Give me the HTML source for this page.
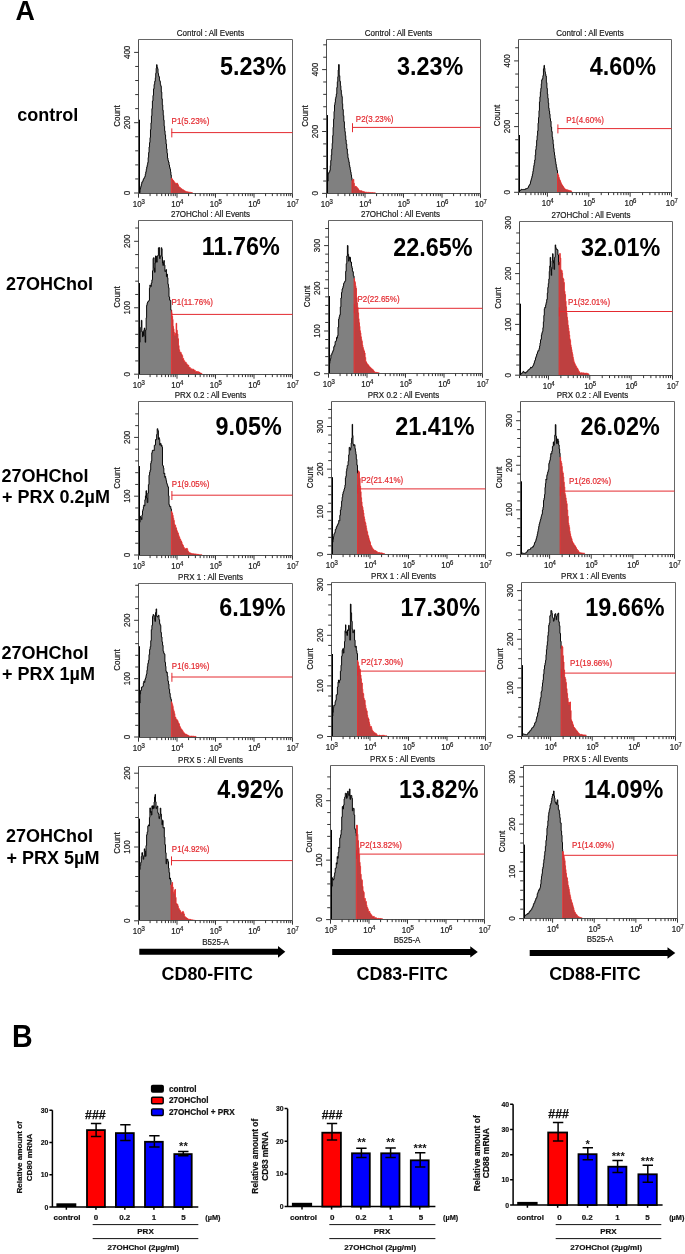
<!DOCTYPE html>
<html><head><meta charset="utf-8"><style>
html,body{margin:0;padding:0;background:#fff;}
body{width:685px;height:1254px;overflow:hidden;}
svg{display:block;will-change:transform;}
text{font-family:"Liberation Sans", sans-serif;}
</style></head><body>
<svg width="685" height="1254" viewBox="0 0 685 1254" font-family='"Liberation Sans", sans-serif'>
<rect width="685" height="1254" fill="#fff"/>
<text x="15.6" y="19.5" font-size="26.8" font-weight="bold" fill="#000" text-anchor="start" >A</text>
<text x="17.2" y="120.7" font-size="18" font-weight="bold" fill="#000" text-anchor="start" >control</text>
<text x="6.1" y="290.2" font-size="18" font-weight="bold" fill="#000" text-anchor="start" >27OHChol</text>
<text x="1.6" y="482" font-size="18" font-weight="bold" fill="#000" text-anchor="start" >27OHChol</text>
<text x="2" y="503.2" font-size="18" font-weight="bold" fill="#000" text-anchor="start" >+ PRX 0.2µM</text>
<text x="1.6" y="659.2" font-size="18" font-weight="bold" fill="#000" text-anchor="start" >27OHChol</text>
<text x="2" y="680.3" font-size="18" font-weight="bold" fill="#000" text-anchor="start" >+ PRX 1µM</text>
<text x="6.1" y="842.3" font-size="18" font-weight="bold" fill="#000" text-anchor="start" >27OHChol</text>
<text x="6.5" y="863.5" font-size="18" font-weight="bold" fill="#000" text-anchor="start" >+ PRX 5µM</text>
<polygon points="138.5,193.5 138.5,119.8 140,119.8 140,192.8 139.6,192.8 140,192.8 140,189.08 140.45,189.08 140.45,187.55 140.9,187.55 140.9,185.92 141.35,185.92 141.35,184.14 141.8,184.14 141.8,182.18 142.3,182.18 142.3,181.73 142.8,181.73 142.8,180.65 143.3,180.65 143.3,179.05 143.8,179.05 143.8,178.46 144.3,178.46 144.3,177.45 144.8,177.45 144.8,176.47 145.28,176.47 145.28,174.17 145.77,174.17 145.77,171.8 146.25,171.8 146.25,169.26 146.73,169.26 146.73,166.88 147.22,166.88 147.22,164.74 147.7,164.74 147.7,162.58 148.16,162.58 148.16,157.5 148.62,157.5 148.62,152.54 149.08,152.54 149.08,146.96 149.54,146.96 149.54,142.59 150,142.59 150,137.63 150.48,137.63 150.48,129.6 150.96,129.6 150.96,122.88 151.44,122.88 151.44,115.88 151.92,115.88 151.92,108.61 152.4,108.61 152.4,100.97 152.97,100.97 152.97,95.44 153.53,95.44 153.53,88.83 154.1,88.83 154.1,84.41 154.7,84.41 154.7,81.28 155.3,81.28 155.3,77.74 155.73,77.74 155.73,73.27 156.17,73.27 156.17,68.2 156.6,68.2 156.6,64.68 157.07,64.68 157.07,67.25 157.55,67.25 157.55,68.62 158.03,68.62 158.03,73.38 158.5,73.38 158.5,75.7 158.96,75.7 158.96,76.81 159.42,76.81 159.42,80.37 159.88,80.37 159.88,81.31 160.34,81.31 160.34,84.64 160.8,84.64 160.8,86.23 161.3,86.23 161.3,92.09 161.8,92.09 161.8,98.87 162.3,98.87 162.3,104.9 162.76,104.9 162.76,110.27 163.22,110.27 163.22,115.4 163.68,115.4 163.68,120.19 164.14,120.19 164.14,126.16 164.6,126.16 164.6,130.85 165.08,130.85 165.08,134.82 165.57,134.82 165.57,139.39 166.05,139.39 166.05,144.03 166.53,144.03 166.53,148.83 167.02,148.83 167.02,153.25 167.5,153.25 167.5,158.08 168,158.08 168,160.66 168.5,160.66 168.5,162.04 169,162.04 169,164.98 169.5,164.98 169.5,167.24 170,167.24 170,169.13 170.5,169.13 170.5,171.8 170.9,171.8 170.9,175.07 171.3,175.07 171.3,178.2 171.3,193.5" fill="#808080"/>
<polygon points="171.3,193.5 171.3,178.2 171.9,178.2 171.9,178.97 172.5,178.97 172.5,179.91 173.03,179.91 173.03,180.45 173.57,180.45 173.57,181 174.1,181 174.1,182.28 174.63,182.28 174.63,182.74 175.17,182.74 175.17,183.27 175.7,183.27 175.7,183.77 176.13,183.77 176.13,183.82 176.57,183.82 176.57,183.22 177,183.22 177,183.23 177.5,183.23 177.5,183.89 178,183.89 178,185.14 178.5,185.14 178.5,186.7 178.97,186.7 178.97,186.93 179.45,186.93 179.45,187.15 179.93,187.15 179.93,187.64 180.4,187.64 180.4,188.19 180.92,188.19 180.92,188.7 181.44,188.7 181.44,188.76 181.96,188.76 181.96,189.47 182.48,189.47 182.48,189.8 183,189.8 183,189.82 183.53,189.82 183.53,190.32 184.07,190.32 184.07,190.64 184.6,190.64 184.6,190.94 185.13,190.94 185.13,191.21 185.67,191.21 185.67,191.51 186.2,191.51 186.2,191.8 186.69,191.8 186.69,191.84 187.18,191.84 187.18,191.85 187.68,191.85 187.68,192.03 188.17,192.03 188.17,192.04 188.66,192.04 188.66,192.2 189.15,192.2 189.15,192.25 189.65,192.25 189.65,192.33 190.14,192.33 190.14,192.28 190.63,192.28 190.63,192.47 191.12,192.47 191.12,192.5 191.62,192.5 191.62,192.57 192.11,192.57 192.11,192.79 192.6,192.79 192.6,192.8 192.6,193.5" fill="#be4040"/>
<path d="M139.5 193.5V119.8" stroke="#000" stroke-width="1" fill="none"/>
<polyline points="140,192.8 139.6,192.8 140,192.8 140,189.08 140.45,189.08 140.45,187.55 140.9,187.55 140.9,185.92 141.35,185.92 141.35,184.14 141.8,184.14 141.8,182.18 142.3,182.18 142.3,181.73 142.8,181.73 142.8,180.65 143.3,180.65 143.3,179.05 143.8,179.05 143.8,178.46 144.3,178.46 144.3,177.45 144.8,177.45 144.8,176.47 145.28,176.47 145.28,174.17 145.77,174.17 145.77,171.8 146.25,171.8 146.25,169.26 146.73,169.26 146.73,166.88 147.22,166.88 147.22,164.74 147.7,164.74 147.7,162.58 148.16,162.58 148.16,157.5 148.62,157.5 148.62,152.54 149.08,152.54 149.08,146.96 149.54,146.96 149.54,142.59 150,142.59 150,137.63 150.48,137.63 150.48,129.6 150.96,129.6 150.96,122.88 151.44,122.88 151.44,115.88 151.92,115.88 151.92,108.61 152.4,108.61 152.4,100.97 152.97,100.97 152.97,95.44 153.53,95.44 153.53,88.83 154.1,88.83 154.1,84.41 154.7,84.41 154.7,81.28 155.3,81.28 155.3,77.74 155.73,77.74 155.73,73.27 156.17,73.27 156.17,68.2 156.6,68.2 156.6,64.68 157.07,64.68 157.07,67.25 157.55,67.25 157.55,68.62 158.03,68.62 158.03,73.38 158.5,73.38 158.5,75.7 158.96,75.7 158.96,76.81 159.42,76.81 159.42,80.37 159.88,80.37 159.88,81.31 160.34,81.31 160.34,84.64 160.8,84.64 160.8,86.23 161.3,86.23 161.3,92.09 161.8,92.09 161.8,98.87 162.3,98.87 162.3,104.9 162.76,104.9 162.76,110.27 163.22,110.27 163.22,115.4 163.68,115.4 163.68,120.19 164.14,120.19 164.14,126.16 164.6,126.16 164.6,130.85 165.08,130.85 165.08,134.82 165.57,134.82 165.57,139.39 166.05,139.39 166.05,144.03 166.53,144.03 166.53,148.83 167.02,148.83 167.02,153.25 167.5,153.25 167.5,158.08 168,158.08 168,160.66 168.5,160.66 168.5,162.04 169,162.04 169,164.98 169.5,164.98 169.5,167.24 170,167.24 170,169.13 170.5,169.13 170.5,171.8 170.9,171.8 170.9,175.07 171.3,175.07 171.3,178.2" fill="none" stroke="#000" stroke-width="0.95" stroke-linejoin="miter"/>
<polyline points="171.3,193.5 171.3,178.2 171.9,178.2 171.9,178.97 172.5,178.97 172.5,179.91 173.03,179.91 173.03,180.45 173.57,180.45 173.57,181 174.1,181 174.1,182.28 174.63,182.28 174.63,182.74 175.17,182.74 175.17,183.27 175.7,183.27 175.7,183.77 176.13,183.77 176.13,183.82 176.57,183.82 176.57,183.22 177,183.22 177,183.23 177.5,183.23 177.5,183.89 178,183.89 178,185.14 178.5,185.14 178.5,186.7 178.97,186.7 178.97,186.93 179.45,186.93 179.45,187.15 179.93,187.15 179.93,187.64 180.4,187.64 180.4,188.19 180.92,188.19 180.92,188.7 181.44,188.7 181.44,188.76 181.96,188.76 181.96,189.47 182.48,189.47 182.48,189.8 183,189.8 183,189.82 183.53,189.82 183.53,190.32 184.07,190.32 184.07,190.64 184.6,190.64 184.6,190.94 185.13,190.94 185.13,191.21 185.67,191.21 185.67,191.51 186.2,191.51 186.2,191.8 186.69,191.8 186.69,191.84 187.18,191.84 187.18,191.85 187.68,191.85 187.68,192.03 188.17,192.03 188.17,192.04 188.66,192.04 188.66,192.2 189.15,192.2 189.15,192.25 189.65,192.25 189.65,192.33 190.14,192.33 190.14,192.28 190.63,192.28 190.63,192.47 191.12,192.47 191.12,192.5 191.62,192.5 191.62,192.57 192.11,192.57 192.11,192.79 192.6,192.79 192.6,192.8" fill="none" stroke="#e82222" stroke-width="0.8"/>
<path d="M138.5 39.5H292.5V193.5" fill="none" stroke="#666" stroke-width="1"/>
<path d="M138.5 39.5V193.5H292.5" fill="none" stroke="#505050" stroke-width="1"/>
<path d="M134.1 193H138.5M135.2 178.94H138.5M135.2 164.88H138.5M135.2 150.82H138.5M135.2 136.76H138.5M134.1 122.7H138.5M135.2 108.64H138.5M135.2 94.58H138.5M135.2 80.52H138.5M135.2 66.46H138.5M134.1 52.4H138.5M138.5 193.5V197.7M150.09 193.5V196.1M156.87 193.5V196.1M161.68 193.5V196.1M165.41 193.5V196.1M168.46 193.5V196.1M171.04 193.5V196.1M173.27 193.5V196.1M175.24 193.5V196.1M177 193.5V197.7M188.59 193.5V196.1M195.37 193.5V196.1M200.18 193.5V196.1M203.91 193.5V196.1M206.96 193.5V196.1M209.54 193.5V196.1M211.77 193.5V196.1M213.74 193.5V196.1M215.5 193.5V197.7M227.09 193.5V196.1M233.87 193.5V196.1M238.68 193.5V196.1M242.41 193.5V196.1M245.46 193.5V196.1M248.04 193.5V196.1M250.27 193.5V196.1M252.24 193.5V196.1M254 193.5V197.7M265.59 193.5V196.1M272.37 193.5V196.1M277.18 193.5V196.1M280.91 193.5V196.1M283.96 193.5V196.1M286.54 193.5V196.1M288.77 193.5V196.1M290.74 193.5V196.1M292.5 193.5V197.7" stroke="#2a2a2a" stroke-width="0.95" fill="none"/>
<text transform="translate(130.2 193) rotate(-90) scale(1 1.16)" font-size="8" font-weight="normal" fill="#1a1a1a" stroke="#1a1a1a" stroke-width="0.18" text-anchor="middle">0</text>
<text transform="translate(130.2 122.7) rotate(-90) scale(1 1.16)" font-size="8" font-weight="normal" fill="#1a1a1a" stroke="#1a1a1a" stroke-width="0.18" text-anchor="middle">200</text>
<text transform="translate(130.2 52.4) rotate(-90) scale(1 1.16)" font-size="8" font-weight="normal" fill="#1a1a1a" stroke="#1a1a1a" stroke-width="0.18" text-anchor="middle">400</text>
<text transform="translate(120.1 116) rotate(-90) scale(1 1.16)" font-size="8" font-weight="normal" fill="#1a1a1a" stroke="#1a1a1a" stroke-width="0.18" text-anchor="middle">Count</text>
<text transform="translate(137.3 207.2) scale(1 1.16)" font-size="8" font-weight="normal" fill="#1a1a1a" stroke="#1a1a1a" stroke-width="0.18" text-anchor="middle">10</text>
<text transform="translate(141.4 203.7) scale(1 1.1)" font-size="6" font-weight="normal" fill="#1a1a1a" stroke="#1a1a1a" stroke-width="0.18" text-anchor="start">3</text>
<text transform="translate(175.8 207.2) scale(1 1.16)" font-size="8" font-weight="normal" fill="#1a1a1a" stroke="#1a1a1a" stroke-width="0.18" text-anchor="middle">10</text>
<text transform="translate(179.9 203.7) scale(1 1.1)" font-size="6" font-weight="normal" fill="#1a1a1a" stroke="#1a1a1a" stroke-width="0.18" text-anchor="start">4</text>
<text transform="translate(214.3 207.2) scale(1 1.16)" font-size="8" font-weight="normal" fill="#1a1a1a" stroke="#1a1a1a" stroke-width="0.18" text-anchor="middle">10</text>
<text transform="translate(218.4 203.7) scale(1 1.1)" font-size="6" font-weight="normal" fill="#1a1a1a" stroke="#1a1a1a" stroke-width="0.18" text-anchor="start">5</text>
<text transform="translate(252.8 207.2) scale(1 1.16)" font-size="8" font-weight="normal" fill="#1a1a1a" stroke="#1a1a1a" stroke-width="0.18" text-anchor="middle">10</text>
<text transform="translate(256.9 203.7) scale(1 1.1)" font-size="6" font-weight="normal" fill="#1a1a1a" stroke="#1a1a1a" stroke-width="0.18" text-anchor="start">6</text>
<text transform="translate(291.3 207.2) scale(1 1.16)" font-size="8" font-weight="normal" fill="#1a1a1a" stroke="#1a1a1a" stroke-width="0.18" text-anchor="middle">10</text>
<text transform="translate(295.4 203.7) scale(1 1.1)" font-size="6" font-weight="normal" fill="#1a1a1a" stroke="#1a1a1a" stroke-width="0.18" text-anchor="start">7</text>
<text transform="translate(210.5 36.1) scale(1 1.16)" font-size="8" font-weight="normal" fill="#1a1a1a" stroke="#1a1a1a" stroke-width="0.18" text-anchor="middle">Control : All Events</text>
<path d="M171.5 132.6H292.5" stroke="#e42a30" stroke-width="1" fill="none"/>
<path d="M171.8 128.4V137.4" stroke="#e42a30" stroke-width="1" fill="none"/>
<text transform="translate(171.6 124.1) scale(1 1.18)" font-size="8" font-weight="normal" fill="#e42a30" stroke="#e42a30" stroke-width="0.18" text-anchor="start">P1(5.23%)</text>
<text transform="translate(219.9 74.8) scale(1 1.08)" font-size="23.4" font-weight="bold" fill="#000">5.23%</text>
<polygon points="326.5,193.5 326.5,115.1 328,115.1 328,181.1 327.4,181.1 328.1,181.1 328.1,173.76 328.67,173.76 328.67,172.66 329.23,172.66 329.23,171.76 329.8,171.76 329.8,170.31 330.28,170.31 330.28,165.7 330.76,165.7 330.76,160.45 331.24,160.45 331.24,155.03 331.72,155.03 331.72,149.13 332.2,149.13 332.2,143.29 332.66,143.29 332.66,135.61 333.12,135.61 333.12,127.26 333.58,127.26 333.58,119.13 334.04,119.13 334.04,111.41 334.5,111.41 334.5,104.91 334.95,104.91 334.95,102.4 335.4,102.4 335.4,98.67 335.85,98.67 335.85,96.83 336.3,96.83 336.3,94.01 336.8,94.01 336.8,87.54 337.3,87.54 337.3,81.71 337.8,81.71 337.8,76.82 338.2,76.82 338.2,70 338.6,70 338.6,64.55 339.2,64.55 339.2,75.71 339.8,75.71 339.8,81.28 340.4,81.28 340.4,85.72 340.87,85.72 340.87,90.25 341.33,90.25 341.33,94.38 341.8,94.38 341.8,96.6 342.25,96.6 342.25,103.64 342.7,103.64 342.7,109.56 343.27,109.56 343.27,115.6 343.83,115.6 343.83,121.69 344.4,121.69 344.4,128.04 344.85,128.04 344.85,131.63 345.3,131.63 345.3,135.58 345.75,135.58 345.75,139.97 346.2,139.97 346.2,143.96 346.77,143.96 346.77,148.94 347.33,148.94 347.33,153.71 347.9,153.71 347.9,157.92 348.35,157.92 348.35,159.62 348.8,159.62 348.8,161.94 349.25,161.94 349.25,165.11 349.7,165.11 349.7,167.17 350.16,167.17 350.16,169.75 350.62,169.75 350.62,172.17 351.08,172.17 351.08,174.83 351.54,174.83 351.54,177.66 352,177.66 352,180.5 352,193.5" fill="#808080"/>
<polygon points="352,193.5 352,180.5 352.6,180.5 352.6,179.85 353.2,179.85 353.2,179.33 353.8,179.33 353.8,183.27 354.4,183.27 354.4,186.92 354.95,186.92 354.95,186.54 355.5,186.54 355.5,186.19 355.95,186.19 355.95,186.54 356.4,186.54 356.4,187.19 356.85,187.19 356.85,187.4 357.3,187.4 357.3,188.22 357.87,188.22 357.87,188.77 358.43,188.77 358.43,189.62 359,189.62 359,190.5 359.5,190.5 359.5,190.49 360,190.49 360,190.74 360.5,190.74 360.5,190.78 361,190.78 361,190.69 361.49,190.69 361.49,191.06 361.98,191.06 361.98,191.13 362.46,191.13 362.46,191.41 362.95,191.41 362.95,191.47 363.44,191.47 363.44,191.71 363.92,191.71 363.92,191.8 364.41,191.8 364.41,191.98 364.9,191.98 364.9,192.28 365.4,192.28 365.4,192.29 365.9,192.29 365.9,192.21 366.4,192.21 366.4,192.25 366.9,192.25 366.9,192.4 367.4,192.4 367.4,192.41 367.9,192.41 367.9,192.29 368.4,192.29 368.4,192.42 368.9,192.42 368.9,192.38 369.4,192.38 369.4,192.52 369.9,192.52 369.9,192.47 370.4,192.47 370.4,192.49 370.9,192.49 370.9,192.48 371.4,192.48 371.4,192.64 371.9,192.64 371.9,192.62 372.4,192.62 372.4,192.58 372.9,192.58 372.9,192.71 373.4,192.71 373.4,192.71 373.9,192.71 373.9,192.78 374.4,192.78 374.4,192.76 374.9,192.76 374.9,192.72 375.4,192.72 375.4,192.8 375.4,193.5" fill="#be4040"/>
<path d="M327.5 193.5V115.1" stroke="#000" stroke-width="1" fill="none"/>
<polyline points="328,181.1 327.4,181.1 328.1,181.1 328.1,173.76 328.67,173.76 328.67,172.66 329.23,172.66 329.23,171.76 329.8,171.76 329.8,170.31 330.28,170.31 330.28,165.7 330.76,165.7 330.76,160.45 331.24,160.45 331.24,155.03 331.72,155.03 331.72,149.13 332.2,149.13 332.2,143.29 332.66,143.29 332.66,135.61 333.12,135.61 333.12,127.26 333.58,127.26 333.58,119.13 334.04,119.13 334.04,111.41 334.5,111.41 334.5,104.91 334.95,104.91 334.95,102.4 335.4,102.4 335.4,98.67 335.85,98.67 335.85,96.83 336.3,96.83 336.3,94.01 336.8,94.01 336.8,87.54 337.3,87.54 337.3,81.71 337.8,81.71 337.8,76.82 338.2,76.82 338.2,70 338.6,70 338.6,64.55 339.2,64.55 339.2,75.71 339.8,75.71 339.8,81.28 340.4,81.28 340.4,85.72 340.87,85.72 340.87,90.25 341.33,90.25 341.33,94.38 341.8,94.38 341.8,96.6 342.25,96.6 342.25,103.64 342.7,103.64 342.7,109.56 343.27,109.56 343.27,115.6 343.83,115.6 343.83,121.69 344.4,121.69 344.4,128.04 344.85,128.04 344.85,131.63 345.3,131.63 345.3,135.58 345.75,135.58 345.75,139.97 346.2,139.97 346.2,143.96 346.77,143.96 346.77,148.94 347.33,148.94 347.33,153.71 347.9,153.71 347.9,157.92 348.35,157.92 348.35,159.62 348.8,159.62 348.8,161.94 349.25,161.94 349.25,165.11 349.7,165.11 349.7,167.17 350.16,167.17 350.16,169.75 350.62,169.75 350.62,172.17 351.08,172.17 351.08,174.83 351.54,174.83 351.54,177.66 352,177.66 352,180.5" fill="none" stroke="#000" stroke-width="0.95" stroke-linejoin="miter"/>
<polyline points="352,193.5 352,180.5 352.6,180.5 352.6,179.85 353.2,179.85 353.2,179.33 353.8,179.33 353.8,183.27 354.4,183.27 354.4,186.92 354.95,186.92 354.95,186.54 355.5,186.54 355.5,186.19 355.95,186.19 355.95,186.54 356.4,186.54 356.4,187.19 356.85,187.19 356.85,187.4 357.3,187.4 357.3,188.22 357.87,188.22 357.87,188.77 358.43,188.77 358.43,189.62 359,189.62 359,190.5 359.5,190.5 359.5,190.49 360,190.49 360,190.74 360.5,190.74 360.5,190.78 361,190.78 361,190.69 361.49,190.69 361.49,191.06 361.98,191.06 361.98,191.13 362.46,191.13 362.46,191.41 362.95,191.41 362.95,191.47 363.44,191.47 363.44,191.71 363.92,191.71 363.92,191.8 364.41,191.8 364.41,191.98 364.9,191.98 364.9,192.28 365.4,192.28 365.4,192.29 365.9,192.29 365.9,192.21 366.4,192.21 366.4,192.25 366.9,192.25 366.9,192.4 367.4,192.4 367.4,192.41 367.9,192.41 367.9,192.29 368.4,192.29 368.4,192.42 368.9,192.42 368.9,192.38 369.4,192.38 369.4,192.52 369.9,192.52 369.9,192.47 370.4,192.47 370.4,192.49 370.9,192.49 370.9,192.48 371.4,192.48 371.4,192.64 371.9,192.64 371.9,192.62 372.4,192.62 372.4,192.58 372.9,192.58 372.9,192.71 373.4,192.71 373.4,192.71 373.9,192.71 373.9,192.78 374.4,192.78 374.4,192.76 374.9,192.76 374.9,192.72 375.4,192.72 375.4,192.8" fill="none" stroke="#e82222" stroke-width="0.8"/>
<path d="M326.5 39.5H480.5V193.5" fill="none" stroke="#666" stroke-width="1"/>
<path d="M326.5 39.5V193.5H480.5" fill="none" stroke="#505050" stroke-width="1"/>
<path d="M322.1 193.4H326.5M323.2 181.02H326.5M323.2 168.64H326.5M323.2 156.26H326.5M323.2 143.88H326.5M322.1 131.5H326.5M323.2 119.12H326.5M323.2 106.74H326.5M323.2 94.36H326.5M323.2 81.98H326.5M322.1 69.6H326.5M323.2 57.22H326.5M323.2 44.84H326.5M326.5 193.5V197.7M338.09 193.5V196.1M344.87 193.5V196.1M349.68 193.5V196.1M353.41 193.5V196.1M356.46 193.5V196.1M359.04 193.5V196.1M361.27 193.5V196.1M363.24 193.5V196.1M365 193.5V197.7M376.59 193.5V196.1M383.37 193.5V196.1M388.18 193.5V196.1M391.91 193.5V196.1M394.96 193.5V196.1M397.54 193.5V196.1M399.77 193.5V196.1M401.74 193.5V196.1M403.5 193.5V197.7M415.09 193.5V196.1M421.87 193.5V196.1M426.68 193.5V196.1M430.41 193.5V196.1M433.46 193.5V196.1M436.04 193.5V196.1M438.27 193.5V196.1M440.24 193.5V196.1M442 193.5V197.7M453.59 193.5V196.1M460.37 193.5V196.1M465.18 193.5V196.1M468.91 193.5V196.1M471.96 193.5V196.1M474.54 193.5V196.1M476.77 193.5V196.1M478.74 193.5V196.1M480.5 193.5V197.7" stroke="#2a2a2a" stroke-width="0.95" fill="none"/>
<text transform="translate(318.2 193.4) rotate(-90) scale(1 1.16)" font-size="8" font-weight="normal" fill="#1a1a1a" stroke="#1a1a1a" stroke-width="0.18" text-anchor="middle">0</text>
<text transform="translate(318.2 131.5) rotate(-90) scale(1 1.16)" font-size="8" font-weight="normal" fill="#1a1a1a" stroke="#1a1a1a" stroke-width="0.18" text-anchor="middle">200</text>
<text transform="translate(318.2 69.6) rotate(-90) scale(1 1.16)" font-size="8" font-weight="normal" fill="#1a1a1a" stroke="#1a1a1a" stroke-width="0.18" text-anchor="middle">400</text>
<text transform="translate(308.1 116) rotate(-90) scale(1 1.16)" font-size="8" font-weight="normal" fill="#1a1a1a" stroke="#1a1a1a" stroke-width="0.18" text-anchor="middle">Count</text>
<text transform="translate(325.3 207.2) scale(1 1.16)" font-size="8" font-weight="normal" fill="#1a1a1a" stroke="#1a1a1a" stroke-width="0.18" text-anchor="middle">10</text>
<text transform="translate(329.4 203.7) scale(1 1.1)" font-size="6" font-weight="normal" fill="#1a1a1a" stroke="#1a1a1a" stroke-width="0.18" text-anchor="start">3</text>
<text transform="translate(363.8 207.2) scale(1 1.16)" font-size="8" font-weight="normal" fill="#1a1a1a" stroke="#1a1a1a" stroke-width="0.18" text-anchor="middle">10</text>
<text transform="translate(367.9 203.7) scale(1 1.1)" font-size="6" font-weight="normal" fill="#1a1a1a" stroke="#1a1a1a" stroke-width="0.18" text-anchor="start">4</text>
<text transform="translate(402.3 207.2) scale(1 1.16)" font-size="8" font-weight="normal" fill="#1a1a1a" stroke="#1a1a1a" stroke-width="0.18" text-anchor="middle">10</text>
<text transform="translate(406.4 203.7) scale(1 1.1)" font-size="6" font-weight="normal" fill="#1a1a1a" stroke="#1a1a1a" stroke-width="0.18" text-anchor="start">5</text>
<text transform="translate(440.8 207.2) scale(1 1.16)" font-size="8" font-weight="normal" fill="#1a1a1a" stroke="#1a1a1a" stroke-width="0.18" text-anchor="middle">10</text>
<text transform="translate(444.9 203.7) scale(1 1.1)" font-size="6" font-weight="normal" fill="#1a1a1a" stroke="#1a1a1a" stroke-width="0.18" text-anchor="start">6</text>
<text transform="translate(479.3 207.2) scale(1 1.16)" font-size="8" font-weight="normal" fill="#1a1a1a" stroke="#1a1a1a" stroke-width="0.18" text-anchor="middle">10</text>
<text transform="translate(483.4 203.7) scale(1 1.1)" font-size="6" font-weight="normal" fill="#1a1a1a" stroke="#1a1a1a" stroke-width="0.18" text-anchor="start">7</text>
<text transform="translate(398.5 36.1) scale(1 1.16)" font-size="8" font-weight="normal" fill="#1a1a1a" stroke="#1a1a1a" stroke-width="0.18" text-anchor="middle">Control : All Events</text>
<path d="M352.2 127.4H480.5" stroke="#e42a30" stroke-width="1" fill="none"/>
<path d="M352.5 123.2V132.2" stroke="#e42a30" stroke-width="1" fill="none"/>
<text transform="translate(355.8 121.5) scale(1 1.18)" font-size="8" font-weight="normal" fill="#e42a30" stroke="#e42a30" stroke-width="0.18" text-anchor="start">P2(3.23%)</text>
<text transform="translate(397 74.8) scale(1 1.08)" font-size="23.4" font-weight="bold" fill="#000">3.23%</text>
<polygon points="518.5,192.5 518.5,135 520,135 520,191 519.5,191 519.95,191 519.95,190.55 520.4,190.55 520.4,190.08 520.85,190.08 520.85,189.89 521.3,189.89 521.3,189.28 521.84,189.28 521.84,189.54 522.38,189.54 522.38,189.5 522.92,189.5 522.92,189.57 523.46,189.57 523.46,189.42 524,189.42 524,189.54 524.53,189.54 524.53,189.47 525.06,189.47 525.06,188.89 525.59,188.89 525.59,189.08 526.11,189.08 526.11,188.61 526.64,188.61 526.64,188.57 527.17,188.57 527.17,188.38 527.7,188.38 527.7,188.01 528.16,188.01 528.16,187.28 528.62,187.28 528.62,186.01 529.08,186.01 529.08,185.3 529.54,185.3 529.54,184.65 530,184.65 530,183.68 530.48,183.68 530.48,181.54 530.96,181.54 530.96,179.7 531.44,179.7 531.44,178.23 531.92,178.23 531.92,176.23 532.4,176.23 532.4,174.09 532.86,174.09 532.86,171.37 533.32,171.37 533.32,168.4 533.78,168.4 533.78,165.6 534.24,165.6 534.24,163.04 534.7,163.04 534.7,159.99 535.18,159.99 535.18,154.96 535.67,154.96 535.67,149.63 536.15,149.63 536.15,145.97 536.63,145.97 536.63,140.29 537.12,140.29 537.12,135.67 537.6,135.67 537.6,130.98 538.06,130.98 538.06,123.16 538.52,123.16 538.52,117.49 538.98,117.49 538.98,110.7 539.44,110.7 539.44,101.81 539.9,101.81 539.9,96.83 540.35,96.83 540.35,91.79 540.8,91.79 540.8,88.37 541.25,88.37 541.25,83.78 541.7,83.78 541.7,79.87 542.3,79.87 542.3,78.6 542.9,78.6 542.9,75.62 543.45,75.62 543.45,68.74 544,68.74 544,65.36 544.45,65.36 544.45,68.35 544.9,68.35 544.9,71.78 545.35,71.78 545.35,74.02 545.8,74.02 545.8,76.07 546.35,76.07 546.35,82.64 546.9,82.64 546.9,88.36 547.35,88.36 547.35,94 547.8,94 547.8,98.25 548.25,98.25 548.25,102.94 548.7,102.94 548.7,108.21 549.15,108.21 549.15,110.97 549.6,110.97 549.6,114.17 550.05,114.17 550.05,118.41 550.5,118.41 550.5,121.17 551.07,121.17 551.07,127.07 551.63,127.07 551.63,131.53 552.2,131.53 552.2,136.91 552.66,136.91 552.66,139.66 553.12,139.66 553.12,144.19 553.58,144.19 553.58,148.48 554.04,148.48 554.04,152.27 554.5,152.27 554.5,155.29 554.95,155.29 554.95,158.57 555.4,158.57 555.4,161.57 555.85,161.57 555.85,164.35 556.3,164.35 556.3,167.38 556.9,167.38 556.9,170.33 557.5,170.33 557.5,173.5 557.5,192.5" fill="#808080"/>
<polygon points="557.5,192.5 557.5,173.5 558.07,173.5 558.07,175.01 558.63,175.01 558.63,177.2 559.2,177.2 559.2,178.86 559.66,178.86 559.66,180.08 560.12,180.08 560.12,180.87 560.58,180.87 560.58,182.17 561.04,182.17 561.04,183.39 561.5,183.39 561.5,184.35 562,184.35 562,185.07 562.5,185.07 562.5,185.78 563,185.78 563,186.61 563.5,186.61 563.5,187.36 564,187.36 564,188.13 564.5,188.13 564.5,188.59 565,188.59 565,189.36 565.5,189.36 565.5,189.37 566,189.37 566,189.66 566.5,189.66 566.5,189.76 567,189.76 567,189.8 567.5,189.8 567.5,190.15 568,190.15 568,190.12 568.5,190.12 568.5,190.42 569,190.42 569,190.47 569.5,190.47 569.5,190.74 570,190.74 570,190.78 570.5,190.78 570.5,190.87 571,190.87 571,191.18 571.5,191.18 571.5,191.21 572,191.21 572,191.4 572,192.5" fill="#be4040"/>
<path d="M519.5 192.5V135" stroke="#000" stroke-width="1" fill="none"/>
<polyline points="520,191 519.5,191 519.95,191 519.95,190.55 520.4,190.55 520.4,190.08 520.85,190.08 520.85,189.89 521.3,189.89 521.3,189.28 521.84,189.28 521.84,189.54 522.38,189.54 522.38,189.5 522.92,189.5 522.92,189.57 523.46,189.57 523.46,189.42 524,189.42 524,189.54 524.53,189.54 524.53,189.47 525.06,189.47 525.06,188.89 525.59,188.89 525.59,189.08 526.11,189.08 526.11,188.61 526.64,188.61 526.64,188.57 527.17,188.57 527.17,188.38 527.7,188.38 527.7,188.01 528.16,188.01 528.16,187.28 528.62,187.28 528.62,186.01 529.08,186.01 529.08,185.3 529.54,185.3 529.54,184.65 530,184.65 530,183.68 530.48,183.68 530.48,181.54 530.96,181.54 530.96,179.7 531.44,179.7 531.44,178.23 531.92,178.23 531.92,176.23 532.4,176.23 532.4,174.09 532.86,174.09 532.86,171.37 533.32,171.37 533.32,168.4 533.78,168.4 533.78,165.6 534.24,165.6 534.24,163.04 534.7,163.04 534.7,159.99 535.18,159.99 535.18,154.96 535.67,154.96 535.67,149.63 536.15,149.63 536.15,145.97 536.63,145.97 536.63,140.29 537.12,140.29 537.12,135.67 537.6,135.67 537.6,130.98 538.06,130.98 538.06,123.16 538.52,123.16 538.52,117.49 538.98,117.49 538.98,110.7 539.44,110.7 539.44,101.81 539.9,101.81 539.9,96.83 540.35,96.83 540.35,91.79 540.8,91.79 540.8,88.37 541.25,88.37 541.25,83.78 541.7,83.78 541.7,79.87 542.3,79.87 542.3,78.6 542.9,78.6 542.9,75.62 543.45,75.62 543.45,68.74 544,68.74 544,65.36 544.45,65.36 544.45,68.35 544.9,68.35 544.9,71.78 545.35,71.78 545.35,74.02 545.8,74.02 545.8,76.07 546.35,76.07 546.35,82.64 546.9,82.64 546.9,88.36 547.35,88.36 547.35,94 547.8,94 547.8,98.25 548.25,98.25 548.25,102.94 548.7,102.94 548.7,108.21 549.15,108.21 549.15,110.97 549.6,110.97 549.6,114.17 550.05,114.17 550.05,118.41 550.5,118.41 550.5,121.17 551.07,121.17 551.07,127.07 551.63,127.07 551.63,131.53 552.2,131.53 552.2,136.91 552.66,136.91 552.66,139.66 553.12,139.66 553.12,144.19 553.58,144.19 553.58,148.48 554.04,148.48 554.04,152.27 554.5,152.27 554.5,155.29 554.95,155.29 554.95,158.57 555.4,158.57 555.4,161.57 555.85,161.57 555.85,164.35 556.3,164.35 556.3,167.38 556.9,167.38 556.9,170.33 557.5,170.33 557.5,173.5" fill="none" stroke="#000" stroke-width="0.95" stroke-linejoin="miter"/>
<polyline points="557.5,192.5 557.5,173.5 558.07,173.5 558.07,175.01 558.63,175.01 558.63,177.2 559.2,177.2 559.2,178.86 559.66,178.86 559.66,180.08 560.12,180.08 560.12,180.87 560.58,180.87 560.58,182.17 561.04,182.17 561.04,183.39 561.5,183.39 561.5,184.35 562,184.35 562,185.07 562.5,185.07 562.5,185.78 563,185.78 563,186.61 563.5,186.61 563.5,187.36 564,187.36 564,188.13 564.5,188.13 564.5,188.59 565,188.59 565,189.36 565.5,189.36 565.5,189.37 566,189.37 566,189.66 566.5,189.66 566.5,189.76 567,189.76 567,189.8 567.5,189.8 567.5,190.15 568,190.15 568,190.12 568.5,190.12 568.5,190.42 569,190.42 569,190.47 569.5,190.47 569.5,190.74 570,190.74 570,190.78 570.5,190.78 570.5,190.87 571,190.87 571,191.18 571.5,191.18 571.5,191.21 572,191.21 572,191.4" fill="none" stroke="#e82222" stroke-width="0.8"/>
<path d="M518.5 39.5H671.5V192.5" fill="none" stroke="#666" stroke-width="1"/>
<path d="M518.5 39.5V192.5H671.5" fill="none" stroke="#505050" stroke-width="1"/>
<path d="M514.1 192.3H518.5M515.2 179.16H518.5M515.2 166.02H518.5M515.2 152.88H518.5M515.2 139.74H518.5M514.1 126.6H518.5M515.2 113.46H518.5M515.2 100.32H518.5M515.2 87.18H518.5M515.2 74.04H518.5M514.1 60.9H518.5M515.2 47.76H518.5M518.5 192.5V195.1M525.78 192.5V195.1M530.95 192.5V195.1M534.96 192.5V195.1M538.24 192.5V195.1M541 192.5V195.1M543.4 192.5V195.1M545.52 192.5V195.1M547.41 192.5V196.7M559.86 192.5V195.1M567.15 192.5V195.1M572.31 192.5V195.1M576.32 192.5V195.1M579.6 192.5V195.1M582.37 192.5V195.1M584.77 192.5V195.1M586.88 192.5V195.1M588.77 192.5V196.7M601.23 192.5V195.1M608.51 192.5V195.1M613.68 192.5V195.1M617.69 192.5V195.1M620.96 192.5V195.1M623.73 192.5V195.1M626.13 192.5V195.1M628.24 192.5V195.1M630.14 192.5V196.7M642.59 192.5V195.1M649.87 192.5V195.1M655.04 192.5V195.1M659.05 192.5V195.1M662.32 192.5V195.1M665.09 192.5V195.1M667.49 192.5V195.1M669.61 192.5V195.1M671.5 192.5V196.7" stroke="#2a2a2a" stroke-width="0.95" fill="none"/>
<text transform="translate(510.2 192.3) rotate(-90) scale(1 1.16)" font-size="8" font-weight="normal" fill="#1a1a1a" stroke="#1a1a1a" stroke-width="0.18" text-anchor="middle">0</text>
<text transform="translate(510.2 126.6) rotate(-90) scale(1 1.16)" font-size="8" font-weight="normal" fill="#1a1a1a" stroke="#1a1a1a" stroke-width="0.18" text-anchor="middle">200</text>
<text transform="translate(510.2 60.9) rotate(-90) scale(1 1.16)" font-size="8" font-weight="normal" fill="#1a1a1a" stroke="#1a1a1a" stroke-width="0.18" text-anchor="middle">400</text>
<text transform="translate(500.1 115.5) rotate(-90) scale(1 1.16)" font-size="8" font-weight="normal" fill="#1a1a1a" stroke="#1a1a1a" stroke-width="0.18" text-anchor="middle">Count</text>
<text transform="translate(546.21 206.2) scale(1 1.16)" font-size="8" font-weight="normal" fill="#1a1a1a" stroke="#1a1a1a" stroke-width="0.18" text-anchor="middle">10</text>
<text transform="translate(550.31 202.7) scale(1 1.1)" font-size="6" font-weight="normal" fill="#1a1a1a" stroke="#1a1a1a" stroke-width="0.18" text-anchor="start">4</text>
<text transform="translate(587.57 206.2) scale(1 1.16)" font-size="8" font-weight="normal" fill="#1a1a1a" stroke="#1a1a1a" stroke-width="0.18" text-anchor="middle">10</text>
<text transform="translate(591.67 202.7) scale(1 1.1)" font-size="6" font-weight="normal" fill="#1a1a1a" stroke="#1a1a1a" stroke-width="0.18" text-anchor="start">5</text>
<text transform="translate(628.94 206.2) scale(1 1.16)" font-size="8" font-weight="normal" fill="#1a1a1a" stroke="#1a1a1a" stroke-width="0.18" text-anchor="middle">10</text>
<text transform="translate(633.04 202.7) scale(1 1.1)" font-size="6" font-weight="normal" fill="#1a1a1a" stroke="#1a1a1a" stroke-width="0.18" text-anchor="start">6</text>
<text transform="translate(670.3 206.2) scale(1 1.16)" font-size="8" font-weight="normal" fill="#1a1a1a" stroke="#1a1a1a" stroke-width="0.18" text-anchor="middle">10</text>
<text transform="translate(674.4 202.7) scale(1 1.1)" font-size="6" font-weight="normal" fill="#1a1a1a" stroke="#1a1a1a" stroke-width="0.18" text-anchor="start">7</text>
<text transform="translate(590 36.1) scale(1 1.16)" font-size="8" font-weight="normal" fill="#1a1a1a" stroke="#1a1a1a" stroke-width="0.18" text-anchor="middle">Control : All Events</text>
<path d="M557.6 128.6H671.5" stroke="#e42a30" stroke-width="1" fill="none"/>
<path d="M557.9 124.4V133.4" stroke="#e42a30" stroke-width="1" fill="none"/>
<text transform="translate(566.2 122.5) scale(1 1.18)" font-size="8" font-weight="normal" fill="#e42a30" stroke="#e42a30" stroke-width="0.18" text-anchor="start">P1(4.60%)</text>
<text transform="translate(589.7 74.8) scale(1 1.08)" font-size="23.4" font-weight="bold" fill="#000">4.60%</text>
<polygon points="138.5,374.5 138.5,283.1 140,283.1 140,342.2 139.4,342.2 140.1,342.2 140.1,331.81 140.7,331.81 140.7,327.45 141.3,327.45 141.3,320.32 141.9,320.32 141.9,331.6 142.5,331.6 142.5,336.79 143,336.79 143,335.61 143.5,335.61 143.5,331.25 143.9,331.25 143.9,329.82 144.3,329.82 144.3,327.96 144.75,327.96 144.75,336.14 145.2,336.14 145.2,342.32 145.67,342.32 145.67,329.9 146.13,329.9 146.13,317.84 146.6,317.84 146.6,305.32 147.1,305.32 147.1,303.26 147.6,303.26 147.6,301.92 148.07,301.92 148.07,301.52 148.53,301.52 148.53,301.09 149,301.09 149,300.16 149.45,300.16 149.45,288.11 149.9,288.11 149.9,284.96 150.3,284.96 150.3,285.52 150.7,285.52 150.7,286.49 151.3,286.49 151.3,283.01 151.9,283.01 151.9,279.89 152.5,279.89 152.5,270.75 153.1,270.75 153.1,258.4 153.6,258.4 153.6,257.71 154.1,257.71 154.1,268.09 154.6,268.09 154.6,272.32 155.07,272.32 155.07,262.92 155.53,262.92 155.53,255.92 156,255.92 156,256.34 156.6,256.34 156.6,262.22 157.2,262.22 157.2,256.07 157.8,256.07 157.8,255.53 158.4,255.53 158.4,247.83 159,247.83 159,247.62 159.6,247.62 159.6,258.58 160.2,258.58 160.2,256.32 160.8,256.32 160.8,255.32 161.25,255.32 161.25,247.68 161.7,247.68 161.7,248.77 162.1,248.77 162.1,256.81 162.5,256.81 162.5,263.19 162.95,263.19 162.95,265.47 163.4,265.47 163.4,262.07 163.85,262.07 163.85,260.53 164.3,260.53 164.3,265.11 164.9,265.11 164.9,271.54 165.5,271.54 165.5,270.72 165.97,270.72 165.97,269.54 166.43,269.54 166.43,276.57 166.9,276.57 166.9,274.12 167.4,274.12 167.4,277.77 167.9,277.77 167.9,284.23 168.45,284.23 168.45,287.64 169,287.64 169,296.93 169.6,296.93 169.6,300.18 170.2,300.18 170.2,300.39 170.8,300.39 170.8,309.93 171.4,309.93 171.4,312.6 171.4,374.5" fill="#808080"/>
<polygon points="171.4,374.5 171.4,312.6 172,312.6 172,316.24 172.6,316.24 172.6,319.38 173.05,319.38 173.05,326.36 173.5,326.36 173.5,328.84 173.97,328.84 173.97,332.35 174.43,332.35 174.43,335.47 174.9,335.47 174.9,335.14 175.5,335.14 175.5,333.24 176.1,333.24 176.1,323.28 176.7,323.28 176.7,330.29 177.3,330.29 177.3,334.05 177.9,334.05 177.9,338.67 178.5,338.67 178.5,345.62 179.07,345.62 179.07,349.75 179.63,349.75 179.63,351.9 180.2,351.9 180.2,352.2 180.7,352.2 180.7,352.43 181.2,352.43 181.2,354.04 181.7,354.04 181.7,354.75 182.2,354.75 182.2,355.67 182.7,355.67 182.7,359.11 183.2,359.11 183.2,358.58 183.7,358.58 183.7,360.82 184.2,360.82 184.2,360.73 184.7,360.73 184.7,362.15 185.2,362.15 185.2,362.18 185.7,362.18 185.7,362.34 186.2,362.34 186.2,363.85 186.7,363.85 186.7,363.89 187.21,363.89 187.21,365.19 187.73,365.19 187.73,365.08 188.24,365.08 188.24,365.28 188.76,365.28 188.76,367.27 189.27,367.27 189.27,367.31 189.79,367.31 189.79,367.58 190.3,367.58 190.3,369.01 190.79,369.01 190.79,369.2 191.28,369.2 191.28,368.8 191.78,368.8 191.78,369.18 192.27,369.18 192.27,369.16 192.76,369.16 192.76,369.42 193.25,369.42 193.25,369.18 193.74,369.18 193.74,369.9 194.23,369.9 194.23,370.92 194.72,370.92 194.72,370.3 195.22,370.3 195.22,371.7 195.71,371.7 195.71,371.79 196.2,371.79 196.2,371.49 196.69,371.49 196.69,371.58 197.18,371.58 197.18,372.37 197.67,372.37 197.67,371.61 198.17,371.61 198.17,371.83 198.66,371.83 198.66,372.91 199.15,372.91 199.15,372.12 199.64,372.12 199.64,372.98 200.13,372.98 200.13,373.01 200.62,373.01 200.62,373.08 201.12,373.08 201.12,373.36 201.61,373.36 201.61,373.65 202.1,373.65 202.1,373.4 202.1,374.5" fill="#be4040"/>
<path d="M139.5 374.5V283.1" stroke="#000" stroke-width="1" fill="none"/>
<polyline points="140,342.2 139.4,342.2 140.1,342.2 140.1,331.81 140.7,331.81 140.7,327.45 141.3,327.45 141.3,320.32 141.9,320.32 141.9,331.6 142.5,331.6 142.5,336.79 143,336.79 143,335.61 143.5,335.61 143.5,331.25 143.9,331.25 143.9,329.82 144.3,329.82 144.3,327.96 144.75,327.96 144.75,336.14 145.2,336.14 145.2,342.32 145.67,342.32 145.67,329.9 146.13,329.9 146.13,317.84 146.6,317.84 146.6,305.32 147.1,305.32 147.1,303.26 147.6,303.26 147.6,301.92 148.07,301.92 148.07,301.52 148.53,301.52 148.53,301.09 149,301.09 149,300.16 149.45,300.16 149.45,288.11 149.9,288.11 149.9,284.96 150.3,284.96 150.3,285.52 150.7,285.52 150.7,286.49 151.3,286.49 151.3,283.01 151.9,283.01 151.9,279.89 152.5,279.89 152.5,270.75 153.1,270.75 153.1,258.4 153.6,258.4 153.6,257.71 154.1,257.71 154.1,268.09 154.6,268.09 154.6,272.32 155.07,272.32 155.07,262.92 155.53,262.92 155.53,255.92 156,255.92 156,256.34 156.6,256.34 156.6,262.22 157.2,262.22 157.2,256.07 157.8,256.07 157.8,255.53 158.4,255.53 158.4,247.83 159,247.83 159,247.62 159.6,247.62 159.6,258.58 160.2,258.58 160.2,256.32 160.8,256.32 160.8,255.32 161.25,255.32 161.25,247.68 161.7,247.68 161.7,248.77 162.1,248.77 162.1,256.81 162.5,256.81 162.5,263.19 162.95,263.19 162.95,265.47 163.4,265.47 163.4,262.07 163.85,262.07 163.85,260.53 164.3,260.53 164.3,265.11 164.9,265.11 164.9,271.54 165.5,271.54 165.5,270.72 165.97,270.72 165.97,269.54 166.43,269.54 166.43,276.57 166.9,276.57 166.9,274.12 167.4,274.12 167.4,277.77 167.9,277.77 167.9,284.23 168.45,284.23 168.45,287.64 169,287.64 169,296.93 169.6,296.93 169.6,300.18 170.2,300.18 170.2,300.39 170.8,300.39 170.8,309.93 171.4,309.93 171.4,312.6" fill="none" stroke="#000" stroke-width="0.95" stroke-linejoin="miter"/>
<polyline points="171.4,374.5 171.4,312.6 172,312.6 172,316.24 172.6,316.24 172.6,319.38 173.05,319.38 173.05,326.36 173.5,326.36 173.5,328.84 173.97,328.84 173.97,332.35 174.43,332.35 174.43,335.47 174.9,335.47 174.9,335.14 175.5,335.14 175.5,333.24 176.1,333.24 176.1,323.28 176.7,323.28 176.7,330.29 177.3,330.29 177.3,334.05 177.9,334.05 177.9,338.67 178.5,338.67 178.5,345.62 179.07,345.62 179.07,349.75 179.63,349.75 179.63,351.9 180.2,351.9 180.2,352.2 180.7,352.2 180.7,352.43 181.2,352.43 181.2,354.04 181.7,354.04 181.7,354.75 182.2,354.75 182.2,355.67 182.7,355.67 182.7,359.11 183.2,359.11 183.2,358.58 183.7,358.58 183.7,360.82 184.2,360.82 184.2,360.73 184.7,360.73 184.7,362.15 185.2,362.15 185.2,362.18 185.7,362.18 185.7,362.34 186.2,362.34 186.2,363.85 186.7,363.85 186.7,363.89 187.21,363.89 187.21,365.19 187.73,365.19 187.73,365.08 188.24,365.08 188.24,365.28 188.76,365.28 188.76,367.27 189.27,367.27 189.27,367.31 189.79,367.31 189.79,367.58 190.3,367.58 190.3,369.01 190.79,369.01 190.79,369.2 191.28,369.2 191.28,368.8 191.78,368.8 191.78,369.18 192.27,369.18 192.27,369.16 192.76,369.16 192.76,369.42 193.25,369.42 193.25,369.18 193.74,369.18 193.74,369.9 194.23,369.9 194.23,370.92 194.72,370.92 194.72,370.3 195.22,370.3 195.22,371.7 195.71,371.7 195.71,371.79 196.2,371.79 196.2,371.49 196.69,371.49 196.69,371.58 197.18,371.58 197.18,372.37 197.67,372.37 197.67,371.61 198.17,371.61 198.17,371.83 198.66,371.83 198.66,372.91 199.15,372.91 199.15,372.12 199.64,372.12 199.64,372.98 200.13,372.98 200.13,373.01 200.62,373.01 200.62,373.08 201.12,373.08 201.12,373.36 201.61,373.36 201.61,373.65 202.1,373.65 202.1,373.4" fill="none" stroke="#e82222" stroke-width="0.8"/>
<path d="M138.5 220.5H292.5V374.5" fill="none" stroke="#666" stroke-width="1"/>
<path d="M138.5 220.5V374.5H292.5" fill="none" stroke="#505050" stroke-width="1"/>
<path d="M134.1 374.2H138.5M135.2 360.91H138.5M135.2 347.62H138.5M135.2 334.33H138.5M135.2 321.04H138.5M134.1 307.75H138.5M135.2 294.46H138.5M135.2 281.17H138.5M135.2 267.88H138.5M135.2 254.59H138.5M134.1 241.3H138.5M135.2 228.01H138.5M138.5 374.5V378.7M150.09 374.5V377.1M156.87 374.5V377.1M161.68 374.5V377.1M165.41 374.5V377.1M168.46 374.5V377.1M171.04 374.5V377.1M173.27 374.5V377.1M175.24 374.5V377.1M177 374.5V378.7M188.59 374.5V377.1M195.37 374.5V377.1M200.18 374.5V377.1M203.91 374.5V377.1M206.96 374.5V377.1M209.54 374.5V377.1M211.77 374.5V377.1M213.74 374.5V377.1M215.5 374.5V378.7M227.09 374.5V377.1M233.87 374.5V377.1M238.68 374.5V377.1M242.41 374.5V377.1M245.46 374.5V377.1M248.04 374.5V377.1M250.27 374.5V377.1M252.24 374.5V377.1M254 374.5V378.7M265.59 374.5V377.1M272.37 374.5V377.1M277.18 374.5V377.1M280.91 374.5V377.1M283.96 374.5V377.1M286.54 374.5V377.1M288.77 374.5V377.1M290.74 374.5V377.1M292.5 374.5V378.7" stroke="#2a2a2a" stroke-width="0.95" fill="none"/>
<text transform="translate(130.2 374.2) rotate(-90) scale(1 1.16)" font-size="8" font-weight="normal" fill="#1a1a1a" stroke="#1a1a1a" stroke-width="0.18" text-anchor="middle">0</text>
<text transform="translate(130.2 307.75) rotate(-90) scale(1 1.16)" font-size="8" font-weight="normal" fill="#1a1a1a" stroke="#1a1a1a" stroke-width="0.18" text-anchor="middle">100</text>
<text transform="translate(130.2 241.3) rotate(-90) scale(1 1.16)" font-size="8" font-weight="normal" fill="#1a1a1a" stroke="#1a1a1a" stroke-width="0.18" text-anchor="middle">200</text>
<text transform="translate(120.1 297) rotate(-90) scale(1 1.16)" font-size="8" font-weight="normal" fill="#1a1a1a" stroke="#1a1a1a" stroke-width="0.18" text-anchor="middle">Count</text>
<text transform="translate(137.3 388.2) scale(1 1.16)" font-size="8" font-weight="normal" fill="#1a1a1a" stroke="#1a1a1a" stroke-width="0.18" text-anchor="middle">10</text>
<text transform="translate(141.4 384.7) scale(1 1.1)" font-size="6" font-weight="normal" fill="#1a1a1a" stroke="#1a1a1a" stroke-width="0.18" text-anchor="start">3</text>
<text transform="translate(175.8 388.2) scale(1 1.16)" font-size="8" font-weight="normal" fill="#1a1a1a" stroke="#1a1a1a" stroke-width="0.18" text-anchor="middle">10</text>
<text transform="translate(179.9 384.7) scale(1 1.1)" font-size="6" font-weight="normal" fill="#1a1a1a" stroke="#1a1a1a" stroke-width="0.18" text-anchor="start">4</text>
<text transform="translate(214.3 388.2) scale(1 1.16)" font-size="8" font-weight="normal" fill="#1a1a1a" stroke="#1a1a1a" stroke-width="0.18" text-anchor="middle">10</text>
<text transform="translate(218.4 384.7) scale(1 1.1)" font-size="6" font-weight="normal" fill="#1a1a1a" stroke="#1a1a1a" stroke-width="0.18" text-anchor="start">5</text>
<text transform="translate(252.8 388.2) scale(1 1.16)" font-size="8" font-weight="normal" fill="#1a1a1a" stroke="#1a1a1a" stroke-width="0.18" text-anchor="middle">10</text>
<text transform="translate(256.9 384.7) scale(1 1.1)" font-size="6" font-weight="normal" fill="#1a1a1a" stroke="#1a1a1a" stroke-width="0.18" text-anchor="start">6</text>
<text transform="translate(291.3 388.2) scale(1 1.16)" font-size="8" font-weight="normal" fill="#1a1a1a" stroke="#1a1a1a" stroke-width="0.18" text-anchor="middle">10</text>
<text transform="translate(295.4 384.7) scale(1 1.1)" font-size="6" font-weight="normal" fill="#1a1a1a" stroke="#1a1a1a" stroke-width="0.18" text-anchor="start">7</text>
<text transform="translate(210.5 217.1) scale(1 1.16)" font-size="8" font-weight="normal" fill="#1a1a1a" stroke="#1a1a1a" stroke-width="0.18" text-anchor="middle">27OHChol : All Events</text>
<path d="M171.4 314.4H292.5" stroke="#e42a30" stroke-width="1" fill="none"/>
<path d="M171.7 310.2V319.2" stroke="#e42a30" stroke-width="1" fill="none"/>
<text transform="translate(171.4 305.2) scale(1 1.18)" font-size="8" font-weight="normal" fill="#e42a30" stroke="#e42a30" stroke-width="0.18" text-anchor="start">P1(11.76%)</text>
<text transform="translate(201.8 255.3) scale(1 1.08)" font-size="23.4" font-weight="bold" fill="#000">11.76%</text>
<polygon points="328.5,373.5 328.5,296.1 330,296.1 330,363.4 329.3,363.4 329.83,363.4 329.83,360.73 330.37,360.73 330.37,358.6 330.9,358.6 330.9,354.9 331.38,354.9 331.38,354.79 331.86,354.79 331.86,353.15 332.34,353.15 332.34,352.33 332.82,352.33 332.82,350.91 333.3,350.91 333.3,349.88 333.76,349.88 333.76,346.63 334.22,346.63 334.22,346.59 334.68,346.59 334.68,344.94 335.14,344.94 335.14,341.59 335.6,341.59 335.6,341.3 336.05,341.3 336.05,340.71 336.5,340.71 336.5,337.57 336.95,337.57 336.95,338.2 337.4,338.2 337.4,335.77 338,335.77 338,327.07 338.6,327.07 338.6,319.08 339.15,319.08 339.15,316.75 339.7,316.75 339.7,314.87 340.3,314.87 340.3,306.96 340.9,306.96 340.9,297.99 341.5,297.99 341.5,292.41 342.1,292.41 342.1,289.08 342.6,289.08 342.6,287.9 343.1,287.9 343.1,285.98 343.6,285.98 343.6,283.41 344.1,283.41 344.1,282.62 344.6,282.62 344.6,281.61 345.1,281.61 345.1,280.75 345.65,280.75 345.65,271.31 346.2,271.31 346.2,263.64 346.8,263.64 346.8,255.97 347.4,255.97 347.4,245.5 348,245.5 348,254.35 348.6,254.35 348.6,261.21 349.07,261.21 349.07,259.48 349.53,259.48 349.53,256.91 350,256.91 350,257.4 350.5,257.4 350.5,262.13 351,262.13 351,262.05 351.5,262.05 351.5,266.08 351.95,266.08 351.95,267.95 352.4,267.95 352.4,271.1 352.85,271.1 352.85,271.84 353.3,271.84 353.3,275.73 353.7,275.73 353.7,276.15 354.1,276.15 354.1,278.4 354.1,373.5" fill="#808080"/>
<polygon points="354.1,373.5 354.1,278.4 354.55,278.4 354.55,281.04 355,281.04 355,282.44 355.45,282.44 355.45,285.7 355.9,285.7 355.9,288.18 356.5,288.18 356.5,297.4 357.1,297.4 357.1,303.06 357.6,303.06 357.6,307.39 358.1,307.39 358.1,312.87 358.6,312.87 358.6,318.7 359.05,318.7 359.05,322.63 359.5,322.63 359.5,326.33 359.95,326.33 359.95,330.67 360.4,330.67 360.4,332.93 360.88,332.93 360.88,336.81 361.36,336.81 361.36,339.54 361.84,339.54 361.84,341.28 362.32,341.28 362.32,345.03 362.8,345.03 362.8,347.48 363.37,347.48 363.37,349.41 363.93,349.41 363.93,350.94 364.5,350.94 364.5,352.94 365.1,352.94 365.1,357.4 365.7,357.4 365.7,361.43 366.15,361.43 366.15,362.01 366.6,362.01 366.6,363.11 367.05,363.11 367.05,363.96 367.5,363.96 367.5,364.42 367.96,364.42 367.96,364.84 368.42,364.84 368.42,365.29 368.88,365.29 368.88,366.17 369.34,366.17 369.34,366.9 369.8,366.9 369.8,366.95 370.28,366.95 370.28,367.84 370.76,367.84 370.76,367.95 371.24,367.95 371.24,368.68 371.72,368.68 371.72,368.93 372.2,368.93 372.2,369.31 372.68,369.31 372.68,369.71 373.16,369.71 373.16,370.33 373.64,370.33 373.64,371.03 374.12,371.03 374.12,371.65 374.6,371.65 374.6,372.24 375.12,372.24 375.12,372.32 375.64,372.32 375.64,372.6 376.17,372.6 376.17,372.35 376.69,372.35 376.69,372.55 377.21,372.55 377.21,372.51 377.73,372.51 377.73,372.8 378.26,372.8 378.26,372.86 378.78,372.86 378.78,372.87 379.3,372.87 379.3,372.9 379.3,373.5" fill="#be4040"/>
<path d="M329.5 373.5V296.1" stroke="#000" stroke-width="1" fill="none"/>
<polyline points="330,363.4 329.3,363.4 329.83,363.4 329.83,360.73 330.37,360.73 330.37,358.6 330.9,358.6 330.9,354.9 331.38,354.9 331.38,354.79 331.86,354.79 331.86,353.15 332.34,353.15 332.34,352.33 332.82,352.33 332.82,350.91 333.3,350.91 333.3,349.88 333.76,349.88 333.76,346.63 334.22,346.63 334.22,346.59 334.68,346.59 334.68,344.94 335.14,344.94 335.14,341.59 335.6,341.59 335.6,341.3 336.05,341.3 336.05,340.71 336.5,340.71 336.5,337.57 336.95,337.57 336.95,338.2 337.4,338.2 337.4,335.77 338,335.77 338,327.07 338.6,327.07 338.6,319.08 339.15,319.08 339.15,316.75 339.7,316.75 339.7,314.87 340.3,314.87 340.3,306.96 340.9,306.96 340.9,297.99 341.5,297.99 341.5,292.41 342.1,292.41 342.1,289.08 342.6,289.08 342.6,287.9 343.1,287.9 343.1,285.98 343.6,285.98 343.6,283.41 344.1,283.41 344.1,282.62 344.6,282.62 344.6,281.61 345.1,281.61 345.1,280.75 345.65,280.75 345.65,271.31 346.2,271.31 346.2,263.64 346.8,263.64 346.8,255.97 347.4,255.97 347.4,245.5 348,245.5 348,254.35 348.6,254.35 348.6,261.21 349.07,261.21 349.07,259.48 349.53,259.48 349.53,256.91 350,256.91 350,257.4 350.5,257.4 350.5,262.13 351,262.13 351,262.05 351.5,262.05 351.5,266.08 351.95,266.08 351.95,267.95 352.4,267.95 352.4,271.1 352.85,271.1 352.85,271.84 353.3,271.84 353.3,275.73 353.7,275.73 353.7,276.15 354.1,276.15 354.1,278.4" fill="none" stroke="#000" stroke-width="0.95" stroke-linejoin="miter"/>
<polyline points="354.1,373.5 354.1,278.4 354.55,278.4 354.55,281.04 355,281.04 355,282.44 355.45,282.44 355.45,285.7 355.9,285.7 355.9,288.18 356.5,288.18 356.5,297.4 357.1,297.4 357.1,303.06 357.6,303.06 357.6,307.39 358.1,307.39 358.1,312.87 358.6,312.87 358.6,318.7 359.05,318.7 359.05,322.63 359.5,322.63 359.5,326.33 359.95,326.33 359.95,330.67 360.4,330.67 360.4,332.93 360.88,332.93 360.88,336.81 361.36,336.81 361.36,339.54 361.84,339.54 361.84,341.28 362.32,341.28 362.32,345.03 362.8,345.03 362.8,347.48 363.37,347.48 363.37,349.41 363.93,349.41 363.93,350.94 364.5,350.94 364.5,352.94 365.1,352.94 365.1,357.4 365.7,357.4 365.7,361.43 366.15,361.43 366.15,362.01 366.6,362.01 366.6,363.11 367.05,363.11 367.05,363.96 367.5,363.96 367.5,364.42 367.96,364.42 367.96,364.84 368.42,364.84 368.42,365.29 368.88,365.29 368.88,366.17 369.34,366.17 369.34,366.9 369.8,366.9 369.8,366.95 370.28,366.95 370.28,367.84 370.76,367.84 370.76,367.95 371.24,367.95 371.24,368.68 371.72,368.68 371.72,368.93 372.2,368.93 372.2,369.31 372.68,369.31 372.68,369.71 373.16,369.71 373.16,370.33 373.64,370.33 373.64,371.03 374.12,371.03 374.12,371.65 374.6,371.65 374.6,372.24 375.12,372.24 375.12,372.32 375.64,372.32 375.64,372.6 376.17,372.6 376.17,372.35 376.69,372.35 376.69,372.55 377.21,372.55 377.21,372.51 377.73,372.51 377.73,372.8 378.26,372.8 378.26,372.86 378.78,372.86 378.78,372.87 379.3,372.87 379.3,372.9" fill="none" stroke="#e82222" stroke-width="0.8"/>
<path d="M328.5 220.5H482.5V373.5" fill="none" stroke="#666" stroke-width="1"/>
<path d="M328.5 220.5V373.5H482.5" fill="none" stroke="#505050" stroke-width="1"/>
<path d="M324.1 373.7H328.5M325.2 365.16H328.5M325.2 356.62H328.5M325.2 348.08H328.5M325.2 339.54H328.5M324.1 331H328.5M325.2 322.46H328.5M325.2 313.92H328.5M325.2 305.38H328.5M325.2 296.84H328.5M324.1 288.3H328.5M325.2 279.76H328.5M325.2 271.22H328.5M325.2 262.68H328.5M325.2 254.14H328.5M324.1 245.6H328.5M325.2 237.06H328.5M325.2 228.52H328.5M328.5 373.5V377.7M340.09 373.5V376.1M346.87 373.5V376.1M351.68 373.5V376.1M355.41 373.5V376.1M358.46 373.5V376.1M361.04 373.5V376.1M363.27 373.5V376.1M365.24 373.5V376.1M367 373.5V377.7M378.59 373.5V376.1M385.37 373.5V376.1M390.18 373.5V376.1M393.91 373.5V376.1M396.96 373.5V376.1M399.54 373.5V376.1M401.77 373.5V376.1M403.74 373.5V376.1M405.5 373.5V377.7M417.09 373.5V376.1M423.87 373.5V376.1M428.68 373.5V376.1M432.41 373.5V376.1M435.46 373.5V376.1M438.04 373.5V376.1M440.27 373.5V376.1M442.24 373.5V376.1M444 373.5V377.7M455.59 373.5V376.1M462.37 373.5V376.1M467.18 373.5V376.1M470.91 373.5V376.1M473.96 373.5V376.1M476.54 373.5V376.1M478.77 373.5V376.1M480.74 373.5V376.1M482.5 373.5V377.7" stroke="#2a2a2a" stroke-width="0.95" fill="none"/>
<text transform="translate(320.2 373.7) rotate(-90) scale(1 1.16)" font-size="8" font-weight="normal" fill="#1a1a1a" stroke="#1a1a1a" stroke-width="0.18" text-anchor="middle">0</text>
<text transform="translate(320.2 331) rotate(-90) scale(1 1.16)" font-size="8" font-weight="normal" fill="#1a1a1a" stroke="#1a1a1a" stroke-width="0.18" text-anchor="middle">100</text>
<text transform="translate(320.2 288.3) rotate(-90) scale(1 1.16)" font-size="8" font-weight="normal" fill="#1a1a1a" stroke="#1a1a1a" stroke-width="0.18" text-anchor="middle">200</text>
<text transform="translate(320.2 245.6) rotate(-90) scale(1 1.16)" font-size="8" font-weight="normal" fill="#1a1a1a" stroke="#1a1a1a" stroke-width="0.18" text-anchor="middle">300</text>
<text transform="translate(310.1 296.5) rotate(-90) scale(1 1.16)" font-size="8" font-weight="normal" fill="#1a1a1a" stroke="#1a1a1a" stroke-width="0.18" text-anchor="middle">Count</text>
<text transform="translate(327.3 387.2) scale(1 1.16)" font-size="8" font-weight="normal" fill="#1a1a1a" stroke="#1a1a1a" stroke-width="0.18" text-anchor="middle">10</text>
<text transform="translate(331.4 383.7) scale(1 1.1)" font-size="6" font-weight="normal" fill="#1a1a1a" stroke="#1a1a1a" stroke-width="0.18" text-anchor="start">3</text>
<text transform="translate(365.8 387.2) scale(1 1.16)" font-size="8" font-weight="normal" fill="#1a1a1a" stroke="#1a1a1a" stroke-width="0.18" text-anchor="middle">10</text>
<text transform="translate(369.9 383.7) scale(1 1.1)" font-size="6" font-weight="normal" fill="#1a1a1a" stroke="#1a1a1a" stroke-width="0.18" text-anchor="start">4</text>
<text transform="translate(404.3 387.2) scale(1 1.16)" font-size="8" font-weight="normal" fill="#1a1a1a" stroke="#1a1a1a" stroke-width="0.18" text-anchor="middle">10</text>
<text transform="translate(408.4 383.7) scale(1 1.1)" font-size="6" font-weight="normal" fill="#1a1a1a" stroke="#1a1a1a" stroke-width="0.18" text-anchor="start">5</text>
<text transform="translate(442.8 387.2) scale(1 1.16)" font-size="8" font-weight="normal" fill="#1a1a1a" stroke="#1a1a1a" stroke-width="0.18" text-anchor="middle">10</text>
<text transform="translate(446.9 383.7) scale(1 1.1)" font-size="6" font-weight="normal" fill="#1a1a1a" stroke="#1a1a1a" stroke-width="0.18" text-anchor="start">6</text>
<text transform="translate(481.3 387.2) scale(1 1.16)" font-size="8" font-weight="normal" fill="#1a1a1a" stroke="#1a1a1a" stroke-width="0.18" text-anchor="middle">10</text>
<text transform="translate(485.4 383.7) scale(1 1.1)" font-size="6" font-weight="normal" fill="#1a1a1a" stroke="#1a1a1a" stroke-width="0.18" text-anchor="start">7</text>
<text transform="translate(400.5 217.1) scale(1 1.16)" font-size="8" font-weight="normal" fill="#1a1a1a" stroke="#1a1a1a" stroke-width="0.18" text-anchor="middle">27OHChol : All Events</text>
<path d="M354.1 308.3H482.5" stroke="#e42a30" stroke-width="1" fill="none"/>
<path d="M354.4 304.1V313.1" stroke="#e42a30" stroke-width="1" fill="none"/>
<text transform="translate(357.4 301.6) scale(1 1.18)" font-size="8" font-weight="normal" fill="#e42a30" stroke="#e42a30" stroke-width="0.18" text-anchor="start">P2(22.65%)</text>
<text transform="translate(393.2 255.5) scale(1 1.08)" font-size="23.4" font-weight="bold" fill="#000">22.65%</text>
<polygon points="519.5,375.5 519.5,303.8 521,303.8 521,374 520.7,374 521.18,374 521.18,373.85 521.66,373.85 521.66,373.06 522.14,373.06 522.14,372.86 522.62,372.86 522.62,372.39 523.1,372.39 523.1,371.3 523.56,371.3 523.56,372.1 524.02,372.1 524.02,372.13 524.48,372.13 524.48,372.76 524.94,372.76 524.94,372.62 525.4,372.62 525.4,373.19 525.88,373.19 525.88,372.1 526.36,372.1 526.36,371.85 526.84,371.85 526.84,371.96 527.32,371.96 527.32,371.28 527.8,371.28 527.8,370.2 528.28,370.2 528.28,369.91 528.76,369.91 528.76,369.6 529.24,369.6 529.24,369.09 529.72,369.09 529.72,368.82 530.2,368.82 530.2,368.13 530.66,368.13 530.66,367.18 531.12,367.18 531.12,367.91 531.58,367.91 531.58,367.4 532.04,367.4 532.04,367.02 532.5,367.02 532.5,366.35 532.98,366.35 532.98,365.58 533.46,365.58 533.46,364.55 533.94,364.55 533.94,363.03 534.42,363.03 534.42,361.36 534.9,361.36 534.9,360.15 535.47,360.15 535.47,357.8 536.03,357.8 536.03,356.33 536.6,356.33 536.6,354.33 537.05,354.33 537.05,353.61 537.5,353.61 537.5,352.02 537.95,352.02 537.95,350.64 538.4,350.64 538.4,350.72 539,350.72 539,348.48 539.6,348.48 539.6,345.95 540.05,345.95 540.05,342.98 540.5,342.98 540.5,340.12 540.95,340.12 540.95,339.04 541.4,339.04 541.4,334.87 541.9,334.87 541.9,332.68 542.4,332.68 542.4,331.47 542.9,331.47 542.9,327.69 543.37,327.69 543.37,321.72 543.83,321.72 543.83,315.44 544.3,315.44 544.3,308.77 544.75,308.77 544.75,307.33 545.2,307.33 545.2,307.59 545.65,307.59 545.65,304.81 546.1,304.81 546.1,302.55 546.7,302.55 546.7,299.44 547.3,299.44 547.3,293.07 547.8,293.07 547.8,287.45 548.3,287.45 548.3,283.48 548.8,283.48 548.8,279.11 549.27,279.11 549.27,271.34 549.73,271.34 549.73,266.02 550.2,266.02 550.2,257.35 550.7,257.35 550.7,267.17 551.2,267.17 551.2,275.4 551.67,275.4 551.67,268.83 552.13,268.83 552.13,260.89 552.6,260.89 552.6,253.68 553.07,253.68 553.07,260.36 553.53,260.36 553.53,263.21 554,263.21 554,269.4 554.6,269.4 554.6,257.25 555.2,257.25 555.2,244.9 555.7,244.9 555.7,247.7 556.2,247.7 556.2,249.34 556.7,249.34 556.7,249.22 557.3,249.22 557.3,249.92 557.9,249.92 557.9,254.86 558.5,254.86 558.5,264.84 559.1,264.84 559.1,262 559.1,375.5" fill="#808080"/>
<polygon points="559.1,375.5 559.1,262 559.7,262 559.7,253.42 560.25,253.42 560.25,258.06 560.8,258.06 560.8,269.67 561.25,269.67 561.25,271.55 561.7,271.55 561.7,270.57 562.15,270.57 562.15,273.08 562.6,273.08 562.6,277.91 563.2,277.91 563.2,279 563.8,279 563.8,282.51 564.4,282.51 564.4,291.22 565,291.22 565,294.54 565.55,294.54 565.55,301.25 566.1,301.25 566.1,306.76 566.55,306.76 566.55,312.77 567,312.77 567,317.23 567.45,317.23 567.45,320.36 567.9,320.36 567.9,325.14 568.35,325.14 568.35,328.05 568.8,328.05 568.8,331.26 569.25,331.26 569.25,335.06 569.7,335.06 569.7,338.87 570.15,338.87 570.15,340.39 570.6,340.39 570.6,344.8 571.05,344.8 571.05,347.35 571.5,347.35 571.5,349.57 571.96,349.57 571.96,352.44 572.42,352.44 572.42,354.27 572.88,354.27 572.88,357.32 573.34,357.32 573.34,359.5 573.8,359.5 573.8,361.75 574.28,361.75 574.28,362.99 574.76,362.99 574.76,363.96 575.24,363.96 575.24,365.52 575.72,365.52 575.72,365.84 576.2,365.84 576.2,366.68 576.7,366.68 576.7,368.31 577.2,368.31 577.2,368.1 577.7,368.1 577.7,369.37 578.2,369.37 578.2,370.32 578.7,370.32 578.7,371.49 579.2,371.49 579.2,371.75 579.7,371.75 579.7,373.07 580.21,373.07 580.21,373.08 580.71,373.08 580.71,372.92 581.22,372.92 581.22,372.71 581.73,372.71 581.73,373.22 582.24,373.22 582.24,373.29 582.74,373.29 582.74,372.81 583.25,372.81 583.25,373.1 583.76,373.1 583.76,373.21 584.26,373.21 584.26,373.35 584.77,373.35 584.77,373.07 585.28,373.07 585.28,373.57 585.79,373.57 585.79,373.18 586.29,373.18 586.29,373.32 586.8,373.32 586.8,373.21 587.28,373.21 587.28,373.86 587.76,373.86 587.76,373.71 588.24,373.71 588.24,373.93 588.72,373.93 588.72,374.39 589.2,374.39 589.2,374.6 589.2,375.5" fill="#be4040"/>
<path d="M520.5 375.5V303.8" stroke="#000" stroke-width="1" fill="none"/>
<polyline points="521,374 520.7,374 521.18,374 521.18,373.85 521.66,373.85 521.66,373.06 522.14,373.06 522.14,372.86 522.62,372.86 522.62,372.39 523.1,372.39 523.1,371.3 523.56,371.3 523.56,372.1 524.02,372.1 524.02,372.13 524.48,372.13 524.48,372.76 524.94,372.76 524.94,372.62 525.4,372.62 525.4,373.19 525.88,373.19 525.88,372.1 526.36,372.1 526.36,371.85 526.84,371.85 526.84,371.96 527.32,371.96 527.32,371.28 527.8,371.28 527.8,370.2 528.28,370.2 528.28,369.91 528.76,369.91 528.76,369.6 529.24,369.6 529.24,369.09 529.72,369.09 529.72,368.82 530.2,368.82 530.2,368.13 530.66,368.13 530.66,367.18 531.12,367.18 531.12,367.91 531.58,367.91 531.58,367.4 532.04,367.4 532.04,367.02 532.5,367.02 532.5,366.35 532.98,366.35 532.98,365.58 533.46,365.58 533.46,364.55 533.94,364.55 533.94,363.03 534.42,363.03 534.42,361.36 534.9,361.36 534.9,360.15 535.47,360.15 535.47,357.8 536.03,357.8 536.03,356.33 536.6,356.33 536.6,354.33 537.05,354.33 537.05,353.61 537.5,353.61 537.5,352.02 537.95,352.02 537.95,350.64 538.4,350.64 538.4,350.72 539,350.72 539,348.48 539.6,348.48 539.6,345.95 540.05,345.95 540.05,342.98 540.5,342.98 540.5,340.12 540.95,340.12 540.95,339.04 541.4,339.04 541.4,334.87 541.9,334.87 541.9,332.68 542.4,332.68 542.4,331.47 542.9,331.47 542.9,327.69 543.37,327.69 543.37,321.72 543.83,321.72 543.83,315.44 544.3,315.44 544.3,308.77 544.75,308.77 544.75,307.33 545.2,307.33 545.2,307.59 545.65,307.59 545.65,304.81 546.1,304.81 546.1,302.55 546.7,302.55 546.7,299.44 547.3,299.44 547.3,293.07 547.8,293.07 547.8,287.45 548.3,287.45 548.3,283.48 548.8,283.48 548.8,279.11 549.27,279.11 549.27,271.34 549.73,271.34 549.73,266.02 550.2,266.02 550.2,257.35 550.7,257.35 550.7,267.17 551.2,267.17 551.2,275.4 551.67,275.4 551.67,268.83 552.13,268.83 552.13,260.89 552.6,260.89 552.6,253.68 553.07,253.68 553.07,260.36 553.53,260.36 553.53,263.21 554,263.21 554,269.4 554.6,269.4 554.6,257.25 555.2,257.25 555.2,244.9 555.7,244.9 555.7,247.7 556.2,247.7 556.2,249.34 556.7,249.34 556.7,249.22 557.3,249.22 557.3,249.92 557.9,249.92 557.9,254.86 558.5,254.86 558.5,264.84 559.1,264.84 559.1,262" fill="none" stroke="#000" stroke-width="0.95" stroke-linejoin="miter"/>
<polyline points="559.1,375.5 559.1,262 559.7,262 559.7,253.42 560.25,253.42 560.25,258.06 560.8,258.06 560.8,269.67 561.25,269.67 561.25,271.55 561.7,271.55 561.7,270.57 562.15,270.57 562.15,273.08 562.6,273.08 562.6,277.91 563.2,277.91 563.2,279 563.8,279 563.8,282.51 564.4,282.51 564.4,291.22 565,291.22 565,294.54 565.55,294.54 565.55,301.25 566.1,301.25 566.1,306.76 566.55,306.76 566.55,312.77 567,312.77 567,317.23 567.45,317.23 567.45,320.36 567.9,320.36 567.9,325.14 568.35,325.14 568.35,328.05 568.8,328.05 568.8,331.26 569.25,331.26 569.25,335.06 569.7,335.06 569.7,338.87 570.15,338.87 570.15,340.39 570.6,340.39 570.6,344.8 571.05,344.8 571.05,347.35 571.5,347.35 571.5,349.57 571.96,349.57 571.96,352.44 572.42,352.44 572.42,354.27 572.88,354.27 572.88,357.32 573.34,357.32 573.34,359.5 573.8,359.5 573.8,361.75 574.28,361.75 574.28,362.99 574.76,362.99 574.76,363.96 575.24,363.96 575.24,365.52 575.72,365.52 575.72,365.84 576.2,365.84 576.2,366.68 576.7,366.68 576.7,368.31 577.2,368.31 577.2,368.1 577.7,368.1 577.7,369.37 578.2,369.37 578.2,370.32 578.7,370.32 578.7,371.49 579.2,371.49 579.2,371.75 579.7,371.75 579.7,373.07 580.21,373.07 580.21,373.08 580.71,373.08 580.71,372.92 581.22,372.92 581.22,372.71 581.73,372.71 581.73,373.22 582.24,373.22 582.24,373.29 582.74,373.29 582.74,372.81 583.25,372.81 583.25,373.1 583.76,373.1 583.76,373.21 584.26,373.21 584.26,373.35 584.77,373.35 584.77,373.07 585.28,373.07 585.28,373.57 585.79,373.57 585.79,373.18 586.29,373.18 586.29,373.32 586.8,373.32 586.8,373.21 587.28,373.21 587.28,373.86 587.76,373.86 587.76,373.71 588.24,373.71 588.24,373.93 588.72,373.93 588.72,374.39 589.2,374.39 589.2,374.6" fill="none" stroke="#e82222" stroke-width="0.8"/>
<path d="M519.5 221.5H672.5V375.5" fill="none" stroke="#666" stroke-width="1"/>
<path d="M519.5 221.5V375.5H672.5" fill="none" stroke="#505050" stroke-width="1"/>
<path d="M515.1 375.2H519.5M516.2 365.04H519.5M516.2 354.88H519.5M516.2 344.72H519.5M516.2 334.56H519.5M515.1 324.4H519.5M516.2 314.24H519.5M516.2 304.08H519.5M516.2 293.92H519.5M516.2 283.76H519.5M515.1 273.6H519.5M516.2 263.44H519.5M516.2 253.28H519.5M516.2 243.12H519.5M516.2 232.96H519.5M519.5 375.5V378.1M526.78 375.5V378.1M531.95 375.5V378.1M535.96 375.5V378.1M539.24 375.5V378.1M542 375.5V378.1M544.4 375.5V378.1M546.52 375.5V378.1M548.41 375.5V379.7M560.86 375.5V378.1M568.15 375.5V378.1M573.31 375.5V378.1M577.32 375.5V378.1M580.6 375.5V378.1M583.37 375.5V378.1M585.77 375.5V378.1M587.88 375.5V378.1M589.77 375.5V379.7M602.23 375.5V378.1M609.51 375.5V378.1M614.68 375.5V378.1M618.69 375.5V378.1M621.96 375.5V378.1M624.73 375.5V378.1M627.13 375.5V378.1M629.24 375.5V378.1M631.14 375.5V379.7M643.59 375.5V378.1M650.87 375.5V378.1M656.04 375.5V378.1M660.05 375.5V378.1M663.32 375.5V378.1M666.09 375.5V378.1M668.49 375.5V378.1M670.61 375.5V378.1M672.5 375.5V379.7" stroke="#2a2a2a" stroke-width="0.95" fill="none"/>
<text transform="translate(511.2 375.2) rotate(-90) scale(1 1.16)" font-size="8" font-weight="normal" fill="#1a1a1a" stroke="#1a1a1a" stroke-width="0.18" text-anchor="middle">0</text>
<text transform="translate(511.2 324.4) rotate(-90) scale(1 1.16)" font-size="8" font-weight="normal" fill="#1a1a1a" stroke="#1a1a1a" stroke-width="0.18" text-anchor="middle">100</text>
<text transform="translate(511.2 273.6) rotate(-90) scale(1 1.16)" font-size="8" font-weight="normal" fill="#1a1a1a" stroke="#1a1a1a" stroke-width="0.18" text-anchor="middle">200</text>
<text transform="translate(511.2 222.8) rotate(-90) scale(1 1.16)" font-size="8" font-weight="normal" fill="#1a1a1a" stroke="#1a1a1a" stroke-width="0.18" text-anchor="middle">300</text>
<text transform="translate(501.1 298) rotate(-90) scale(1 1.16)" font-size="8" font-weight="normal" fill="#1a1a1a" stroke="#1a1a1a" stroke-width="0.18" text-anchor="middle">Count</text>
<text transform="translate(547.21 389.2) scale(1 1.16)" font-size="8" font-weight="normal" fill="#1a1a1a" stroke="#1a1a1a" stroke-width="0.18" text-anchor="middle">10</text>
<text transform="translate(551.31 385.7) scale(1 1.1)" font-size="6" font-weight="normal" fill="#1a1a1a" stroke="#1a1a1a" stroke-width="0.18" text-anchor="start">4</text>
<text transform="translate(588.57 389.2) scale(1 1.16)" font-size="8" font-weight="normal" fill="#1a1a1a" stroke="#1a1a1a" stroke-width="0.18" text-anchor="middle">10</text>
<text transform="translate(592.67 385.7) scale(1 1.1)" font-size="6" font-weight="normal" fill="#1a1a1a" stroke="#1a1a1a" stroke-width="0.18" text-anchor="start">5</text>
<text transform="translate(629.94 389.2) scale(1 1.16)" font-size="8" font-weight="normal" fill="#1a1a1a" stroke="#1a1a1a" stroke-width="0.18" text-anchor="middle">10</text>
<text transform="translate(634.04 385.7) scale(1 1.1)" font-size="6" font-weight="normal" fill="#1a1a1a" stroke="#1a1a1a" stroke-width="0.18" text-anchor="start">6</text>
<text transform="translate(671.3 389.2) scale(1 1.16)" font-size="8" font-weight="normal" fill="#1a1a1a" stroke="#1a1a1a" stroke-width="0.18" text-anchor="middle">10</text>
<text transform="translate(675.4 385.7) scale(1 1.1)" font-size="6" font-weight="normal" fill="#1a1a1a" stroke="#1a1a1a" stroke-width="0.18" text-anchor="start">7</text>
<text transform="translate(591 218.1) scale(1 1.16)" font-size="8" font-weight="normal" fill="#1a1a1a" stroke="#1a1a1a" stroke-width="0.18" text-anchor="middle">27OHChol : All Events</text>
<path d="M559.1 311.5H672.5" stroke="#e42a30" stroke-width="1" fill="none"/>
<path d="M559.4 307.3V316.3" stroke="#e42a30" stroke-width="1" fill="none"/>
<text transform="translate(567.9 304.6) scale(1 1.18)" font-size="8" font-weight="normal" fill="#e42a30" stroke="#e42a30" stroke-width="0.18" text-anchor="start">P1(32.01%)</text>
<text transform="translate(580.9 255.5) scale(1 1.08)" font-size="23.4" font-weight="bold" fill="#000">32.01%</text>
<polygon points="138.5,555.5 138.5,466.1 140,466.1 140,522.2 139.4,522.2 140.1,522.2 140.1,516.37 140.7,516.37 140.7,517.58 141.3,517.58 141.3,519.63 141.9,519.63 141.9,515.17 142.5,515.17 142.5,510.87 142.95,510.87 142.95,509.26 143.4,509.26 143.4,506.72 143.85,506.72 143.85,504.95 144.3,504.95 144.3,505.86 144.87,505.86 144.87,499.78 145.43,499.78 145.43,495.92 146,495.92 146,490.72 146.6,490.72 146.6,498.01 147.2,498.01 147.2,502.58 147.8,502.58 147.8,493.08 148.4,493.08 148.4,484.64 149,484.64 149,475.16 149.6,475.16 149.6,472.11 150.15,472.11 150.15,470.01 150.7,470.01 150.7,463.26 151.23,463.26 151.23,461 151.77,461 151.77,452.77 152.3,452.77 152.3,450.55 152.77,450.55 152.77,450.03 153.23,450.03 153.23,450.15 153.7,450.15 153.7,450.54 154.3,450.54 154.3,445.22 154.9,445.22 154.9,445.13 155.5,445.13 155.5,439.57 156.1,439.57 156.1,439.74 156.65,439.74 156.65,434.53 157.2,434.53 157.2,428.72 157.8,428.72 157.8,430.63 158.4,430.63 158.4,439.3 158.85,439.3 158.85,437.69 159.3,437.69 159.3,439.38 159.75,439.38 159.75,445.1 160.2,445.1 160.2,443.28 160.65,443.28 160.65,443.61 161.1,443.61 161.1,446.07 161.55,446.07 161.55,445.25 162,445.25 162,447.13 162.5,447.13 162.5,465.39 162.95,465.39 162.95,465.88 163.4,465.88 163.4,468.11 163.85,468.11 163.85,473.78 164.3,473.78 164.3,473.16 164.75,473.16 164.75,477.31 165.2,477.31 165.2,476.41 165.65,476.41 165.65,478.4 166.1,478.4 166.1,480.58 166.55,480.58 166.55,482.84 167,482.84 167,484.34 167.45,484.34 167.45,485.62 167.9,485.62 167.9,486.99 168.45,486.99 168.45,495.76 169,495.76 169,504.75 169.6,504.75 169.6,506.65 170.2,506.65 170.2,506.42 170.8,506.42 170.8,508.9 171.4,508.9 171.4,511.5 171.4,555.5" fill="#808080"/>
<polygon points="171.4,555.5 171.4,511.5 172,511.5 172,513.03 172.6,513.03 172.6,515.35 173.17,515.35 173.17,518.26 173.73,518.26 173.73,520.47 174.3,520.47 174.3,523.98 174.75,523.98 174.75,525.55 175.2,525.55 175.2,525.16 175.65,525.16 175.65,527.67 176.1,527.67 176.1,527.87 176.55,527.87 176.55,529.92 177,529.92 177,531.31 177.45,531.31 177.45,532.42 177.9,532.42 177.9,533 178.35,533 178.35,534.79 178.8,534.79 178.8,536.45 179.25,536.45 179.25,536.97 179.7,536.97 179.7,538.91 180.16,538.91 180.16,539.07 180.62,539.07 180.62,540.78 181.08,540.78 181.08,540.92 181.54,540.92 181.54,541.96 182,541.96 182,544.01 182.48,544.01 182.48,544.69 182.96,544.69 182.96,545.42 183.44,545.42 183.44,546.89 183.92,546.89 183.92,547.67 184.4,547.67 184.4,549.6 184.86,549.6 184.86,548.89 185.32,548.89 185.32,548.72 185.78,548.72 185.78,548.7 186.24,548.7 186.24,549.17 186.7,549.17 186.7,548.24 187.18,548.24 187.18,549.15 187.66,549.15 187.66,550.8 188.14,550.8 188.14,551.62 188.62,551.62 188.62,552.15 189.1,552.15 189.1,552.73 189.62,552.73 189.62,552.91 190.14,552.91 190.14,552.94 190.67,552.94 190.67,553.18 191.19,553.18 191.19,553.61 191.71,553.61 191.71,553.63 192.23,553.63 192.23,553.68 192.76,553.68 192.76,553.77 193.28,553.77 193.28,553.84 193.8,553.84 193.8,554.03 194.29,554.03 194.29,553.97 194.78,553.97 194.78,554.09 195.26,554.09 195.26,553.96 195.75,553.96 195.75,554.2 196.24,554.2 196.24,554.19 196.73,554.19 196.73,554.33 197.22,554.33 197.22,554.31 197.71,554.31 197.71,554.59 198.19,554.59 198.19,554.36 198.68,554.36 198.68,554.69 199.17,554.69 199.17,554.71 199.66,554.71 199.66,554.69 200.15,554.69 200.15,554.87 200.64,554.87 200.64,554.86 201.12,554.86 201.12,554.75 201.61,554.75 201.61,555 202.1,555 202.1,555 202.1,555.5" fill="#be4040"/>
<path d="M139.5 555.5V466.1" stroke="#000" stroke-width="1" fill="none"/>
<polyline points="140,522.2 139.4,522.2 140.1,522.2 140.1,516.37 140.7,516.37 140.7,517.58 141.3,517.58 141.3,519.63 141.9,519.63 141.9,515.17 142.5,515.17 142.5,510.87 142.95,510.87 142.95,509.26 143.4,509.26 143.4,506.72 143.85,506.72 143.85,504.95 144.3,504.95 144.3,505.86 144.87,505.86 144.87,499.78 145.43,499.78 145.43,495.92 146,495.92 146,490.72 146.6,490.72 146.6,498.01 147.2,498.01 147.2,502.58 147.8,502.58 147.8,493.08 148.4,493.08 148.4,484.64 149,484.64 149,475.16 149.6,475.16 149.6,472.11 150.15,472.11 150.15,470.01 150.7,470.01 150.7,463.26 151.23,463.26 151.23,461 151.77,461 151.77,452.77 152.3,452.77 152.3,450.55 152.77,450.55 152.77,450.03 153.23,450.03 153.23,450.15 153.7,450.15 153.7,450.54 154.3,450.54 154.3,445.22 154.9,445.22 154.9,445.13 155.5,445.13 155.5,439.57 156.1,439.57 156.1,439.74 156.65,439.74 156.65,434.53 157.2,434.53 157.2,428.72 157.8,428.72 157.8,430.63 158.4,430.63 158.4,439.3 158.85,439.3 158.85,437.69 159.3,437.69 159.3,439.38 159.75,439.38 159.75,445.1 160.2,445.1 160.2,443.28 160.65,443.28 160.65,443.61 161.1,443.61 161.1,446.07 161.55,446.07 161.55,445.25 162,445.25 162,447.13 162.5,447.13 162.5,465.39 162.95,465.39 162.95,465.88 163.4,465.88 163.4,468.11 163.85,468.11 163.85,473.78 164.3,473.78 164.3,473.16 164.75,473.16 164.75,477.31 165.2,477.31 165.2,476.41 165.65,476.41 165.65,478.4 166.1,478.4 166.1,480.58 166.55,480.58 166.55,482.84 167,482.84 167,484.34 167.45,484.34 167.45,485.62 167.9,485.62 167.9,486.99 168.45,486.99 168.45,495.76 169,495.76 169,504.75 169.6,504.75 169.6,506.65 170.2,506.65 170.2,506.42 170.8,506.42 170.8,508.9 171.4,508.9 171.4,511.5" fill="none" stroke="#000" stroke-width="0.95" stroke-linejoin="miter"/>
<polyline points="171.4,555.5 171.4,511.5 172,511.5 172,513.03 172.6,513.03 172.6,515.35 173.17,515.35 173.17,518.26 173.73,518.26 173.73,520.47 174.3,520.47 174.3,523.98 174.75,523.98 174.75,525.55 175.2,525.55 175.2,525.16 175.65,525.16 175.65,527.67 176.1,527.67 176.1,527.87 176.55,527.87 176.55,529.92 177,529.92 177,531.31 177.45,531.31 177.45,532.42 177.9,532.42 177.9,533 178.35,533 178.35,534.79 178.8,534.79 178.8,536.45 179.25,536.45 179.25,536.97 179.7,536.97 179.7,538.91 180.16,538.91 180.16,539.07 180.62,539.07 180.62,540.78 181.08,540.78 181.08,540.92 181.54,540.92 181.54,541.96 182,541.96 182,544.01 182.48,544.01 182.48,544.69 182.96,544.69 182.96,545.42 183.44,545.42 183.44,546.89 183.92,546.89 183.92,547.67 184.4,547.67 184.4,549.6 184.86,549.6 184.86,548.89 185.32,548.89 185.32,548.72 185.78,548.72 185.78,548.7 186.24,548.7 186.24,549.17 186.7,549.17 186.7,548.24 187.18,548.24 187.18,549.15 187.66,549.15 187.66,550.8 188.14,550.8 188.14,551.62 188.62,551.62 188.62,552.15 189.1,552.15 189.1,552.73 189.62,552.73 189.62,552.91 190.14,552.91 190.14,552.94 190.67,552.94 190.67,553.18 191.19,553.18 191.19,553.61 191.71,553.61 191.71,553.63 192.23,553.63 192.23,553.68 192.76,553.68 192.76,553.77 193.28,553.77 193.28,553.84 193.8,553.84 193.8,554.03 194.29,554.03 194.29,553.97 194.78,553.97 194.78,554.09 195.26,554.09 195.26,553.96 195.75,553.96 195.75,554.2 196.24,554.2 196.24,554.19 196.73,554.19 196.73,554.33 197.22,554.33 197.22,554.31 197.71,554.31 197.71,554.59 198.19,554.59 198.19,554.36 198.68,554.36 198.68,554.69 199.17,554.69 199.17,554.71 199.66,554.71 199.66,554.69 200.15,554.69 200.15,554.87 200.64,554.87 200.64,554.86 201.12,554.86 201.12,554.75 201.61,554.75 201.61,555 202.1,555 202.1,555" fill="none" stroke="#e82222" stroke-width="0.8"/>
<path d="M138.5 401.5H292.5V555.5" fill="none" stroke="#666" stroke-width="1"/>
<path d="M138.5 401.5V555.5H292.5" fill="none" stroke="#505050" stroke-width="1"/>
<path d="M134.1 555H138.5M135.2 543.24H138.5M135.2 531.48H138.5M135.2 519.72H138.5M135.2 507.96H138.5M134.1 496.2H138.5M135.2 484.44H138.5M135.2 472.68H138.5M135.2 460.92H138.5M135.2 449.16H138.5M134.1 437.4H138.5M135.2 425.64H138.5M135.2 413.88H138.5M138.5 555.5V559.7M150.09 555.5V558.1M156.87 555.5V558.1M161.68 555.5V558.1M165.41 555.5V558.1M168.46 555.5V558.1M171.04 555.5V558.1M173.27 555.5V558.1M175.24 555.5V558.1M177 555.5V559.7M188.59 555.5V558.1M195.37 555.5V558.1M200.18 555.5V558.1M203.91 555.5V558.1M206.96 555.5V558.1M209.54 555.5V558.1M211.77 555.5V558.1M213.74 555.5V558.1M215.5 555.5V559.7M227.09 555.5V558.1M233.87 555.5V558.1M238.68 555.5V558.1M242.41 555.5V558.1M245.46 555.5V558.1M248.04 555.5V558.1M250.27 555.5V558.1M252.24 555.5V558.1M254 555.5V559.7M265.59 555.5V558.1M272.37 555.5V558.1M277.18 555.5V558.1M280.91 555.5V558.1M283.96 555.5V558.1M286.54 555.5V558.1M288.77 555.5V558.1M290.74 555.5V558.1M292.5 555.5V559.7" stroke="#2a2a2a" stroke-width="0.95" fill="none"/>
<text transform="translate(130.2 555) rotate(-90) scale(1 1.16)" font-size="8" font-weight="normal" fill="#1a1a1a" stroke="#1a1a1a" stroke-width="0.18" text-anchor="middle">0</text>
<text transform="translate(130.2 496.2) rotate(-90) scale(1 1.16)" font-size="8" font-weight="normal" fill="#1a1a1a" stroke="#1a1a1a" stroke-width="0.18" text-anchor="middle">100</text>
<text transform="translate(130.2 437.4) rotate(-90) scale(1 1.16)" font-size="8" font-weight="normal" fill="#1a1a1a" stroke="#1a1a1a" stroke-width="0.18" text-anchor="middle">200</text>
<text transform="translate(120.1 478) rotate(-90) scale(1 1.16)" font-size="8" font-weight="normal" fill="#1a1a1a" stroke="#1a1a1a" stroke-width="0.18" text-anchor="middle">Count</text>
<text transform="translate(137.3 569.2) scale(1 1.16)" font-size="8" font-weight="normal" fill="#1a1a1a" stroke="#1a1a1a" stroke-width="0.18" text-anchor="middle">10</text>
<text transform="translate(141.4 565.7) scale(1 1.1)" font-size="6" font-weight="normal" fill="#1a1a1a" stroke="#1a1a1a" stroke-width="0.18" text-anchor="start">3</text>
<text transform="translate(175.8 569.2) scale(1 1.16)" font-size="8" font-weight="normal" fill="#1a1a1a" stroke="#1a1a1a" stroke-width="0.18" text-anchor="middle">10</text>
<text transform="translate(179.9 565.7) scale(1 1.1)" font-size="6" font-weight="normal" fill="#1a1a1a" stroke="#1a1a1a" stroke-width="0.18" text-anchor="start">4</text>
<text transform="translate(214.3 569.2) scale(1 1.16)" font-size="8" font-weight="normal" fill="#1a1a1a" stroke="#1a1a1a" stroke-width="0.18" text-anchor="middle">10</text>
<text transform="translate(218.4 565.7) scale(1 1.1)" font-size="6" font-weight="normal" fill="#1a1a1a" stroke="#1a1a1a" stroke-width="0.18" text-anchor="start">5</text>
<text transform="translate(252.8 569.2) scale(1 1.16)" font-size="8" font-weight="normal" fill="#1a1a1a" stroke="#1a1a1a" stroke-width="0.18" text-anchor="middle">10</text>
<text transform="translate(256.9 565.7) scale(1 1.1)" font-size="6" font-weight="normal" fill="#1a1a1a" stroke="#1a1a1a" stroke-width="0.18" text-anchor="start">6</text>
<text transform="translate(291.3 569.2) scale(1 1.16)" font-size="8" font-weight="normal" fill="#1a1a1a" stroke="#1a1a1a" stroke-width="0.18" text-anchor="middle">10</text>
<text transform="translate(295.4 565.7) scale(1 1.1)" font-size="6" font-weight="normal" fill="#1a1a1a" stroke="#1a1a1a" stroke-width="0.18" text-anchor="start">7</text>
<text transform="translate(210.5 398.1) scale(1 1.16)" font-size="8" font-weight="normal" fill="#1a1a1a" stroke="#1a1a1a" stroke-width="0.18" text-anchor="middle">PRX 0.2 : All Events</text>
<path d="M171.6 495.2H292.5" stroke="#e42a30" stroke-width="1" fill="none"/>
<path d="M171.9 491V500" stroke="#e42a30" stroke-width="1" fill="none"/>
<text transform="translate(171.8 487.2) scale(1 1.18)" font-size="8" font-weight="normal" fill="#e42a30" stroke="#e42a30" stroke-width="0.18" text-anchor="start">P1(9.05%)</text>
<text transform="translate(215.5 435.1) scale(1 1.08)" font-size="23.4" font-weight="bold" fill="#000">9.05%</text>
<polygon points="331.5,554.5 331.5,477.3 333,477.3 333,542.2 332.5,542.2 332.97,542.2 332.97,539.32 333.43,539.32 333.43,536.6 333.9,536.6 333.9,534.21 334.35,534.21 334.35,533.42 334.8,533.42 334.8,532.43 335.25,532.43 335.25,529.49 335.7,529.49 335.7,529 336.27,529 336.27,527.07 336.83,527.07 336.83,525.95 337.4,525.95 337.4,524.85 337.85,524.85 337.85,523.9 338.3,523.9 338.3,523.09 338.75,523.09 338.75,520.42 339.2,520.42 339.2,520.9 339.8,520.9 339.8,515.27 340.4,515.27 340.4,510.03 341,510.03 341,506.76 341.6,506.76 341.6,501.16 342.15,501.16 342.15,497.22 342.7,497.22 342.7,494.06 343.15,494.06 343.15,491.97 343.6,491.97 343.6,491.1 344.05,491.1 344.05,489.13 344.5,489.13 344.5,487.87 344.95,487.87 344.95,485.12 345.4,485.12 345.4,477.95 345.85,477.95 345.85,476.2 346.3,476.2 346.3,471.22 346.75,471.22 346.75,468.64 347.2,468.64 347.2,465.48 347.65,465.48 347.65,465.43 348.1,465.43 348.1,461.29 348.65,461.29 348.65,454.88 349.2,454.88 349.2,447.32 349.7,447.32 349.7,448.19 350.2,448.19 350.2,450.18 350.7,450.18 350.7,447.84 351.15,447.84 351.15,443.01 351.6,443.01 351.6,438.21 352.2,438.21 352.2,424.32 352.6,424.32 352.6,435.49 353,435.49 353,444.15 353.5,444.15 353.5,445.65 354,445.65 354,444.76 354.5,444.76 354.5,444.75 354.95,444.75 354.95,448.65 355.4,448.65 355.4,451.51 355.85,451.51 355.85,454.42 356.3,454.42 356.3,459.33 356.9,459.33 356.9,465.16 357.5,465.16 357.5,473.7 357.5,554.5" fill="#808080"/>
<polygon points="357.5,554.5 357.5,473.7 357.97,473.7 357.97,472.64 358.43,472.64 358.43,470.86 358.9,470.86 358.9,472.06 359.5,472.06 359.5,478.36 360.1,478.36 360.1,486.13 360.6,486.13 360.6,491.7 361.1,491.7 361.1,497.66 361.6,497.66 361.6,501.95 362.05,501.95 362.05,506.12 362.5,506.12 362.5,507.17 362.95,507.17 362.95,510.2 363.4,510.2 363.4,513.04 363.88,513.04 363.88,516.78 364.36,516.78 364.36,518.92 364.84,518.92 364.84,521.83 365.32,521.83 365.32,522.92 365.8,522.92 365.8,525.69 366.26,525.69 366.26,528.33 366.72,528.33 366.72,530.72 367.18,530.72 367.18,531.88 367.64,531.88 367.64,534.66 368.1,534.66 368.1,535.97 368.58,535.97 368.58,537.78 369.06,537.78 369.06,539.8 369.54,539.8 369.54,541.08 370.02,541.08 370.02,542.5 370.5,542.5 370.5,544.9 370.96,544.9 370.96,545.74 371.42,545.74 371.42,546.44 371.88,546.44 371.88,547.83 372.34,547.83 372.34,548.17 372.8,548.17 372.8,549.48 373.28,549.48 373.28,549.36 373.76,549.36 373.76,550.22 374.24,550.22 374.24,550.44 374.72,550.44 374.72,550.62 375.2,550.62 375.2,550.5 375.68,550.5 375.68,551.37 376.16,551.37 376.16,551.23 376.64,551.23 376.64,551.6 377.12,551.6 377.12,552.13 377.6,552.13 377.6,552.44 378.1,552.44 378.1,552.56 378.6,552.56 378.6,552.56 379.1,552.56 379.1,552.46 379.6,552.46 379.6,552.91 380.1,552.91 380.1,553.03 380.6,553.03 380.6,552.94 381.1,552.94 381.1,552.87 381.6,552.87 381.6,553.34 382.1,553.34 382.1,553.1 382.6,553.1 382.6,553.33 383.1,553.33 383.1,553.56 383.6,553.56 383.6,553.57 384.1,553.57 384.1,553.61 384.6,553.61 384.6,553.8 384.6,554.5" fill="#be4040"/>
<path d="M332.5 554.5V477.3" stroke="#000" stroke-width="1" fill="none"/>
<polyline points="333,542.2 332.5,542.2 332.97,542.2 332.97,539.32 333.43,539.32 333.43,536.6 333.9,536.6 333.9,534.21 334.35,534.21 334.35,533.42 334.8,533.42 334.8,532.43 335.25,532.43 335.25,529.49 335.7,529.49 335.7,529 336.27,529 336.27,527.07 336.83,527.07 336.83,525.95 337.4,525.95 337.4,524.85 337.85,524.85 337.85,523.9 338.3,523.9 338.3,523.09 338.75,523.09 338.75,520.42 339.2,520.42 339.2,520.9 339.8,520.9 339.8,515.27 340.4,515.27 340.4,510.03 341,510.03 341,506.76 341.6,506.76 341.6,501.16 342.15,501.16 342.15,497.22 342.7,497.22 342.7,494.06 343.15,494.06 343.15,491.97 343.6,491.97 343.6,491.1 344.05,491.1 344.05,489.13 344.5,489.13 344.5,487.87 344.95,487.87 344.95,485.12 345.4,485.12 345.4,477.95 345.85,477.95 345.85,476.2 346.3,476.2 346.3,471.22 346.75,471.22 346.75,468.64 347.2,468.64 347.2,465.48 347.65,465.48 347.65,465.43 348.1,465.43 348.1,461.29 348.65,461.29 348.65,454.88 349.2,454.88 349.2,447.32 349.7,447.32 349.7,448.19 350.2,448.19 350.2,450.18 350.7,450.18 350.7,447.84 351.15,447.84 351.15,443.01 351.6,443.01 351.6,438.21 352.2,438.21 352.2,424.32 352.6,424.32 352.6,435.49 353,435.49 353,444.15 353.5,444.15 353.5,445.65 354,445.65 354,444.76 354.5,444.76 354.5,444.75 354.95,444.75 354.95,448.65 355.4,448.65 355.4,451.51 355.85,451.51 355.85,454.42 356.3,454.42 356.3,459.33 356.9,459.33 356.9,465.16 357.5,465.16 357.5,473.7" fill="none" stroke="#000" stroke-width="0.95" stroke-linejoin="miter"/>
<polyline points="357.5,554.5 357.5,473.7 357.97,473.7 357.97,472.64 358.43,472.64 358.43,470.86 358.9,470.86 358.9,472.06 359.5,472.06 359.5,478.36 360.1,478.36 360.1,486.13 360.6,486.13 360.6,491.7 361.1,491.7 361.1,497.66 361.6,497.66 361.6,501.95 362.05,501.95 362.05,506.12 362.5,506.12 362.5,507.17 362.95,507.17 362.95,510.2 363.4,510.2 363.4,513.04 363.88,513.04 363.88,516.78 364.36,516.78 364.36,518.92 364.84,518.92 364.84,521.83 365.32,521.83 365.32,522.92 365.8,522.92 365.8,525.69 366.26,525.69 366.26,528.33 366.72,528.33 366.72,530.72 367.18,530.72 367.18,531.88 367.64,531.88 367.64,534.66 368.1,534.66 368.1,535.97 368.58,535.97 368.58,537.78 369.06,537.78 369.06,539.8 369.54,539.8 369.54,541.08 370.02,541.08 370.02,542.5 370.5,542.5 370.5,544.9 370.96,544.9 370.96,545.74 371.42,545.74 371.42,546.44 371.88,546.44 371.88,547.83 372.34,547.83 372.34,548.17 372.8,548.17 372.8,549.48 373.28,549.48 373.28,549.36 373.76,549.36 373.76,550.22 374.24,550.22 374.24,550.44 374.72,550.44 374.72,550.62 375.2,550.62 375.2,550.5 375.68,550.5 375.68,551.37 376.16,551.37 376.16,551.23 376.64,551.23 376.64,551.6 377.12,551.6 377.12,552.13 377.6,552.13 377.6,552.44 378.1,552.44 378.1,552.56 378.6,552.56 378.6,552.56 379.1,552.56 379.1,552.46 379.6,552.46 379.6,552.91 380.1,552.91 380.1,553.03 380.6,553.03 380.6,552.94 381.1,552.94 381.1,552.87 381.6,552.87 381.6,553.34 382.1,553.34 382.1,553.1 382.6,553.1 382.6,553.33 383.1,553.33 383.1,553.56 383.6,553.56 383.6,553.57 384.1,553.57 384.1,553.61 384.6,553.61 384.6,553.8" fill="none" stroke="#e82222" stroke-width="0.8"/>
<path d="M331.5 401.5H485.5V554.5" fill="none" stroke="#666" stroke-width="1"/>
<path d="M331.5 401.5V554.5H485.5" fill="none" stroke="#505050" stroke-width="1"/>
<path d="M327.1 554.4H331.5M328.2 545.87H331.5M328.2 537.35H331.5M328.2 528.82H331.5M328.2 520.3H331.5M327.1 511.77H331.5M328.2 503.24H331.5M328.2 494.72H331.5M328.2 486.19H331.5M328.2 477.67H331.5M327.1 469.14H331.5M328.2 460.61H331.5M328.2 452.09H331.5M328.2 443.56H331.5M328.2 435.04H331.5M327.1 426.51H331.5M328.2 417.98H331.5M328.2 409.46H331.5M331.5 554.5V558.7M343.09 554.5V557.1M349.87 554.5V557.1M354.68 554.5V557.1M358.41 554.5V557.1M361.46 554.5V557.1M364.04 554.5V557.1M366.27 554.5V557.1M368.24 554.5V557.1M370 554.5V558.7M381.59 554.5V557.1M388.37 554.5V557.1M393.18 554.5V557.1M396.91 554.5V557.1M399.96 554.5V557.1M402.54 554.5V557.1M404.77 554.5V557.1M406.74 554.5V557.1M408.5 554.5V558.7M420.09 554.5V557.1M426.87 554.5V557.1M431.68 554.5V557.1M435.41 554.5V557.1M438.46 554.5V557.1M441.04 554.5V557.1M443.27 554.5V557.1M445.24 554.5V557.1M447 554.5V558.7M458.59 554.5V557.1M465.37 554.5V557.1M470.18 554.5V557.1M473.91 554.5V557.1M476.96 554.5V557.1M479.54 554.5V557.1M481.77 554.5V557.1M483.74 554.5V557.1M485.5 554.5V558.7" stroke="#2a2a2a" stroke-width="0.95" fill="none"/>
<text transform="translate(323.2 554.4) rotate(-90) scale(1 1.16)" font-size="8" font-weight="normal" fill="#1a1a1a" stroke="#1a1a1a" stroke-width="0.18" text-anchor="middle">0</text>
<text transform="translate(323.2 511.77) rotate(-90) scale(1 1.16)" font-size="8" font-weight="normal" fill="#1a1a1a" stroke="#1a1a1a" stroke-width="0.18" text-anchor="middle">100</text>
<text transform="translate(323.2 469.14) rotate(-90) scale(1 1.16)" font-size="8" font-weight="normal" fill="#1a1a1a" stroke="#1a1a1a" stroke-width="0.18" text-anchor="middle">200</text>
<text transform="translate(323.2 426.51) rotate(-90) scale(1 1.16)" font-size="8" font-weight="normal" fill="#1a1a1a" stroke="#1a1a1a" stroke-width="0.18" text-anchor="middle">300</text>
<text transform="translate(313.1 477.5) rotate(-90) scale(1 1.16)" font-size="8" font-weight="normal" fill="#1a1a1a" stroke="#1a1a1a" stroke-width="0.18" text-anchor="middle">Count</text>
<text transform="translate(330.3 568.2) scale(1 1.16)" font-size="8" font-weight="normal" fill="#1a1a1a" stroke="#1a1a1a" stroke-width="0.18" text-anchor="middle">10</text>
<text transform="translate(334.4 564.7) scale(1 1.1)" font-size="6" font-weight="normal" fill="#1a1a1a" stroke="#1a1a1a" stroke-width="0.18" text-anchor="start">3</text>
<text transform="translate(368.8 568.2) scale(1 1.16)" font-size="8" font-weight="normal" fill="#1a1a1a" stroke="#1a1a1a" stroke-width="0.18" text-anchor="middle">10</text>
<text transform="translate(372.9 564.7) scale(1 1.1)" font-size="6" font-weight="normal" fill="#1a1a1a" stroke="#1a1a1a" stroke-width="0.18" text-anchor="start">4</text>
<text transform="translate(407.3 568.2) scale(1 1.16)" font-size="8" font-weight="normal" fill="#1a1a1a" stroke="#1a1a1a" stroke-width="0.18" text-anchor="middle">10</text>
<text transform="translate(411.4 564.7) scale(1 1.1)" font-size="6" font-weight="normal" fill="#1a1a1a" stroke="#1a1a1a" stroke-width="0.18" text-anchor="start">5</text>
<text transform="translate(445.8 568.2) scale(1 1.16)" font-size="8" font-weight="normal" fill="#1a1a1a" stroke="#1a1a1a" stroke-width="0.18" text-anchor="middle">10</text>
<text transform="translate(449.9 564.7) scale(1 1.1)" font-size="6" font-weight="normal" fill="#1a1a1a" stroke="#1a1a1a" stroke-width="0.18" text-anchor="start">6</text>
<text transform="translate(484.3 568.2) scale(1 1.16)" font-size="8" font-weight="normal" fill="#1a1a1a" stroke="#1a1a1a" stroke-width="0.18" text-anchor="middle">10</text>
<text transform="translate(488.4 564.7) scale(1 1.1)" font-size="6" font-weight="normal" fill="#1a1a1a" stroke="#1a1a1a" stroke-width="0.18" text-anchor="start">7</text>
<text transform="translate(403.5 398.1) scale(1 1.16)" font-size="8" font-weight="normal" fill="#1a1a1a" stroke="#1a1a1a" stroke-width="0.18" text-anchor="middle">PRX 0.2 : All Events</text>
<path d="M357.5 488.9H485.5" stroke="#e42a30" stroke-width="1" fill="none"/>
<path d="M357.8 484.7V493.7" stroke="#e42a30" stroke-width="1" fill="none"/>
<text transform="translate(361 483.4) scale(1 1.18)" font-size="8" font-weight="normal" fill="#e42a30" stroke="#e42a30" stroke-width="0.18" text-anchor="start">P2(21.41%)</text>
<text transform="translate(395.3 434.9) scale(1 1.08)" font-size="23.4" font-weight="bold" fill="#000">21.41%</text>
<polygon points="520.5,554.5 520.5,481.4 522,481.4 522,552.9 521.7,552.9 522.21,552.9 522.21,552.99 522.73,552.99 522.73,553.27 523.24,553.27 523.24,553.36 523.76,553.36 523.76,553.32 524.27,553.32 524.27,553.44 524.79,553.44 524.79,553.25 525.3,553.25 525.3,553.19 525.76,553.19 525.76,552.68 526.22,552.68 526.22,552.37 526.68,552.37 526.68,551.85 527.14,551.85 527.14,551.46 527.6,551.46 527.6,550.09 528.11,550.09 528.11,549.9 528.63,549.9 528.63,549.68 529.14,549.68 529.14,549.52 529.66,549.52 529.66,549.44 530.17,549.44 530.17,549.27 530.69,549.27 530.69,547.9 531.2,547.9 531.2,547.74 531.66,547.74 531.66,547.77 532.12,547.77 532.12,547.47 532.58,547.47 532.58,546.67 533.04,546.67 533.04,546.89 533.5,546.89 533.5,545.68 533.98,545.68 533.98,544.61 534.46,544.61 534.46,542.74 534.94,542.74 534.94,542.17 535.42,542.17 535.42,541.25 535.9,541.25 535.9,539.48 536.36,539.48 536.36,537.84 536.82,537.84 536.82,536.15 537.28,536.15 537.28,533.96 537.74,533.96 537.74,531.67 538.2,531.67 538.2,529.25 538.68,529.25 538.68,526.47 539.16,526.47 539.16,523.98 539.64,523.98 539.64,522.39 540.12,522.39 540.12,520.42 540.6,520.42 540.6,518.99 541.05,518.99 541.05,516.64 541.5,516.64 541.5,515.28 541.95,515.28 541.95,513.87 542.4,513.87 542.4,510.04 542.97,510.04 542.97,507.19 543.53,507.19 543.53,500.28 544.1,500.28 544.1,497.99 544.55,497.99 544.55,494.45 545,494.45 545,487.37 545.45,487.37 545.45,483.34 545.9,483.34 545.9,479.08 546.35,479.08 546.35,479.69 546.8,479.69 546.8,475.36 547.25,475.36 547.25,473.82 547.7,473.82 547.7,471.88 548.27,471.88 548.27,469.74 548.83,469.74 548.83,463.42 549.4,463.42 549.4,461.48 549.85,461.48 549.85,459.96 550.3,459.96 550.3,457.16 550.75,457.16 550.75,453.6 551.2,453.6 551.2,453.93 551.8,453.93 551.8,451.12 552.4,451.12 552.4,446.53 552.85,446.53 552.85,446 553.3,446 553.3,442.07 553.75,442.07 553.75,445.32 554.2,445.32 554.2,441.11 554.75,441.11 554.75,435.14 555.3,435.14 555.3,424.61 555.9,424.61 555.9,436.21 556.5,436.21 556.5,443.65 557.03,443.65 557.03,443.58 557.57,443.58 557.57,438.92 558.1,438.92 558.1,440.98 558.65,440.98 558.65,444.99 559.2,444.99 559.2,449 559.65,449 559.65,453.19 560.1,453.19 560.1,457.2 560.1,554.5" fill="#808080"/>
<polygon points="560.1,554.5 560.1,457.2 560.67,457.2 560.67,461.05 561.23,461.05 561.23,463.02 561.8,463.02 561.8,466.44 562.3,466.44 562.3,471.39 562.8,471.39 562.8,473.02 563.3,473.02 563.3,477.02 563.8,477.02 563.8,482.13 564.3,482.13 564.3,486.92 564.8,486.92 564.8,493.47 565.25,493.47 565.25,495.29 565.7,495.29 565.7,497.93 566.15,497.93 566.15,501.01 566.6,501.01 566.6,503.63 567.17,503.63 567.17,509.95 567.73,509.95 567.73,516.17 568.3,516.17 568.3,523.06 568.75,523.06 568.75,525.34 569.2,525.34 569.2,527.42 569.65,527.42 569.65,531.23 570.1,531.23 570.1,533.82 570.58,533.82 570.58,536.09 571.06,536.09 571.06,537.85 571.54,537.85 571.54,538.76 572.02,538.76 572.02,541.12 572.5,541.12 572.5,542 573,542 573,543.41 573.5,543.41 573.5,543.47 574,543.47 574,545.11 574.5,545.11 574.5,545.14 575,545.14 575,546.1 575.5,546.1 575.5,546.84 576,546.84 576,547.84 576.5,547.84 576.5,548.97 577,548.97 577,549.4 577.5,549.4 577.5,550.42 578,550.42 578,550.6 578.5,550.6 578.5,551.56 579,551.56 579,552.18 579.5,552.18 579.5,552.92 579.98,552.92 579.98,552.86 580.46,552.86 580.46,552.79 580.95,552.79 580.95,552.94 581.43,552.94 581.43,552.98 581.91,552.98 581.91,552.96 582.39,552.96 582.39,553.18 582.87,553.18 582.87,553.35 583.35,553.35 583.35,553.14 583.84,553.14 583.84,553.31 584.32,553.31 584.32,553.24 584.8,553.24 584.8,553.4 584.8,554.5" fill="#be4040"/>
<path d="M521.5 554.5V481.4" stroke="#000" stroke-width="1" fill="none"/>
<polyline points="522,552.9 521.7,552.9 522.21,552.9 522.21,552.99 522.73,552.99 522.73,553.27 523.24,553.27 523.24,553.36 523.76,553.36 523.76,553.32 524.27,553.32 524.27,553.44 524.79,553.44 524.79,553.25 525.3,553.25 525.3,553.19 525.76,553.19 525.76,552.68 526.22,552.68 526.22,552.37 526.68,552.37 526.68,551.85 527.14,551.85 527.14,551.46 527.6,551.46 527.6,550.09 528.11,550.09 528.11,549.9 528.63,549.9 528.63,549.68 529.14,549.68 529.14,549.52 529.66,549.52 529.66,549.44 530.17,549.44 530.17,549.27 530.69,549.27 530.69,547.9 531.2,547.9 531.2,547.74 531.66,547.74 531.66,547.77 532.12,547.77 532.12,547.47 532.58,547.47 532.58,546.67 533.04,546.67 533.04,546.89 533.5,546.89 533.5,545.68 533.98,545.68 533.98,544.61 534.46,544.61 534.46,542.74 534.94,542.74 534.94,542.17 535.42,542.17 535.42,541.25 535.9,541.25 535.9,539.48 536.36,539.48 536.36,537.84 536.82,537.84 536.82,536.15 537.28,536.15 537.28,533.96 537.74,533.96 537.74,531.67 538.2,531.67 538.2,529.25 538.68,529.25 538.68,526.47 539.16,526.47 539.16,523.98 539.64,523.98 539.64,522.39 540.12,522.39 540.12,520.42 540.6,520.42 540.6,518.99 541.05,518.99 541.05,516.64 541.5,516.64 541.5,515.28 541.95,515.28 541.95,513.87 542.4,513.87 542.4,510.04 542.97,510.04 542.97,507.19 543.53,507.19 543.53,500.28 544.1,500.28 544.1,497.99 544.55,497.99 544.55,494.45 545,494.45 545,487.37 545.45,487.37 545.45,483.34 545.9,483.34 545.9,479.08 546.35,479.08 546.35,479.69 546.8,479.69 546.8,475.36 547.25,475.36 547.25,473.82 547.7,473.82 547.7,471.88 548.27,471.88 548.27,469.74 548.83,469.74 548.83,463.42 549.4,463.42 549.4,461.48 549.85,461.48 549.85,459.96 550.3,459.96 550.3,457.16 550.75,457.16 550.75,453.6 551.2,453.6 551.2,453.93 551.8,453.93 551.8,451.12 552.4,451.12 552.4,446.53 552.85,446.53 552.85,446 553.3,446 553.3,442.07 553.75,442.07 553.75,445.32 554.2,445.32 554.2,441.11 554.75,441.11 554.75,435.14 555.3,435.14 555.3,424.61 555.9,424.61 555.9,436.21 556.5,436.21 556.5,443.65 557.03,443.65 557.03,443.58 557.57,443.58 557.57,438.92 558.1,438.92 558.1,440.98 558.65,440.98 558.65,444.99 559.2,444.99 559.2,449 559.65,449 559.65,453.19 560.1,453.19 560.1,457.2" fill="none" stroke="#000" stroke-width="0.95" stroke-linejoin="miter"/>
<polyline points="560.1,554.5 560.1,457.2 560.67,457.2 560.67,461.05 561.23,461.05 561.23,463.02 561.8,463.02 561.8,466.44 562.3,466.44 562.3,471.39 562.8,471.39 562.8,473.02 563.3,473.02 563.3,477.02 563.8,477.02 563.8,482.13 564.3,482.13 564.3,486.92 564.8,486.92 564.8,493.47 565.25,493.47 565.25,495.29 565.7,495.29 565.7,497.93 566.15,497.93 566.15,501.01 566.6,501.01 566.6,503.63 567.17,503.63 567.17,509.95 567.73,509.95 567.73,516.17 568.3,516.17 568.3,523.06 568.75,523.06 568.75,525.34 569.2,525.34 569.2,527.42 569.65,527.42 569.65,531.23 570.1,531.23 570.1,533.82 570.58,533.82 570.58,536.09 571.06,536.09 571.06,537.85 571.54,537.85 571.54,538.76 572.02,538.76 572.02,541.12 572.5,541.12 572.5,542 573,542 573,543.41 573.5,543.41 573.5,543.47 574,543.47 574,545.11 574.5,545.11 574.5,545.14 575,545.14 575,546.1 575.5,546.1 575.5,546.84 576,546.84 576,547.84 576.5,547.84 576.5,548.97 577,548.97 577,549.4 577.5,549.4 577.5,550.42 578,550.42 578,550.6 578.5,550.6 578.5,551.56 579,551.56 579,552.18 579.5,552.18 579.5,552.92 579.98,552.92 579.98,552.86 580.46,552.86 580.46,552.79 580.95,552.79 580.95,552.94 581.43,552.94 581.43,552.98 581.91,552.98 581.91,552.96 582.39,552.96 582.39,553.18 582.87,553.18 582.87,553.35 583.35,553.35 583.35,553.14 583.84,553.14 583.84,553.31 584.32,553.31 584.32,553.24 584.8,553.24 584.8,553.4" fill="none" stroke="#e82222" stroke-width="0.8"/>
<path d="M520.5 401.5H674.5V554.5" fill="none" stroke="#666" stroke-width="1"/>
<path d="M520.5 401.5V554.5H674.5" fill="none" stroke="#505050" stroke-width="1"/>
<path d="M516.1 554.4H520.5M517.2 545.49H520.5M517.2 536.57H520.5M517.2 527.66H520.5M517.2 518.74H520.5M516.1 509.83H520.5M517.2 500.92H520.5M517.2 492H520.5M517.2 483.09H520.5M517.2 474.17H520.5M516.1 465.26H520.5M517.2 456.35H520.5M517.2 447.43H520.5M517.2 438.52H520.5M517.2 429.6H520.5M516.1 420.69H520.5M517.2 411.78H520.5M520.5 554.5V557.1M527.83 554.5V557.1M533.03 554.5V557.1M537.07 554.5V557.1M540.36 554.5V557.1M543.15 554.5V557.1M545.57 554.5V557.1M547.7 554.5V557.1M549.6 554.5V558.7M562.13 554.5V557.1M569.46 554.5V557.1M574.67 554.5V557.1M578.7 554.5V557.1M582 554.5V557.1M584.78 554.5V557.1M587.2 554.5V557.1M589.33 554.5V557.1M591.23 554.5V558.7M603.77 554.5V557.1M611.1 554.5V557.1M616.3 554.5V557.1M620.33 554.5V557.1M623.63 554.5V557.1M626.42 554.5V557.1M628.83 554.5V557.1M630.96 554.5V557.1M632.87 554.5V558.7M645.4 554.5V557.1M652.73 554.5V557.1M657.93 554.5V557.1M661.97 554.5V557.1M665.26 554.5V557.1M668.05 554.5V557.1M670.47 554.5V557.1M672.59 554.5V557.1M674.5 554.5V558.7" stroke="#2a2a2a" stroke-width="0.95" fill="none"/>
<text transform="translate(512.2 554.4) rotate(-90) scale(1 1.16)" font-size="8" font-weight="normal" fill="#1a1a1a" stroke="#1a1a1a" stroke-width="0.18" text-anchor="middle">0</text>
<text transform="translate(512.2 509.83) rotate(-90) scale(1 1.16)" font-size="8" font-weight="normal" fill="#1a1a1a" stroke="#1a1a1a" stroke-width="0.18" text-anchor="middle">100</text>
<text transform="translate(512.2 465.26) rotate(-90) scale(1 1.16)" font-size="8" font-weight="normal" fill="#1a1a1a" stroke="#1a1a1a" stroke-width="0.18" text-anchor="middle">200</text>
<text transform="translate(512.2 420.69) rotate(-90) scale(1 1.16)" font-size="8" font-weight="normal" fill="#1a1a1a" stroke="#1a1a1a" stroke-width="0.18" text-anchor="middle">300</text>
<text transform="translate(502.1 477.5) rotate(-90) scale(1 1.16)" font-size="8" font-weight="normal" fill="#1a1a1a" stroke="#1a1a1a" stroke-width="0.18" text-anchor="middle">Count</text>
<text transform="translate(548.4 568.2) scale(1 1.16)" font-size="8" font-weight="normal" fill="#1a1a1a" stroke="#1a1a1a" stroke-width="0.18" text-anchor="middle">10</text>
<text transform="translate(552.5 564.7) scale(1 1.1)" font-size="6" font-weight="normal" fill="#1a1a1a" stroke="#1a1a1a" stroke-width="0.18" text-anchor="start">4</text>
<text transform="translate(590.03 568.2) scale(1 1.16)" font-size="8" font-weight="normal" fill="#1a1a1a" stroke="#1a1a1a" stroke-width="0.18" text-anchor="middle">10</text>
<text transform="translate(594.13 564.7) scale(1 1.1)" font-size="6" font-weight="normal" fill="#1a1a1a" stroke="#1a1a1a" stroke-width="0.18" text-anchor="start">5</text>
<text transform="translate(631.67 568.2) scale(1 1.16)" font-size="8" font-weight="normal" fill="#1a1a1a" stroke="#1a1a1a" stroke-width="0.18" text-anchor="middle">10</text>
<text transform="translate(635.77 564.7) scale(1 1.1)" font-size="6" font-weight="normal" fill="#1a1a1a" stroke="#1a1a1a" stroke-width="0.18" text-anchor="start">6</text>
<text transform="translate(673.3 568.2) scale(1 1.16)" font-size="8" font-weight="normal" fill="#1a1a1a" stroke="#1a1a1a" stroke-width="0.18" text-anchor="middle">10</text>
<text transform="translate(677.4 564.7) scale(1 1.1)" font-size="6" font-weight="normal" fill="#1a1a1a" stroke="#1a1a1a" stroke-width="0.18" text-anchor="start">7</text>
<text transform="translate(592.5 398.1) scale(1 1.16)" font-size="8" font-weight="normal" fill="#1a1a1a" stroke="#1a1a1a" stroke-width="0.18" text-anchor="middle">PRX 0.2 : All Events</text>
<path d="M560.1 491.1H674.5" stroke="#e42a30" stroke-width="1" fill="none"/>
<path d="M560.4 486.9V495.9" stroke="#e42a30" stroke-width="1" fill="none"/>
<text transform="translate(568.9 484) scale(1 1.18)" font-size="8" font-weight="normal" fill="#e42a30" stroke="#e42a30" stroke-width="0.18" text-anchor="start">P1(26.02%)</text>
<text transform="translate(580.4 434.9) scale(1 1.08)" font-size="23.4" font-weight="bold" fill="#000">26.02%</text>
<polygon points="138.5,737.5 138.5,646.3 140,646.3 140,703 139.4,703 140.1,703 140.1,693.96 140.55,693.96 140.55,690.42 141,690.42 141,690.46 141.45,690.46 141.45,687.09 141.9,687.09 141.9,687.15 142.38,687.15 142.38,686.75 142.86,686.75 142.86,685.99 143.34,685.99 143.34,683.05 143.82,683.05 143.82,681.3 144.3,681.3 144.3,682.43 144.87,682.43 144.87,679.58 145.43,679.58 145.43,677.93 146,677.93 146,675.45 146.45,675.45 146.45,673.99 146.9,673.99 146.9,670.36 147.35,670.36 147.35,666.47 147.8,666.47 147.8,663.38 148.4,663.38 148.4,660.33 149,660.33 149,654.54 149.6,654.54 149.6,649.45 150.2,649.45 150.2,646.62 150.75,646.62 150.75,640.66 151.3,640.66 151.3,629.67 151.9,629.67 151.9,625.33 152.5,625.33 152.5,616.41 153.1,616.41 153.1,614.49 153.7,614.49 153.7,615.47 154.3,615.47 154.3,619.04 154.9,619.04 154.9,621.42 155.5,621.42 155.5,612.57 156.1,612.57 156.1,608.91 156.65,608.91 156.65,616.19 157.2,616.19 157.2,617.04 157.8,617.04 157.8,616.14 158.4,616.14 158.4,615.24 159,615.24 159,619.74 159.6,619.74 159.6,623.78 160.2,623.78 160.2,625.33 160.8,625.33 160.8,632.43 161.4,632.43 161.4,636.96 162,636.96 162,641.88 162.55,641.88 162.55,645.31 163.1,645.31 163.1,651.24 163.7,651.24 163.7,653.22 164.3,653.22 164.3,654.18 164.9,654.18 164.9,662.26 165.5,662.26 165.5,666.31 165.95,666.31 165.95,671.13 166.4,671.13 166.4,672.7 166.85,672.7 166.85,672.25 167.3,672.25 167.3,676.11 167.87,676.11 167.87,681.05 168.43,681.05 168.43,684.12 169,684.12 169,689.21 169.6,689.21 169.6,693.37 170.2,693.37 170.2,697.29 170.8,697.29 170.8,699.34 171.4,699.34 171.4,701.8 171.4,737.5" fill="#808080"/>
<polygon points="171.4,737.5 171.4,701.8 171.85,701.8 171.85,703.38 172.3,703.38 172.3,704.68 172.75,704.68 172.75,706.43 173.2,706.43 173.2,709.69 173.77,709.69 173.77,711.41 174.33,711.41 174.33,713.65 174.9,713.65 174.9,717.56 175.35,717.56 175.35,717.09 175.8,717.09 175.8,718.85 176.25,718.85 176.25,719.46 176.7,719.46 176.7,719.47 177.15,719.47 177.15,720.47 177.6,720.47 177.6,720.79 178.05,720.79 178.05,722.69 178.5,722.69 178.5,723.24 178.96,723.24 178.96,723.83 179.42,723.83 179.42,725.86 179.88,725.86 179.88,726.84 180.34,726.84 180.34,727.79 180.8,727.79 180.8,728.93 181.31,728.93 181.31,729.15 181.83,729.15 181.83,730 182.34,730 182.34,730.68 182.86,730.68 182.86,731.68 183.37,731.68 183.37,732.64 183.89,732.64 183.89,732.86 184.4,732.86 184.4,734 184.92,734 184.92,734.17 185.44,734.17 185.44,733.96 185.97,733.96 185.97,734.26 186.49,734.26 186.49,734.85 187.01,734.85 187.01,735 187.53,735 187.53,735 188.06,735 188.06,735.43 188.58,735.43 188.58,735.92 189.1,735.92 189.1,736.17 189.61,736.17 189.61,736.01 190.11,736.01 190.11,736.27 190.62,736.27 190.62,736.33 191.13,736.33 191.13,736 191.64,736 191.64,736.34 192.14,736.34 192.14,736.21 192.65,736.21 192.65,736.34 193.16,736.34 193.16,736.21 193.66,736.21 193.66,736.25 194.17,736.25 194.17,736.43 194.68,736.43 194.68,736.58 195.19,736.58 195.19,736.35 195.69,736.35 195.69,736.62 196.2,736.62 196.2,736.6 196.2,737.5" fill="#be4040"/>
<path d="M139.5 737.5V646.3" stroke="#000" stroke-width="1" fill="none"/>
<polyline points="140,703 139.4,703 140.1,703 140.1,693.96 140.55,693.96 140.55,690.42 141,690.42 141,690.46 141.45,690.46 141.45,687.09 141.9,687.09 141.9,687.15 142.38,687.15 142.38,686.75 142.86,686.75 142.86,685.99 143.34,685.99 143.34,683.05 143.82,683.05 143.82,681.3 144.3,681.3 144.3,682.43 144.87,682.43 144.87,679.58 145.43,679.58 145.43,677.93 146,677.93 146,675.45 146.45,675.45 146.45,673.99 146.9,673.99 146.9,670.36 147.35,670.36 147.35,666.47 147.8,666.47 147.8,663.38 148.4,663.38 148.4,660.33 149,660.33 149,654.54 149.6,654.54 149.6,649.45 150.2,649.45 150.2,646.62 150.75,646.62 150.75,640.66 151.3,640.66 151.3,629.67 151.9,629.67 151.9,625.33 152.5,625.33 152.5,616.41 153.1,616.41 153.1,614.49 153.7,614.49 153.7,615.47 154.3,615.47 154.3,619.04 154.9,619.04 154.9,621.42 155.5,621.42 155.5,612.57 156.1,612.57 156.1,608.91 156.65,608.91 156.65,616.19 157.2,616.19 157.2,617.04 157.8,617.04 157.8,616.14 158.4,616.14 158.4,615.24 159,615.24 159,619.74 159.6,619.74 159.6,623.78 160.2,623.78 160.2,625.33 160.8,625.33 160.8,632.43 161.4,632.43 161.4,636.96 162,636.96 162,641.88 162.55,641.88 162.55,645.31 163.1,645.31 163.1,651.24 163.7,651.24 163.7,653.22 164.3,653.22 164.3,654.18 164.9,654.18 164.9,662.26 165.5,662.26 165.5,666.31 165.95,666.31 165.95,671.13 166.4,671.13 166.4,672.7 166.85,672.7 166.85,672.25 167.3,672.25 167.3,676.11 167.87,676.11 167.87,681.05 168.43,681.05 168.43,684.12 169,684.12 169,689.21 169.6,689.21 169.6,693.37 170.2,693.37 170.2,697.29 170.8,697.29 170.8,699.34 171.4,699.34 171.4,701.8" fill="none" stroke="#000" stroke-width="0.95" stroke-linejoin="miter"/>
<polyline points="171.4,737.5 171.4,701.8 171.85,701.8 171.85,703.38 172.3,703.38 172.3,704.68 172.75,704.68 172.75,706.43 173.2,706.43 173.2,709.69 173.77,709.69 173.77,711.41 174.33,711.41 174.33,713.65 174.9,713.65 174.9,717.56 175.35,717.56 175.35,717.09 175.8,717.09 175.8,718.85 176.25,718.85 176.25,719.46 176.7,719.46 176.7,719.47 177.15,719.47 177.15,720.47 177.6,720.47 177.6,720.79 178.05,720.79 178.05,722.69 178.5,722.69 178.5,723.24 178.96,723.24 178.96,723.83 179.42,723.83 179.42,725.86 179.88,725.86 179.88,726.84 180.34,726.84 180.34,727.79 180.8,727.79 180.8,728.93 181.31,728.93 181.31,729.15 181.83,729.15 181.83,730 182.34,730 182.34,730.68 182.86,730.68 182.86,731.68 183.37,731.68 183.37,732.64 183.89,732.64 183.89,732.86 184.4,732.86 184.4,734 184.92,734 184.92,734.17 185.44,734.17 185.44,733.96 185.97,733.96 185.97,734.26 186.49,734.26 186.49,734.85 187.01,734.85 187.01,735 187.53,735 187.53,735 188.06,735 188.06,735.43 188.58,735.43 188.58,735.92 189.1,735.92 189.1,736.17 189.61,736.17 189.61,736.01 190.11,736.01 190.11,736.27 190.62,736.27 190.62,736.33 191.13,736.33 191.13,736 191.64,736 191.64,736.34 192.14,736.34 192.14,736.21 192.65,736.21 192.65,736.34 193.16,736.34 193.16,736.21 193.66,736.21 193.66,736.25 194.17,736.25 194.17,736.43 194.68,736.43 194.68,736.58 195.19,736.58 195.19,736.35 195.69,736.35 195.69,736.62 196.2,736.62 196.2,736.6" fill="none" stroke="#e82222" stroke-width="0.8"/>
<path d="M138.5 583.5H292.5V737.5" fill="none" stroke="#666" stroke-width="1"/>
<path d="M138.5 583.5V737.5H292.5" fill="none" stroke="#505050" stroke-width="1"/>
<path d="M134.1 737H138.5M135.2 725.33H138.5M135.2 713.66H138.5M135.2 701.99H138.5M135.2 690.32H138.5M134.1 678.65H138.5M135.2 666.98H138.5M135.2 655.31H138.5M135.2 643.64H138.5M135.2 631.97H138.5M134.1 620.3H138.5M135.2 608.63H138.5M135.2 596.96H138.5M135.2 585.29H138.5M138.5 737.5V741.7M150.09 737.5V740.1M156.87 737.5V740.1M161.68 737.5V740.1M165.41 737.5V740.1M168.46 737.5V740.1M171.04 737.5V740.1M173.27 737.5V740.1M175.24 737.5V740.1M177 737.5V741.7M188.59 737.5V740.1M195.37 737.5V740.1M200.18 737.5V740.1M203.91 737.5V740.1M206.96 737.5V740.1M209.54 737.5V740.1M211.77 737.5V740.1M213.74 737.5V740.1M215.5 737.5V741.7M227.09 737.5V740.1M233.87 737.5V740.1M238.68 737.5V740.1M242.41 737.5V740.1M245.46 737.5V740.1M248.04 737.5V740.1M250.27 737.5V740.1M252.24 737.5V740.1M254 737.5V741.7M265.59 737.5V740.1M272.37 737.5V740.1M277.18 737.5V740.1M280.91 737.5V740.1M283.96 737.5V740.1M286.54 737.5V740.1M288.77 737.5V740.1M290.74 737.5V740.1M292.5 737.5V741.7" stroke="#2a2a2a" stroke-width="0.95" fill="none"/>
<text transform="translate(130.2 737) rotate(-90) scale(1 1.16)" font-size="8" font-weight="normal" fill="#1a1a1a" stroke="#1a1a1a" stroke-width="0.18" text-anchor="middle">0</text>
<text transform="translate(130.2 678.65) rotate(-90) scale(1 1.16)" font-size="8" font-weight="normal" fill="#1a1a1a" stroke="#1a1a1a" stroke-width="0.18" text-anchor="middle">100</text>
<text transform="translate(130.2 620.3) rotate(-90) scale(1 1.16)" font-size="8" font-weight="normal" fill="#1a1a1a" stroke="#1a1a1a" stroke-width="0.18" text-anchor="middle">200</text>
<text transform="translate(120.1 660) rotate(-90) scale(1 1.16)" font-size="8" font-weight="normal" fill="#1a1a1a" stroke="#1a1a1a" stroke-width="0.18" text-anchor="middle">Count</text>
<text transform="translate(137.3 751.2) scale(1 1.16)" font-size="8" font-weight="normal" fill="#1a1a1a" stroke="#1a1a1a" stroke-width="0.18" text-anchor="middle">10</text>
<text transform="translate(141.4 747.7) scale(1 1.1)" font-size="6" font-weight="normal" fill="#1a1a1a" stroke="#1a1a1a" stroke-width="0.18" text-anchor="start">3</text>
<text transform="translate(175.8 751.2) scale(1 1.16)" font-size="8" font-weight="normal" fill="#1a1a1a" stroke="#1a1a1a" stroke-width="0.18" text-anchor="middle">10</text>
<text transform="translate(179.9 747.7) scale(1 1.1)" font-size="6" font-weight="normal" fill="#1a1a1a" stroke="#1a1a1a" stroke-width="0.18" text-anchor="start">4</text>
<text transform="translate(214.3 751.2) scale(1 1.16)" font-size="8" font-weight="normal" fill="#1a1a1a" stroke="#1a1a1a" stroke-width="0.18" text-anchor="middle">10</text>
<text transform="translate(218.4 747.7) scale(1 1.1)" font-size="6" font-weight="normal" fill="#1a1a1a" stroke="#1a1a1a" stroke-width="0.18" text-anchor="start">5</text>
<text transform="translate(252.8 751.2) scale(1 1.16)" font-size="8" font-weight="normal" fill="#1a1a1a" stroke="#1a1a1a" stroke-width="0.18" text-anchor="middle">10</text>
<text transform="translate(256.9 747.7) scale(1 1.1)" font-size="6" font-weight="normal" fill="#1a1a1a" stroke="#1a1a1a" stroke-width="0.18" text-anchor="start">6</text>
<text transform="translate(291.3 751.2) scale(1 1.16)" font-size="8" font-weight="normal" fill="#1a1a1a" stroke="#1a1a1a" stroke-width="0.18" text-anchor="middle">10</text>
<text transform="translate(295.4 747.7) scale(1 1.1)" font-size="6" font-weight="normal" fill="#1a1a1a" stroke="#1a1a1a" stroke-width="0.18" text-anchor="start">7</text>
<text transform="translate(210.5 580.1) scale(1 1.16)" font-size="8" font-weight="normal" fill="#1a1a1a" stroke="#1a1a1a" stroke-width="0.18" text-anchor="middle">PRX 1 : All Events</text>
<path d="M171.6 677H292.5" stroke="#e42a30" stroke-width="1" fill="none"/>
<path d="M171.9 672.8V681.8" stroke="#e42a30" stroke-width="1" fill="none"/>
<text transform="translate(171.8 668.9) scale(1 1.18)" font-size="8" font-weight="normal" fill="#e42a30" stroke="#e42a30" stroke-width="0.18" text-anchor="start">P1(6.19%)</text>
<text transform="translate(219.3 616.3) scale(1 1.08)" font-size="23.4" font-weight="bold" fill="#000">6.19%</text>
<polygon points="331.5,736.5 331.5,654 333,654 333,716 332.3,716 332.8,716 332.8,712.35 333.3,712.35 333.3,707.52 333.75,707.52 333.75,705.45 334.2,705.45 334.2,705.59 334.65,705.59 334.65,704.9 335.1,704.9 335.1,701.62 335.67,701.62 335.67,700.22 336.23,700.22 336.23,694.74 336.8,694.74 336.8,694.67 337.4,694.67 337.4,687.01 338,687.01 338,682.03 338.45,682.03 338.45,679.99 338.9,679.99 338.9,682.74 339.35,682.74 339.35,680.34 339.8,680.34 339.8,680.07 340.4,680.07 340.4,671.2 341,671.2 341,665.18 341.6,665.18 341.6,656.14 342.2,656.14 342.2,650.26 342.75,650.26 342.75,648.76 343.3,648.76 343.3,653.08 343.9,653.08 343.9,647.86 344.5,647.86 344.5,641.51 345,641.51 345,630.67 345.5,630.67 345.5,624.83 345.9,624.83 345.9,633.09 346.3,633.09 346.3,631.74 346.9,631.74 346.9,635.46 347.5,635.46 347.5,629.9 348.05,629.9 348.05,630.44 348.6,630.44 348.6,625.31 349.2,625.31 349.2,628.88 349.8,628.88 349.8,640.17 350.4,640.17 350.4,604.1 351,604.1 351,612.85 351.6,612.85 351.6,621.34 352.2,621.34 352.2,629.17 352.8,629.17 352.8,632.78 353.4,632.78 353.4,631.23 354,631.23 354,629.9 354.55,629.9 354.55,640.18 355.1,640.18 355.1,647.18 355.7,647.18 355.7,646.18 356.3,646.18 356.3,650.57 356.9,650.57 356.9,653.52 357.5,653.52 357.5,660.5 357.5,736.5" fill="#808080"/>
<polygon points="357.5,736.5 357.5,660.5 357.95,660.5 357.95,662.36 358.4,662.36 358.4,666.36 358.85,666.36 358.85,665.87 359.3,665.87 359.3,668.81 359.87,668.81 359.87,669.44 360.43,669.44 360.43,675.03 361,675.03 361,678.79 361.45,678.79 361.45,682.97 361.9,682.97 361.9,682.96 362.35,682.96 362.35,689.13 362.8,689.13 362.8,693.08 363.25,693.08 363.25,693.76 363.7,693.76 363.7,698.1 364.15,698.1 364.15,699.82 364.6,699.82 364.6,700.33 365.17,700.33 365.17,705.2 365.73,705.2 365.73,708.38 366.3,708.38 366.3,710.47 366.75,710.47 366.75,711.12 367.2,711.12 367.2,715.04 367.65,715.04 367.65,717.41 368.1,717.41 368.1,718.21 368.55,718.21 368.55,719.04 369,719.04 369,722.22 369.45,722.22 369.45,724.09 369.9,724.09 369.9,726.38 370.38,726.38 370.38,727.3 370.87,727.3 370.87,726.42 371.35,726.42 371.35,727.74 371.83,727.74 371.83,729.87 372.32,729.87 372.32,730.68 372.8,730.68 372.8,731.37 373.28,731.37 373.28,731.73 373.76,731.73 373.76,732.72 374.24,732.72 374.24,732.68 374.72,732.68 374.72,732.79 375.2,732.79 375.2,733.51 375.68,733.51 375.68,734.06 376.16,734.06 376.16,733.72 376.64,733.72 376.64,734.7 377.12,734.7 377.12,735.37 377.6,735.37 377.6,735.24 378.12,735.24 378.12,735.69 378.64,735.69 378.64,735.73 379.17,735.73 379.17,735.08 379.69,735.08 379.69,735.31 380.21,735.31 380.21,735.55 380.73,735.55 380.73,735.51 381.26,735.51 381.26,735.41 381.78,735.41 381.78,735.52 382.3,735.52 382.3,735.27 382.82,735.27 382.82,735.42 383.34,735.42 383.34,735.31 383.87,735.31 383.87,735.38 384.39,735.38 384.39,735.79 384.91,735.79 384.91,735.86 385.43,735.86 385.43,736 385.96,736 385.96,735.82 386.48,735.82 386.48,735.89 387,735.89 387,736 387,736.5" fill="#be4040"/>
<path d="M332.5 736.5V654" stroke="#000" stroke-width="1" fill="none"/>
<polyline points="333,716 332.3,716 332.8,716 332.8,712.35 333.3,712.35 333.3,707.52 333.75,707.52 333.75,705.45 334.2,705.45 334.2,705.59 334.65,705.59 334.65,704.9 335.1,704.9 335.1,701.62 335.67,701.62 335.67,700.22 336.23,700.22 336.23,694.74 336.8,694.74 336.8,694.67 337.4,694.67 337.4,687.01 338,687.01 338,682.03 338.45,682.03 338.45,679.99 338.9,679.99 338.9,682.74 339.35,682.74 339.35,680.34 339.8,680.34 339.8,680.07 340.4,680.07 340.4,671.2 341,671.2 341,665.18 341.6,665.18 341.6,656.14 342.2,656.14 342.2,650.26 342.75,650.26 342.75,648.76 343.3,648.76 343.3,653.08 343.9,653.08 343.9,647.86 344.5,647.86 344.5,641.51 345,641.51 345,630.67 345.5,630.67 345.5,624.83 345.9,624.83 345.9,633.09 346.3,633.09 346.3,631.74 346.9,631.74 346.9,635.46 347.5,635.46 347.5,629.9 348.05,629.9 348.05,630.44 348.6,630.44 348.6,625.31 349.2,625.31 349.2,628.88 349.8,628.88 349.8,640.17 350.4,640.17 350.4,604.1 351,604.1 351,612.85 351.6,612.85 351.6,621.34 352.2,621.34 352.2,629.17 352.8,629.17 352.8,632.78 353.4,632.78 353.4,631.23 354,631.23 354,629.9 354.55,629.9 354.55,640.18 355.1,640.18 355.1,647.18 355.7,647.18 355.7,646.18 356.3,646.18 356.3,650.57 356.9,650.57 356.9,653.52 357.5,653.52 357.5,660.5" fill="none" stroke="#000" stroke-width="0.95" stroke-linejoin="miter"/>
<polyline points="357.5,736.5 357.5,660.5 357.95,660.5 357.95,662.36 358.4,662.36 358.4,666.36 358.85,666.36 358.85,665.87 359.3,665.87 359.3,668.81 359.87,668.81 359.87,669.44 360.43,669.44 360.43,675.03 361,675.03 361,678.79 361.45,678.79 361.45,682.97 361.9,682.97 361.9,682.96 362.35,682.96 362.35,689.13 362.8,689.13 362.8,693.08 363.25,693.08 363.25,693.76 363.7,693.76 363.7,698.1 364.15,698.1 364.15,699.82 364.6,699.82 364.6,700.33 365.17,700.33 365.17,705.2 365.73,705.2 365.73,708.38 366.3,708.38 366.3,710.47 366.75,710.47 366.75,711.12 367.2,711.12 367.2,715.04 367.65,715.04 367.65,717.41 368.1,717.41 368.1,718.21 368.55,718.21 368.55,719.04 369,719.04 369,722.22 369.45,722.22 369.45,724.09 369.9,724.09 369.9,726.38 370.38,726.38 370.38,727.3 370.87,727.3 370.87,726.42 371.35,726.42 371.35,727.74 371.83,727.74 371.83,729.87 372.32,729.87 372.32,730.68 372.8,730.68 372.8,731.37 373.28,731.37 373.28,731.73 373.76,731.73 373.76,732.72 374.24,732.72 374.24,732.68 374.72,732.68 374.72,732.79 375.2,732.79 375.2,733.51 375.68,733.51 375.68,734.06 376.16,734.06 376.16,733.72 376.64,733.72 376.64,734.7 377.12,734.7 377.12,735.37 377.6,735.37 377.6,735.24 378.12,735.24 378.12,735.69 378.64,735.69 378.64,735.73 379.17,735.73 379.17,735.08 379.69,735.08 379.69,735.31 380.21,735.31 380.21,735.55 380.73,735.55 380.73,735.51 381.26,735.51 381.26,735.41 381.78,735.41 381.78,735.52 382.3,735.52 382.3,735.27 382.82,735.27 382.82,735.42 383.34,735.42 383.34,735.31 383.87,735.31 383.87,735.38 384.39,735.38 384.39,735.79 384.91,735.79 384.91,735.86 385.43,735.86 385.43,736 385.96,736 385.96,735.82 386.48,735.82 386.48,735.89 387,735.89 387,736" fill="none" stroke="#e82222" stroke-width="0.8"/>
<path d="M331.5 582.5H485.5V736.5" fill="none" stroke="#666" stroke-width="1"/>
<path d="M331.5 582.5V736.5H485.5" fill="none" stroke="#505050" stroke-width="1"/>
<path d="M327.1 736.5H331.5M328.2 726.38H331.5M328.2 716.26H331.5M328.2 706.14H331.5M328.2 696.02H331.5M327.1 685.9H331.5M328.2 675.78H331.5M328.2 665.66H331.5M328.2 655.54H331.5M328.2 645.42H331.5M327.1 635.3H331.5M328.2 625.18H331.5M328.2 615.06H331.5M328.2 604.94H331.5M328.2 594.82H331.5M327.1 584.7H331.5M331.5 736.5V740.7M343.09 736.5V739.1M349.87 736.5V739.1M354.68 736.5V739.1M358.41 736.5V739.1M361.46 736.5V739.1M364.04 736.5V739.1M366.27 736.5V739.1M368.24 736.5V739.1M370 736.5V740.7M381.59 736.5V739.1M388.37 736.5V739.1M393.18 736.5V739.1M396.91 736.5V739.1M399.96 736.5V739.1M402.54 736.5V739.1M404.77 736.5V739.1M406.74 736.5V739.1M408.5 736.5V740.7M420.09 736.5V739.1M426.87 736.5V739.1M431.68 736.5V739.1M435.41 736.5V739.1M438.46 736.5V739.1M441.04 736.5V739.1M443.27 736.5V739.1M445.24 736.5V739.1M447 736.5V740.7M458.59 736.5V739.1M465.37 736.5V739.1M470.18 736.5V739.1M473.91 736.5V739.1M476.96 736.5V739.1M479.54 736.5V739.1M481.77 736.5V739.1M483.74 736.5V739.1M485.5 736.5V740.7" stroke="#2a2a2a" stroke-width="0.95" fill="none"/>
<text transform="translate(323.2 736.5) rotate(-90) scale(1 1.16)" font-size="8" font-weight="normal" fill="#1a1a1a" stroke="#1a1a1a" stroke-width="0.18" text-anchor="middle">0</text>
<text transform="translate(323.2 685.9) rotate(-90) scale(1 1.16)" font-size="8" font-weight="normal" fill="#1a1a1a" stroke="#1a1a1a" stroke-width="0.18" text-anchor="middle">100</text>
<text transform="translate(323.2 635.3) rotate(-90) scale(1 1.16)" font-size="8" font-weight="normal" fill="#1a1a1a" stroke="#1a1a1a" stroke-width="0.18" text-anchor="middle">200</text>
<text transform="translate(323.2 584.7) rotate(-90) scale(1 1.16)" font-size="8" font-weight="normal" fill="#1a1a1a" stroke="#1a1a1a" stroke-width="0.18" text-anchor="middle">300</text>
<text transform="translate(313.1 659) rotate(-90) scale(1 1.16)" font-size="8" font-weight="normal" fill="#1a1a1a" stroke="#1a1a1a" stroke-width="0.18" text-anchor="middle">Count</text>
<text transform="translate(330.3 750.2) scale(1 1.16)" font-size="8" font-weight="normal" fill="#1a1a1a" stroke="#1a1a1a" stroke-width="0.18" text-anchor="middle">10</text>
<text transform="translate(334.4 746.7) scale(1 1.1)" font-size="6" font-weight="normal" fill="#1a1a1a" stroke="#1a1a1a" stroke-width="0.18" text-anchor="start">3</text>
<text transform="translate(368.8 750.2) scale(1 1.16)" font-size="8" font-weight="normal" fill="#1a1a1a" stroke="#1a1a1a" stroke-width="0.18" text-anchor="middle">10</text>
<text transform="translate(372.9 746.7) scale(1 1.1)" font-size="6" font-weight="normal" fill="#1a1a1a" stroke="#1a1a1a" stroke-width="0.18" text-anchor="start">4</text>
<text transform="translate(407.3 750.2) scale(1 1.16)" font-size="8" font-weight="normal" fill="#1a1a1a" stroke="#1a1a1a" stroke-width="0.18" text-anchor="middle">10</text>
<text transform="translate(411.4 746.7) scale(1 1.1)" font-size="6" font-weight="normal" fill="#1a1a1a" stroke="#1a1a1a" stroke-width="0.18" text-anchor="start">5</text>
<text transform="translate(445.8 750.2) scale(1 1.16)" font-size="8" font-weight="normal" fill="#1a1a1a" stroke="#1a1a1a" stroke-width="0.18" text-anchor="middle">10</text>
<text transform="translate(449.9 746.7) scale(1 1.1)" font-size="6" font-weight="normal" fill="#1a1a1a" stroke="#1a1a1a" stroke-width="0.18" text-anchor="start">6</text>
<text transform="translate(484.3 750.2) scale(1 1.16)" font-size="8" font-weight="normal" fill="#1a1a1a" stroke="#1a1a1a" stroke-width="0.18" text-anchor="middle">10</text>
<text transform="translate(488.4 746.7) scale(1 1.1)" font-size="6" font-weight="normal" fill="#1a1a1a" stroke="#1a1a1a" stroke-width="0.18" text-anchor="start">7</text>
<text transform="translate(403.5 579.1) scale(1 1.16)" font-size="8" font-weight="normal" fill="#1a1a1a" stroke="#1a1a1a" stroke-width="0.18" text-anchor="middle">PRX 1 : All Events</text>
<path d="M357.5 671.1H485.5" stroke="#e42a30" stroke-width="1" fill="none"/>
<path d="M357.8 666.9V675.9" stroke="#e42a30" stroke-width="1" fill="none"/>
<text transform="translate(361 665.2) scale(1 1.18)" font-size="8" font-weight="normal" fill="#e42a30" stroke="#e42a30" stroke-width="0.18" text-anchor="start">P2(17.30%)</text>
<text transform="translate(400.6 615.9) scale(1 1.08)" font-size="23.4" font-weight="bold" fill="#000">17.30%</text>
<polygon points="521.5,736.5 521.5,665.2 523,665.2 523,733.7 522.7,733.7 523.21,733.7 523.21,734.2 523.73,734.2 523.73,734.19 524.24,734.19 524.24,734.35 524.76,734.35 524.76,734.26 525.27,734.26 525.27,734.55 525.79,734.55 525.79,734.71 526.3,734.71 526.3,734.63 526.8,734.63 526.8,734.66 527.3,734.66 527.3,734.01 527.8,734.01 527.8,733.23 528.3,733.23 528.3,732.53 528.8,732.53 528.8,732.66 529.3,732.66 529.3,731.36 529.8,731.36 529.8,730.91 530.28,730.91 530.28,730.7 530.76,730.7 530.76,729.89 531.24,729.89 531.24,729.22 531.72,729.22 531.72,728.12 532.2,728.12 532.2,727.72 532.7,727.72 532.7,727.53 533.2,727.53 533.2,726.76 533.7,726.76 533.7,725.9 534.2,725.9 534.2,725.02 534.7,725.02 534.7,723 535.2,723 535.2,722.44 535.7,722.44 535.7,721.68 536.18,721.68 536.18,719.21 536.66,719.21 536.66,717.2 537.14,717.2 537.14,716.04 537.62,716.04 537.62,712.98 538.1,712.98 538.1,711.56 538.67,711.56 538.67,708.26 539.23,708.26 539.23,705.39 539.8,705.39 539.8,701.88 540.25,701.88 540.25,698.64 540.7,698.64 540.7,697.36 541.15,697.36 541.15,691.87 541.6,691.87 541.6,690.97 542.05,690.97 542.05,686.46 542.5,686.46 542.5,682.8 542.95,682.8 542.95,679.82 543.4,679.82 543.4,674.21 543.97,674.21 543.97,669.22 544.53,669.22 544.53,665.44 545.1,665.44 545.1,662.89 545.55,662.89 545.55,660.27 546,660.27 546,654.64 546.45,654.64 546.45,649.54 546.9,649.54 546.9,645.46 547.35,645.46 547.35,641.49 547.8,641.49 547.8,635.61 548.25,635.61 548.25,631.87 548.7,631.87 548.7,625.18 549.27,625.18 549.27,622.97 549.83,622.97 549.83,615.85 550.4,615.85 550.4,615.18 550.9,615.18 550.9,610.52 551.4,610.52 551.4,610.87 551.87,610.87 551.87,613.32 552.33,613.32 552.33,617.21 552.8,617.21 552.8,618.19 553.4,618.19 553.4,621.21 554,621.21 554,619.41 554.6,619.41 554.6,614.51 555.2,614.51 555.2,613.63 555.75,613.63 555.75,616.39 556.3,616.39 556.3,619.78 556.75,619.78 556.75,616.34 557.2,616.34 557.2,614.65 557.65,614.65 557.65,614 558.1,614 558.1,613.05 558.7,613.05 558.7,621.82 559.3,621.82 559.3,625.69 559.9,625.69 559.9,633.36 560.5,633.36 560.5,641.31 561.1,641.31 561.1,648.7 561.1,736.5" fill="#808080"/>
<polygon points="561.1,736.5 561.1,648.7 561.65,648.7 561.65,645.87 562.2,645.87 562.2,646.99 562.8,646.99 562.8,655.71 563.4,655.71 563.4,661.97 564,661.97 564,669.98 564.6,669.98 564.6,677.12 565.2,677.12 565.2,678.91 565.8,678.91 565.8,682.45 566.4,682.45 566.4,688.58 567,688.58 567,693.39 567.57,693.39 567.57,698.21 568.13,698.21 568.13,702.33 568.7,702.33 568.7,704.85 569.3,704.85 569.3,702.61 569.9,702.61 569.9,701.94 570.5,701.94 570.5,710.61 571.1,710.61 571.1,719.79 571.58,719.79 571.58,721.01 572.06,721.01 572.06,721.96 572.54,721.96 572.54,723.63 573.02,723.63 573.02,725.05 573.5,725.05 573.5,726.86 573.96,726.86 573.96,727.56 574.42,727.56 574.42,727.86 574.88,727.86 574.88,728.55 575.34,728.55 575.34,729.47 575.8,729.47 575.8,729.85 576.31,729.85 576.31,730.65 576.83,730.65 576.83,731.03 577.34,731.03 577.34,731.82 577.86,731.82 577.86,732.7 578.37,732.7 578.37,733.06 578.89,733.06 578.89,733.66 579.4,733.66 579.4,734.2 579.9,734.2 579.9,734.42 580.4,734.42 580.4,734.69 580.9,734.69 580.9,734.37 581.4,734.37 581.4,734.48 581.9,734.48 581.9,734.84 582.4,734.84 582.4,734.87 582.9,734.87 582.9,734.98 583.4,734.98 583.4,735.07 583.9,735.07 583.9,734.91 584.4,734.91 584.4,735.18 584.9,735.18 584.9,734.98 585.4,734.98 585.4,735.19 585.9,735.19 585.9,735.25 586.4,735.25 586.4,735.4 586.4,736.5" fill="#be4040"/>
<path d="M522.5 736.5V665.2" stroke="#000" stroke-width="1" fill="none"/>
<polyline points="523,733.7 522.7,733.7 523.21,733.7 523.21,734.2 523.73,734.2 523.73,734.19 524.24,734.19 524.24,734.35 524.76,734.35 524.76,734.26 525.27,734.26 525.27,734.55 525.79,734.55 525.79,734.71 526.3,734.71 526.3,734.63 526.8,734.63 526.8,734.66 527.3,734.66 527.3,734.01 527.8,734.01 527.8,733.23 528.3,733.23 528.3,732.53 528.8,732.53 528.8,732.66 529.3,732.66 529.3,731.36 529.8,731.36 529.8,730.91 530.28,730.91 530.28,730.7 530.76,730.7 530.76,729.89 531.24,729.89 531.24,729.22 531.72,729.22 531.72,728.12 532.2,728.12 532.2,727.72 532.7,727.72 532.7,727.53 533.2,727.53 533.2,726.76 533.7,726.76 533.7,725.9 534.2,725.9 534.2,725.02 534.7,725.02 534.7,723 535.2,723 535.2,722.44 535.7,722.44 535.7,721.68 536.18,721.68 536.18,719.21 536.66,719.21 536.66,717.2 537.14,717.2 537.14,716.04 537.62,716.04 537.62,712.98 538.1,712.98 538.1,711.56 538.67,711.56 538.67,708.26 539.23,708.26 539.23,705.39 539.8,705.39 539.8,701.88 540.25,701.88 540.25,698.64 540.7,698.64 540.7,697.36 541.15,697.36 541.15,691.87 541.6,691.87 541.6,690.97 542.05,690.97 542.05,686.46 542.5,686.46 542.5,682.8 542.95,682.8 542.95,679.82 543.4,679.82 543.4,674.21 543.97,674.21 543.97,669.22 544.53,669.22 544.53,665.44 545.1,665.44 545.1,662.89 545.55,662.89 545.55,660.27 546,660.27 546,654.64 546.45,654.64 546.45,649.54 546.9,649.54 546.9,645.46 547.35,645.46 547.35,641.49 547.8,641.49 547.8,635.61 548.25,635.61 548.25,631.87 548.7,631.87 548.7,625.18 549.27,625.18 549.27,622.97 549.83,622.97 549.83,615.85 550.4,615.85 550.4,615.18 550.9,615.18 550.9,610.52 551.4,610.52 551.4,610.87 551.87,610.87 551.87,613.32 552.33,613.32 552.33,617.21 552.8,617.21 552.8,618.19 553.4,618.19 553.4,621.21 554,621.21 554,619.41 554.6,619.41 554.6,614.51 555.2,614.51 555.2,613.63 555.75,613.63 555.75,616.39 556.3,616.39 556.3,619.78 556.75,619.78 556.75,616.34 557.2,616.34 557.2,614.65 557.65,614.65 557.65,614 558.1,614 558.1,613.05 558.7,613.05 558.7,621.82 559.3,621.82 559.3,625.69 559.9,625.69 559.9,633.36 560.5,633.36 560.5,641.31 561.1,641.31 561.1,648.7" fill="none" stroke="#000" stroke-width="0.95" stroke-linejoin="miter"/>
<polyline points="561.1,736.5 561.1,648.7 561.65,648.7 561.65,645.87 562.2,645.87 562.2,646.99 562.8,646.99 562.8,655.71 563.4,655.71 563.4,661.97 564,661.97 564,669.98 564.6,669.98 564.6,677.12 565.2,677.12 565.2,678.91 565.8,678.91 565.8,682.45 566.4,682.45 566.4,688.58 567,688.58 567,693.39 567.57,693.39 567.57,698.21 568.13,698.21 568.13,702.33 568.7,702.33 568.7,704.85 569.3,704.85 569.3,702.61 569.9,702.61 569.9,701.94 570.5,701.94 570.5,710.61 571.1,710.61 571.1,719.79 571.58,719.79 571.58,721.01 572.06,721.01 572.06,721.96 572.54,721.96 572.54,723.63 573.02,723.63 573.02,725.05 573.5,725.05 573.5,726.86 573.96,726.86 573.96,727.56 574.42,727.56 574.42,727.86 574.88,727.86 574.88,728.55 575.34,728.55 575.34,729.47 575.8,729.47 575.8,729.85 576.31,729.85 576.31,730.65 576.83,730.65 576.83,731.03 577.34,731.03 577.34,731.82 577.86,731.82 577.86,732.7 578.37,732.7 578.37,733.06 578.89,733.06 578.89,733.66 579.4,733.66 579.4,734.2 579.9,734.2 579.9,734.42 580.4,734.42 580.4,734.69 580.9,734.69 580.9,734.37 581.4,734.37 581.4,734.48 581.9,734.48 581.9,734.84 582.4,734.84 582.4,734.87 582.9,734.87 582.9,734.98 583.4,734.98 583.4,735.07 583.9,735.07 583.9,734.91 584.4,734.91 584.4,735.18 584.9,735.18 584.9,734.98 585.4,734.98 585.4,735.19 585.9,735.19 585.9,735.25 586.4,735.25 586.4,735.4" fill="none" stroke="#e82222" stroke-width="0.8"/>
<path d="M521.5 582.5H675.5V736.5" fill="none" stroke="#666" stroke-width="1"/>
<path d="M521.5 582.5V736.5H675.5" fill="none" stroke="#505050" stroke-width="1"/>
<path d="M517.1 736.5H521.5M518.2 726.77H521.5M518.2 717.05H521.5M518.2 707.32H521.5M518.2 697.6H521.5M517.1 687.87H521.5M518.2 678.14H521.5M518.2 668.42H521.5M518.2 658.69H521.5M518.2 648.97H521.5M517.1 639.24H521.5M518.2 629.51H521.5M518.2 619.79H521.5M518.2 610.06H521.5M518.2 600.34H521.5M517.1 590.61H521.5M521.5 736.5V739.1M528.83 736.5V739.1M534.03 736.5V739.1M538.07 736.5V739.1M541.36 736.5V739.1M544.15 736.5V739.1M546.57 736.5V739.1M548.7 736.5V739.1M550.6 736.5V740.7M563.13 736.5V739.1M570.46 736.5V739.1M575.67 736.5V739.1M579.7 736.5V739.1M583 736.5V739.1M585.78 736.5V739.1M588.2 736.5V739.1M590.33 736.5V739.1M592.23 736.5V740.7M604.77 736.5V739.1M612.1 736.5V739.1M617.3 736.5V739.1M621.33 736.5V739.1M624.63 736.5V739.1M627.42 736.5V739.1M629.83 736.5V739.1M631.96 736.5V739.1M633.87 736.5V740.7M646.4 736.5V739.1M653.73 736.5V739.1M658.93 736.5V739.1M662.97 736.5V739.1M666.26 736.5V739.1M669.05 736.5V739.1M671.47 736.5V739.1M673.59 736.5V739.1M675.5 736.5V740.7" stroke="#2a2a2a" stroke-width="0.95" fill="none"/>
<text transform="translate(513.2 736.5) rotate(-90) scale(1 1.16)" font-size="8" font-weight="normal" fill="#1a1a1a" stroke="#1a1a1a" stroke-width="0.18" text-anchor="middle">0</text>
<text transform="translate(513.2 687.87) rotate(-90) scale(1 1.16)" font-size="8" font-weight="normal" fill="#1a1a1a" stroke="#1a1a1a" stroke-width="0.18" text-anchor="middle">100</text>
<text transform="translate(513.2 639.24) rotate(-90) scale(1 1.16)" font-size="8" font-weight="normal" fill="#1a1a1a" stroke="#1a1a1a" stroke-width="0.18" text-anchor="middle">200</text>
<text transform="translate(513.2 590.61) rotate(-90) scale(1 1.16)" font-size="8" font-weight="normal" fill="#1a1a1a" stroke="#1a1a1a" stroke-width="0.18" text-anchor="middle">300</text>
<text transform="translate(503.1 659) rotate(-90) scale(1 1.16)" font-size="8" font-weight="normal" fill="#1a1a1a" stroke="#1a1a1a" stroke-width="0.18" text-anchor="middle">Count</text>
<text transform="translate(549.4 750.2) scale(1 1.16)" font-size="8" font-weight="normal" fill="#1a1a1a" stroke="#1a1a1a" stroke-width="0.18" text-anchor="middle">10</text>
<text transform="translate(553.5 746.7) scale(1 1.1)" font-size="6" font-weight="normal" fill="#1a1a1a" stroke="#1a1a1a" stroke-width="0.18" text-anchor="start">4</text>
<text transform="translate(591.03 750.2) scale(1 1.16)" font-size="8" font-weight="normal" fill="#1a1a1a" stroke="#1a1a1a" stroke-width="0.18" text-anchor="middle">10</text>
<text transform="translate(595.13 746.7) scale(1 1.1)" font-size="6" font-weight="normal" fill="#1a1a1a" stroke="#1a1a1a" stroke-width="0.18" text-anchor="start">5</text>
<text transform="translate(632.67 750.2) scale(1 1.16)" font-size="8" font-weight="normal" fill="#1a1a1a" stroke="#1a1a1a" stroke-width="0.18" text-anchor="middle">10</text>
<text transform="translate(636.77 746.7) scale(1 1.1)" font-size="6" font-weight="normal" fill="#1a1a1a" stroke="#1a1a1a" stroke-width="0.18" text-anchor="start">6</text>
<text transform="translate(674.3 750.2) scale(1 1.16)" font-size="8" font-weight="normal" fill="#1a1a1a" stroke="#1a1a1a" stroke-width="0.18" text-anchor="middle">10</text>
<text transform="translate(678.4 746.7) scale(1 1.1)" font-size="6" font-weight="normal" fill="#1a1a1a" stroke="#1a1a1a" stroke-width="0.18" text-anchor="start">7</text>
<text transform="translate(593.5 579.1) scale(1 1.16)" font-size="8" font-weight="normal" fill="#1a1a1a" stroke="#1a1a1a" stroke-width="0.18" text-anchor="middle">PRX 1 : All Events</text>
<path d="M561.1 673.1H675.5" stroke="#e42a30" stroke-width="1" fill="none"/>
<path d="M561.4 668.9V677.9" stroke="#e42a30" stroke-width="1" fill="none"/>
<text transform="translate(569.9 666) scale(1 1.18)" font-size="8" font-weight="normal" fill="#e42a30" stroke="#e42a30" stroke-width="0.18" text-anchor="start">P1(19.66%)</text>
<text transform="translate(585.3 615.9) scale(1 1.08)" font-size="23.4" font-weight="bold" fill="#000">19.66%</text>
<polygon points="138.5,920.5 138.5,818.7 140,818.7 140,869.5 139.5,869.5 140.1,869.5 140.1,865.41 140.7,865.41 140.7,862.44 141.3,862.44 141.3,856.49 141.9,856.49 141.9,852.64 142.5,852.64 142.5,855.27 143.1,855.27 143.1,859.28 143.7,859.28 143.7,856.6 144.3,856.6 144.3,848.83 144.85,848.83 144.85,850.97 145.4,850.97 145.4,856.35 146,856.35 146,845.54 146.6,845.54 146.6,834.75 147.2,834.75 147.2,831.91 147.8,831.91 147.8,826.14 148.4,826.14 148.4,824.93 149,824.93 149,825.97 149.45,825.97 149.45,817.37 149.9,817.37 149.9,807.9 150.37,807.9 150.37,812.43 150.83,812.43 150.83,811.42 151.3,811.42 151.3,815.05 151.9,815.05 151.9,805.82 152.5,805.82 152.5,808.91 153.1,808.91 153.1,805.85 153.7,805.85 153.7,808.41 154.1,808.41 154.1,802.04 154.5,802.04 154.5,796.98 155,796.98 155,794.45 155.5,794.45 155.5,801.77 156.05,801.77 156.05,808.61 156.6,808.61 156.6,807.25 157.2,807.25 157.2,805.99 157.8,805.99 157.8,812.85 158.4,812.85 158.4,814.01 159,814.01 159,818.6 159.6,818.6 159.6,816.54 160.2,816.54 160.2,808.11 160.8,808.11 160.8,814.12 161.4,814.12 161.4,819.25 161.95,819.25 161.95,824.8 162.5,824.8 162.5,820.51 163.1,820.51 163.1,828.04 163.7,828.04 163.7,827.49 164.3,827.49 164.3,837.14 164.9,837.14 164.9,844.68 165.5,844.68 165.5,852.77 166.1,852.77 166.1,863.84 166.7,863.84 166.7,859.05 167.3,859.05 167.3,859.42 167.9,859.42 167.9,861.73 168.5,861.73 168.5,868.14 169.05,868.14 169.05,872.6 169.6,872.6 169.6,879 170.07,879 170.07,878.03 170.53,878.03 170.53,880.17 171,880.17 171,884.8 171,920.5" fill="#808080"/>
<polygon points="171,920.5 171,884.8 171.5,884.8 171.5,886.23 172,886.23 172,882.41 172.6,882.41 172.6,887.03 173.2,887.03 173.2,892.28 173.77,892.28 173.77,893.5 174.33,893.5 174.33,890.61 174.9,890.61 174.9,889.36 175.5,889.36 175.5,897.45 176.1,897.45 176.1,903.96 176.55,903.96 176.55,903.64 177,903.64 177,904.21 177.45,904.21 177.45,904.45 177.9,904.45 177.9,906.25 178.35,906.25 178.35,908.43 178.8,908.43 178.8,908.47 179.25,908.47 179.25,909.86 179.7,909.86 179.7,910.22 180.27,910.22 180.27,911.27 180.83,911.27 180.83,912.72 181.4,912.72 181.4,913.72 181.85,913.72 181.85,912.18 182.3,912.18 182.3,912.54 182.75,912.54 182.75,911.34 183.2,911.34 183.2,912.43 183.8,912.43 183.8,914.01 184.4,914.01 184.4,916.86 184.9,916.86 184.9,916.65 185.4,916.65 185.4,917.54 185.9,917.54 185.9,917.52 186.4,917.52 186.4,918.12 186.9,918.12 186.9,918.31 187.4,918.31 187.4,918.51 187.9,918.51 187.9,919.33 188.41,919.33 188.41,919.34 188.93,919.34 188.93,919.15 189.44,919.15 189.44,919.74 189.96,919.74 189.96,919.78 190.47,919.78 190.47,919.36 190.99,919.36 190.99,919.96 191.5,919.96 191.5,919.88 191.99,919.88 191.99,920.12 192.48,920.12 192.48,919.89 192.97,919.89 192.97,920.2 193.47,920.2 193.47,920.21 193.96,920.21 193.96,920.11 194.45,920.11 194.45,920.47 194.94,920.47 194.94,920.44 195.43,920.44 195.43,920.5 195.93,920.5 195.93,920.5 196.42,920.5 196.42,920.5 196.91,920.5 196.91,920.5 197.4,920.5 197.4,920.8 197.4,920.5" fill="#be4040"/>
<path d="M139.5 920.5V818.7" stroke="#000" stroke-width="1" fill="none"/>
<polyline points="140,869.5 139.5,869.5 140.1,869.5 140.1,865.41 140.7,865.41 140.7,862.44 141.3,862.44 141.3,856.49 141.9,856.49 141.9,852.64 142.5,852.64 142.5,855.27 143.1,855.27 143.1,859.28 143.7,859.28 143.7,856.6 144.3,856.6 144.3,848.83 144.85,848.83 144.85,850.97 145.4,850.97 145.4,856.35 146,856.35 146,845.54 146.6,845.54 146.6,834.75 147.2,834.75 147.2,831.91 147.8,831.91 147.8,826.14 148.4,826.14 148.4,824.93 149,824.93 149,825.97 149.45,825.97 149.45,817.37 149.9,817.37 149.9,807.9 150.37,807.9 150.37,812.43 150.83,812.43 150.83,811.42 151.3,811.42 151.3,815.05 151.9,815.05 151.9,805.82 152.5,805.82 152.5,808.91 153.1,808.91 153.1,805.85 153.7,805.85 153.7,808.41 154.1,808.41 154.1,802.04 154.5,802.04 154.5,796.98 155,796.98 155,794.45 155.5,794.45 155.5,801.77 156.05,801.77 156.05,808.61 156.6,808.61 156.6,807.25 157.2,807.25 157.2,805.99 157.8,805.99 157.8,812.85 158.4,812.85 158.4,814.01 159,814.01 159,818.6 159.6,818.6 159.6,816.54 160.2,816.54 160.2,808.11 160.8,808.11 160.8,814.12 161.4,814.12 161.4,819.25 161.95,819.25 161.95,824.8 162.5,824.8 162.5,820.51 163.1,820.51 163.1,828.04 163.7,828.04 163.7,827.49 164.3,827.49 164.3,837.14 164.9,837.14 164.9,844.68 165.5,844.68 165.5,852.77 166.1,852.77 166.1,863.84 166.7,863.84 166.7,859.05 167.3,859.05 167.3,859.42 167.9,859.42 167.9,861.73 168.5,861.73 168.5,868.14 169.05,868.14 169.05,872.6 169.6,872.6 169.6,879 170.07,879 170.07,878.03 170.53,878.03 170.53,880.17 171,880.17 171,884.8" fill="none" stroke="#000" stroke-width="0.95" stroke-linejoin="miter"/>
<polyline points="171,920.5 171,884.8 171.5,884.8 171.5,886.23 172,886.23 172,882.41 172.6,882.41 172.6,887.03 173.2,887.03 173.2,892.28 173.77,892.28 173.77,893.5 174.33,893.5 174.33,890.61 174.9,890.61 174.9,889.36 175.5,889.36 175.5,897.45 176.1,897.45 176.1,903.96 176.55,903.96 176.55,903.64 177,903.64 177,904.21 177.45,904.21 177.45,904.45 177.9,904.45 177.9,906.25 178.35,906.25 178.35,908.43 178.8,908.43 178.8,908.47 179.25,908.47 179.25,909.86 179.7,909.86 179.7,910.22 180.27,910.22 180.27,911.27 180.83,911.27 180.83,912.72 181.4,912.72 181.4,913.72 181.85,913.72 181.85,912.18 182.3,912.18 182.3,912.54 182.75,912.54 182.75,911.34 183.2,911.34 183.2,912.43 183.8,912.43 183.8,914.01 184.4,914.01 184.4,916.86 184.9,916.86 184.9,916.65 185.4,916.65 185.4,917.54 185.9,917.54 185.9,917.52 186.4,917.52 186.4,918.12 186.9,918.12 186.9,918.31 187.4,918.31 187.4,918.51 187.9,918.51 187.9,919.33 188.41,919.33 188.41,919.34 188.93,919.34 188.93,919.15 189.44,919.15 189.44,919.74 189.96,919.74 189.96,919.78 190.47,919.78 190.47,919.36 190.99,919.36 190.99,919.96 191.5,919.96 191.5,919.88 191.99,919.88 191.99,920.12 192.48,920.12 192.48,919.89 192.97,919.89 192.97,920.2 193.47,920.2 193.47,920.21 193.96,920.21 193.96,920.11 194.45,920.11 194.45,920.47 194.94,920.47 194.94,920.44 195.43,920.44 195.43,920.5 195.93,920.5 195.93,920.5 196.42,920.5 196.42,920.5 196.91,920.5 196.91,920.5 197.4,920.5 197.4,920.8" fill="none" stroke="#e82222" stroke-width="0.8"/>
<path d="M138.5 766.5H292.5V920.5" fill="none" stroke="#666" stroke-width="1"/>
<path d="M138.5 766.5V920.5H292.5" fill="none" stroke="#505050" stroke-width="1"/>
<path d="M134.1 920.8H138.5M135.2 906.04H138.5M135.2 891.28H138.5M135.2 876.52H138.5M135.2 861.76H138.5M134.1 847H138.5M135.2 832.24H138.5M135.2 817.48H138.5M135.2 802.72H138.5M135.2 787.96H138.5M134.1 773.2H138.5M138.5 920.5V924.7M150.09 920.5V923.1M156.87 920.5V923.1M161.68 920.5V923.1M165.41 920.5V923.1M168.46 920.5V923.1M171.04 920.5V923.1M173.27 920.5V923.1M175.24 920.5V923.1M177 920.5V924.7M188.59 920.5V923.1M195.37 920.5V923.1M200.18 920.5V923.1M203.91 920.5V923.1M206.96 920.5V923.1M209.54 920.5V923.1M211.77 920.5V923.1M213.74 920.5V923.1M215.5 920.5V924.7M227.09 920.5V923.1M233.87 920.5V923.1M238.68 920.5V923.1M242.41 920.5V923.1M245.46 920.5V923.1M248.04 920.5V923.1M250.27 920.5V923.1M252.24 920.5V923.1M254 920.5V924.7M265.59 920.5V923.1M272.37 920.5V923.1M277.18 920.5V923.1M280.91 920.5V923.1M283.96 920.5V923.1M286.54 920.5V923.1M288.77 920.5V923.1M290.74 920.5V923.1M292.5 920.5V924.7" stroke="#2a2a2a" stroke-width="0.95" fill="none"/>
<text transform="translate(130.2 920.8) rotate(-90) scale(1 1.16)" font-size="8" font-weight="normal" fill="#1a1a1a" stroke="#1a1a1a" stroke-width="0.18" text-anchor="middle">0</text>
<text transform="translate(130.2 847) rotate(-90) scale(1 1.16)" font-size="8" font-weight="normal" fill="#1a1a1a" stroke="#1a1a1a" stroke-width="0.18" text-anchor="middle">100</text>
<text transform="translate(130.2 773.2) rotate(-90) scale(1 1.16)" font-size="8" font-weight="normal" fill="#1a1a1a" stroke="#1a1a1a" stroke-width="0.18" text-anchor="middle">200</text>
<text transform="translate(120.1 843) rotate(-90) scale(1 1.16)" font-size="8" font-weight="normal" fill="#1a1a1a" stroke="#1a1a1a" stroke-width="0.18" text-anchor="middle">Count</text>
<text transform="translate(137.3 934.2) scale(1 1.16)" font-size="8" font-weight="normal" fill="#1a1a1a" stroke="#1a1a1a" stroke-width="0.18" text-anchor="middle">10</text>
<text transform="translate(141.4 930.7) scale(1 1.1)" font-size="6" font-weight="normal" fill="#1a1a1a" stroke="#1a1a1a" stroke-width="0.18" text-anchor="start">3</text>
<text transform="translate(175.8 934.2) scale(1 1.16)" font-size="8" font-weight="normal" fill="#1a1a1a" stroke="#1a1a1a" stroke-width="0.18" text-anchor="middle">10</text>
<text transform="translate(179.9 930.7) scale(1 1.1)" font-size="6" font-weight="normal" fill="#1a1a1a" stroke="#1a1a1a" stroke-width="0.18" text-anchor="start">4</text>
<text transform="translate(214.3 934.2) scale(1 1.16)" font-size="8" font-weight="normal" fill="#1a1a1a" stroke="#1a1a1a" stroke-width="0.18" text-anchor="middle">10</text>
<text transform="translate(218.4 930.7) scale(1 1.1)" font-size="6" font-weight="normal" fill="#1a1a1a" stroke="#1a1a1a" stroke-width="0.18" text-anchor="start">5</text>
<text transform="translate(252.8 934.2) scale(1 1.16)" font-size="8" font-weight="normal" fill="#1a1a1a" stroke="#1a1a1a" stroke-width="0.18" text-anchor="middle">10</text>
<text transform="translate(256.9 930.7) scale(1 1.1)" font-size="6" font-weight="normal" fill="#1a1a1a" stroke="#1a1a1a" stroke-width="0.18" text-anchor="start">6</text>
<text transform="translate(291.3 934.2) scale(1 1.16)" font-size="8" font-weight="normal" fill="#1a1a1a" stroke="#1a1a1a" stroke-width="0.18" text-anchor="middle">10</text>
<text transform="translate(295.4 930.7) scale(1 1.1)" font-size="6" font-weight="normal" fill="#1a1a1a" stroke="#1a1a1a" stroke-width="0.18" text-anchor="start">7</text>
<text transform="translate(210.5 763.1) scale(1 1.16)" font-size="8" font-weight="normal" fill="#1a1a1a" stroke="#1a1a1a" stroke-width="0.18" text-anchor="middle">PRX 5 : All Events</text>
<path d="M171.2 860.6H292.5" stroke="#e42a30" stroke-width="1" fill="none"/>
<path d="M171.5 856.4V865.4" stroke="#e42a30" stroke-width="1" fill="none"/>
<text transform="translate(171.8 852.2) scale(1 1.18)" font-size="8" font-weight="normal" fill="#e42a30" stroke="#e42a30" stroke-width="0.18" text-anchor="start">P1(4.92%)</text>
<text transform="translate(217.3 798) scale(1 1.08)" font-size="23.4" font-weight="bold" fill="#000">4.92%</text>
<polygon points="330.5,919.5 330.5,829.9 332,829.9 332,887.2 331.1,887.2 331.7,887.2 331.7,886.02 332.3,886.02 332.3,877.72 332.75,877.72 332.75,879.07 333.2,879.07 333.2,880.07 333.65,880.07 333.65,879.1 334.1,879.1 334.1,875.92 334.67,875.92 334.67,872.79 335.23,872.79 335.23,868.26 335.8,868.26 335.8,868.03 336.25,868.03 336.25,862.79 336.7,862.79 336.7,864.14 337.15,864.14 337.15,856.52 337.6,856.52 337.6,858.3 338.2,858.3 338.2,852.27 338.8,852.27 338.8,847.07 339.25,847.07 339.25,847.85 339.7,847.85 339.7,838.17 340.15,838.17 340.15,837.73 340.6,837.73 340.6,834.81 341.17,834.81 341.17,830.09 341.73,830.09 341.73,816.89 342.3,816.89 342.3,806.55 342.9,806.55 342.9,808.96 343.5,808.96 343.5,805.09 344.1,805.09 344.1,798.97 344.7,798.97 344.7,797.02 345.3,797.02 345.3,793.26 345.9,793.26 345.9,793.42 346.5,793.42 346.5,798.33 347.1,798.33 347.1,796.99 347.67,796.99 347.67,791.26 348.23,791.26 348.23,794.01 348.8,794.01 348.8,795.6 349.4,795.6 349.4,788.97 350,788.97 350,799.36 350.6,799.36 350.6,795.35 351.2,795.35 351.2,795.53 351.8,795.53 351.8,798.25 352.4,798.25 352.4,810.8 352.95,810.8 352.95,808.26 353.5,808.26 353.5,808.41 354.1,808.41 354.1,814.94 354.7,814.94 354.7,828.68 355.3,828.68 355.3,829.75 355.9,829.75 355.9,833.08 356.3,833.08 356.3,836 356.3,919.5" fill="#808080"/>
<polygon points="356.3,919.5 356.3,836 356.5,836 356.5,825.17 356.97,825.17 356.97,825.18 357.43,825.18 357.43,834.25 357.9,834.25 357.9,840.62 358.5,840.62 358.5,847.66 359.1,847.66 359.1,854.47 359.6,854.47 359.6,862.36 360.1,862.36 360.1,866.19 360.6,866.19 360.6,874.3 361.2,874.3 361.2,879.14 361.8,879.14 361.8,880.24 362.4,880.24 362.4,886.33 363,886.33 363,890.98 363.6,890.98 363.6,892.35 364.2,892.35 364.2,899.14 364.77,899.14 364.77,898.46 365.33,898.46 365.33,901.45 365.9,901.45 365.9,901.45 366.38,901.45 366.38,904.89 366.86,904.89 366.86,907.11 367.34,907.11 367.34,907.81 367.82,907.81 367.82,909.2 368.3,909.2 368.3,911.38 368.8,911.38 368.8,911.78 369.3,911.78 369.3,911.36 369.8,911.36 369.8,913.1 370.3,913.1 370.3,913.76 370.8,913.76 370.8,915.11 371.3,915.11 371.3,914.85 371.8,914.85 371.8,915.95 372.28,915.95 372.28,916.79 372.76,916.79 372.76,916.84 373.24,916.84 373.24,917.12 373.72,917.12 373.72,916.34 374.2,916.34 374.2,917.77 374.68,917.77 374.68,917.86 375.16,917.86 375.16,917.65 375.64,917.65 375.64,917.88 376.12,917.88 376.12,917.83 376.6,917.83 376.6,918.48 377.09,918.48 377.09,918.52 377.58,918.52 377.58,918.55 378.08,918.55 378.08,918.29 378.57,918.29 378.57,918.84 379.06,918.84 379.06,918.59 379.55,918.59 379.55,918.83 380.04,918.83 380.04,918.47 380.53,918.47 380.53,919.04 381.02,919.04 381.02,918.68 381.52,918.68 381.52,918.98 382.01,918.98 382.01,918.82 382.5,918.82 382.5,919 382.5,919.5" fill="#be4040"/>
<path d="M331.5 919.5V829.9" stroke="#000" stroke-width="1" fill="none"/>
<polyline points="332,887.2 331.1,887.2 331.7,887.2 331.7,886.02 332.3,886.02 332.3,877.72 332.75,877.72 332.75,879.07 333.2,879.07 333.2,880.07 333.65,880.07 333.65,879.1 334.1,879.1 334.1,875.92 334.67,875.92 334.67,872.79 335.23,872.79 335.23,868.26 335.8,868.26 335.8,868.03 336.25,868.03 336.25,862.79 336.7,862.79 336.7,864.14 337.15,864.14 337.15,856.52 337.6,856.52 337.6,858.3 338.2,858.3 338.2,852.27 338.8,852.27 338.8,847.07 339.25,847.07 339.25,847.85 339.7,847.85 339.7,838.17 340.15,838.17 340.15,837.73 340.6,837.73 340.6,834.81 341.17,834.81 341.17,830.09 341.73,830.09 341.73,816.89 342.3,816.89 342.3,806.55 342.9,806.55 342.9,808.96 343.5,808.96 343.5,805.09 344.1,805.09 344.1,798.97 344.7,798.97 344.7,797.02 345.3,797.02 345.3,793.26 345.9,793.26 345.9,793.42 346.5,793.42 346.5,798.33 347.1,798.33 347.1,796.99 347.67,796.99 347.67,791.26 348.23,791.26 348.23,794.01 348.8,794.01 348.8,795.6 349.4,795.6 349.4,788.97 350,788.97 350,799.36 350.6,799.36 350.6,795.35 351.2,795.35 351.2,795.53 351.8,795.53 351.8,798.25 352.4,798.25 352.4,810.8 352.95,810.8 352.95,808.26 353.5,808.26 353.5,808.41 354.1,808.41 354.1,814.94 354.7,814.94 354.7,828.68 355.3,828.68 355.3,829.75 355.9,829.75 355.9,833.08 356.3,833.08 356.3,836" fill="none" stroke="#000" stroke-width="0.95" stroke-linejoin="miter"/>
<polyline points="356.3,919.5 356.3,836 356.5,836 356.5,825.17 356.97,825.17 356.97,825.18 357.43,825.18 357.43,834.25 357.9,834.25 357.9,840.62 358.5,840.62 358.5,847.66 359.1,847.66 359.1,854.47 359.6,854.47 359.6,862.36 360.1,862.36 360.1,866.19 360.6,866.19 360.6,874.3 361.2,874.3 361.2,879.14 361.8,879.14 361.8,880.24 362.4,880.24 362.4,886.33 363,886.33 363,890.98 363.6,890.98 363.6,892.35 364.2,892.35 364.2,899.14 364.77,899.14 364.77,898.46 365.33,898.46 365.33,901.45 365.9,901.45 365.9,901.45 366.38,901.45 366.38,904.89 366.86,904.89 366.86,907.11 367.34,907.11 367.34,907.81 367.82,907.81 367.82,909.2 368.3,909.2 368.3,911.38 368.8,911.38 368.8,911.78 369.3,911.78 369.3,911.36 369.8,911.36 369.8,913.1 370.3,913.1 370.3,913.76 370.8,913.76 370.8,915.11 371.3,915.11 371.3,914.85 371.8,914.85 371.8,915.95 372.28,915.95 372.28,916.79 372.76,916.79 372.76,916.84 373.24,916.84 373.24,917.12 373.72,917.12 373.72,916.34 374.2,916.34 374.2,917.77 374.68,917.77 374.68,917.86 375.16,917.86 375.16,917.65 375.64,917.65 375.64,917.88 376.12,917.88 376.12,917.83 376.6,917.83 376.6,918.48 377.09,918.48 377.09,918.52 377.58,918.52 377.58,918.55 378.08,918.55 378.08,918.29 378.57,918.29 378.57,918.84 379.06,918.84 379.06,918.59 379.55,918.59 379.55,918.83 380.04,918.83 380.04,918.47 380.53,918.47 380.53,919.04 381.02,919.04 381.02,918.68 381.52,918.68 381.52,918.98 382.01,918.98 382.01,918.82 382.5,918.82 382.5,919" fill="none" stroke="#e82222" stroke-width="0.8"/>
<path d="M330.5 765.5H484.5V919.5" fill="none" stroke="#666" stroke-width="1"/>
<path d="M330.5 765.5V919.5H484.5" fill="none" stroke="#505050" stroke-width="1"/>
<path d="M326.1 919.6H330.5M327.2 907.71H330.5M327.2 895.82H330.5M327.2 883.93H330.5M327.2 872.04H330.5M326.1 860.15H330.5M327.2 848.26H330.5M327.2 836.37H330.5M327.2 824.48H330.5M327.2 812.59H330.5M326.1 800.7H330.5M327.2 788.81H330.5M327.2 776.92H330.5M330.5 919.5V923.7M342.09 919.5V922.1M348.87 919.5V922.1M353.68 919.5V922.1M357.41 919.5V922.1M360.46 919.5V922.1M363.04 919.5V922.1M365.27 919.5V922.1M367.24 919.5V922.1M369 919.5V923.7M380.59 919.5V922.1M387.37 919.5V922.1M392.18 919.5V922.1M395.91 919.5V922.1M398.96 919.5V922.1M401.54 919.5V922.1M403.77 919.5V922.1M405.74 919.5V922.1M407.5 919.5V923.7M419.09 919.5V922.1M425.87 919.5V922.1M430.68 919.5V922.1M434.41 919.5V922.1M437.46 919.5V922.1M440.04 919.5V922.1M442.27 919.5V922.1M444.24 919.5V922.1M446 919.5V923.7M457.59 919.5V922.1M464.37 919.5V922.1M469.18 919.5V922.1M472.91 919.5V922.1M475.96 919.5V922.1M478.54 919.5V922.1M480.77 919.5V922.1M482.74 919.5V922.1M484.5 919.5V923.7" stroke="#2a2a2a" stroke-width="0.95" fill="none"/>
<text transform="translate(322.2 919.6) rotate(-90) scale(1 1.16)" font-size="8" font-weight="normal" fill="#1a1a1a" stroke="#1a1a1a" stroke-width="0.18" text-anchor="middle">0</text>
<text transform="translate(322.2 860.15) rotate(-90) scale(1 1.16)" font-size="8" font-weight="normal" fill="#1a1a1a" stroke="#1a1a1a" stroke-width="0.18" text-anchor="middle">100</text>
<text transform="translate(322.2 800.7) rotate(-90) scale(1 1.16)" font-size="8" font-weight="normal" fill="#1a1a1a" stroke="#1a1a1a" stroke-width="0.18" text-anchor="middle">200</text>
<text transform="translate(312.1 842) rotate(-90) scale(1 1.16)" font-size="8" font-weight="normal" fill="#1a1a1a" stroke="#1a1a1a" stroke-width="0.18" text-anchor="middle">Count</text>
<text transform="translate(329.3 933.2) scale(1 1.16)" font-size="8" font-weight="normal" fill="#1a1a1a" stroke="#1a1a1a" stroke-width="0.18" text-anchor="middle">10</text>
<text transform="translate(333.4 929.7) scale(1 1.1)" font-size="6" font-weight="normal" fill="#1a1a1a" stroke="#1a1a1a" stroke-width="0.18" text-anchor="start">3</text>
<text transform="translate(367.8 933.2) scale(1 1.16)" font-size="8" font-weight="normal" fill="#1a1a1a" stroke="#1a1a1a" stroke-width="0.18" text-anchor="middle">10</text>
<text transform="translate(371.9 929.7) scale(1 1.1)" font-size="6" font-weight="normal" fill="#1a1a1a" stroke="#1a1a1a" stroke-width="0.18" text-anchor="start">4</text>
<text transform="translate(406.3 933.2) scale(1 1.16)" font-size="8" font-weight="normal" fill="#1a1a1a" stroke="#1a1a1a" stroke-width="0.18" text-anchor="middle">10</text>
<text transform="translate(410.4 929.7) scale(1 1.1)" font-size="6" font-weight="normal" fill="#1a1a1a" stroke="#1a1a1a" stroke-width="0.18" text-anchor="start">5</text>
<text transform="translate(444.8 933.2) scale(1 1.16)" font-size="8" font-weight="normal" fill="#1a1a1a" stroke="#1a1a1a" stroke-width="0.18" text-anchor="middle">10</text>
<text transform="translate(448.9 929.7) scale(1 1.1)" font-size="6" font-weight="normal" fill="#1a1a1a" stroke="#1a1a1a" stroke-width="0.18" text-anchor="start">6</text>
<text transform="translate(483.3 933.2) scale(1 1.16)" font-size="8" font-weight="normal" fill="#1a1a1a" stroke="#1a1a1a" stroke-width="0.18" text-anchor="middle">10</text>
<text transform="translate(487.4 929.7) scale(1 1.1)" font-size="6" font-weight="normal" fill="#1a1a1a" stroke="#1a1a1a" stroke-width="0.18" text-anchor="start">7</text>
<text transform="translate(402.5 762.1) scale(1 1.16)" font-size="8" font-weight="normal" fill="#1a1a1a" stroke="#1a1a1a" stroke-width="0.18" text-anchor="middle">PRX 5 : All Events</text>
<path d="M356.3 854.1H484.5" stroke="#e42a30" stroke-width="1" fill="none"/>
<path d="M356.6 849.9V858.9" stroke="#e42a30" stroke-width="1" fill="none"/>
<text transform="translate(359.8 847.8) scale(1 1.18)" font-size="8" font-weight="normal" fill="#e42a30" stroke="#e42a30" stroke-width="0.18" text-anchor="start">P2(13.82%)</text>
<text transform="translate(399.1 797.6) scale(1 1.08)" font-size="23.4" font-weight="bold" fill="#000">13.82%</text>
<polygon points="523.5,918.5 523.5,844.7 525,844.7 525,916 524.7,916 525.21,916 525.21,915.36 525.73,915.36 525.73,914.93 526.24,914.93 526.24,914.51 526.76,914.51 526.76,914.54 527.27,914.54 527.27,913.55 527.79,913.55 527.79,913.95 528.3,913.95 528.3,913.56 528.8,913.56 528.8,912.6 529.3,912.6 529.3,911.52 529.8,911.52 529.8,911.34 530.3,911.34 530.3,910.34 530.8,910.34 530.8,910.02 531.3,910.02 531.3,909.66 531.8,909.66 531.8,908.22 532.3,908.22 532.3,907.47 532.8,907.47 532.8,906.31 533.3,906.31 533.3,904.59 533.8,904.59 533.8,903.31 534.3,903.31 534.3,902.88 534.8,902.88 534.8,901.2 535.3,901.2 535.3,900.15 535.78,900.15 535.78,898.53 536.26,898.53 536.26,898.18 536.74,898.18 536.74,896.72 537.22,896.72 537.22,893.71 537.7,893.71 537.7,892.76 538.18,892.76 538.18,891.37 538.66,891.37 538.66,889.85 539.14,889.85 539.14,890.13 539.62,890.13 539.62,888.59 540.1,888.59 540.1,887.38 540.56,887.38 540.56,884.27 541.02,884.27 541.02,879.55 541.48,879.55 541.48,876.17 541.94,876.17 541.94,873.68 542.4,873.68 542.4,869.18 542.88,869.18 542.88,867.12 543.36,867.12 543.36,863.22 543.84,863.22 543.84,859.55 544.32,859.55 544.32,855.52 544.8,855.52 544.8,851.44 545.37,851.44 545.37,846.19 545.93,846.19 545.93,840.42 546.5,840.42 546.5,835.62 546.95,835.62 546.95,828.18 547.4,828.18 547.4,825.98 547.85,825.98 547.85,820.84 548.3,820.84 548.3,815.64 548.75,815.64 548.75,812.56 549.2,812.56 549.2,810.39 549.65,810.39 549.65,808.58 550.1,808.58 550.1,805.03 550.7,805.03 550.7,803.49 551.3,803.49 551.3,801.02 551.76,801.02 551.76,798.07 552.22,798.07 552.22,795.98 552.68,795.98 552.68,794.12 553.14,794.12 553.14,795.28 553.6,795.28 553.6,790.95 554.05,790.95 554.05,795.78 554.5,795.78 554.5,798.14 554.95,798.14 554.95,801.75 555.4,801.75 555.4,803.11 555.85,803.11 555.85,802.96 556.3,802.96 556.3,804.55 556.75,804.55 556.75,801.94 557.2,801.94 557.2,799.82 557.77,799.82 557.77,804.94 558.33,804.94 558.33,809.43 558.9,809.43 558.9,810.44 559.35,810.44 559.35,813.92 559.8,813.92 559.8,817.71 560.25,817.71 560.25,822.69 560.7,822.69 560.7,822.93 561.15,822.93 561.15,831 561.6,831 561.6,835.22 562.05,835.22 562.05,842.24 562.5,842.24 562.5,849.12 562.7,849.12 562.7,851.7 562.7,918.5" fill="#808080"/>
<polygon points="562.7,918.5 562.7,851.7 563.2,851.7 563.2,854.74 563.7,854.74 563.7,856.24 564.2,856.24 564.2,858.61 564.65,858.61 564.65,860.66 565.1,860.66 565.1,865.64 565.55,865.64 565.55,869.52 566,869.52 566,873.37 566.48,873.37 566.48,876.83 566.96,876.83 566.96,878.04 567.44,878.04 567.44,881.21 567.92,881.21 567.92,885.25 568.4,885.25 568.4,887.08 568.86,887.08 568.86,889.33 569.32,889.33 569.32,892.28 569.78,892.28 569.78,894.8 570.24,894.8 570.24,896.78 570.7,896.78 570.7,899.29 571.15,899.29 571.15,900.24 571.6,900.24 571.6,902.18 572.05,902.18 572.05,903.14 572.5,903.14 572.5,904.71 572.95,904.71 572.95,906.73 573.4,906.73 573.4,908.1 573.85,908.1 573.85,910.24 574.3,910.24 574.3,911.91 574.8,911.91 574.8,912.22 575.3,912.22 575.3,913.54 575.8,913.54 575.8,914.21 576.3,914.21 576.3,914.62 576.8,914.62 576.8,915.16 577.3,915.16 577.3,916.15 577.8,916.15 577.8,916.42 578.32,916.42 578.32,916.79 578.84,916.79 578.84,917.11 579.37,917.11 579.37,917.25 579.89,917.25 579.89,917.39 580.41,917.39 580.41,917.61 580.93,917.61 580.93,917.72 581.46,917.72 581.46,918.09 581.98,918.09 581.98,918.2 582.5,918.2 582.5,918.4 582.5,918.5" fill="#be4040"/>
<path d="M524.5 918.5V844.7" stroke="#000" stroke-width="1" fill="none"/>
<polyline points="525,916 524.7,916 525.21,916 525.21,915.36 525.73,915.36 525.73,914.93 526.24,914.93 526.24,914.51 526.76,914.51 526.76,914.54 527.27,914.54 527.27,913.55 527.79,913.55 527.79,913.95 528.3,913.95 528.3,913.56 528.8,913.56 528.8,912.6 529.3,912.6 529.3,911.52 529.8,911.52 529.8,911.34 530.3,911.34 530.3,910.34 530.8,910.34 530.8,910.02 531.3,910.02 531.3,909.66 531.8,909.66 531.8,908.22 532.3,908.22 532.3,907.47 532.8,907.47 532.8,906.31 533.3,906.31 533.3,904.59 533.8,904.59 533.8,903.31 534.3,903.31 534.3,902.88 534.8,902.88 534.8,901.2 535.3,901.2 535.3,900.15 535.78,900.15 535.78,898.53 536.26,898.53 536.26,898.18 536.74,898.18 536.74,896.72 537.22,896.72 537.22,893.71 537.7,893.71 537.7,892.76 538.18,892.76 538.18,891.37 538.66,891.37 538.66,889.85 539.14,889.85 539.14,890.13 539.62,890.13 539.62,888.59 540.1,888.59 540.1,887.38 540.56,887.38 540.56,884.27 541.02,884.27 541.02,879.55 541.48,879.55 541.48,876.17 541.94,876.17 541.94,873.68 542.4,873.68 542.4,869.18 542.88,869.18 542.88,867.12 543.36,867.12 543.36,863.22 543.84,863.22 543.84,859.55 544.32,859.55 544.32,855.52 544.8,855.52 544.8,851.44 545.37,851.44 545.37,846.19 545.93,846.19 545.93,840.42 546.5,840.42 546.5,835.62 546.95,835.62 546.95,828.18 547.4,828.18 547.4,825.98 547.85,825.98 547.85,820.84 548.3,820.84 548.3,815.64 548.75,815.64 548.75,812.56 549.2,812.56 549.2,810.39 549.65,810.39 549.65,808.58 550.1,808.58 550.1,805.03 550.7,805.03 550.7,803.49 551.3,803.49 551.3,801.02 551.76,801.02 551.76,798.07 552.22,798.07 552.22,795.98 552.68,795.98 552.68,794.12 553.14,794.12 553.14,795.28 553.6,795.28 553.6,790.95 554.05,790.95 554.05,795.78 554.5,795.78 554.5,798.14 554.95,798.14 554.95,801.75 555.4,801.75 555.4,803.11 555.85,803.11 555.85,802.96 556.3,802.96 556.3,804.55 556.75,804.55 556.75,801.94 557.2,801.94 557.2,799.82 557.77,799.82 557.77,804.94 558.33,804.94 558.33,809.43 558.9,809.43 558.9,810.44 559.35,810.44 559.35,813.92 559.8,813.92 559.8,817.71 560.25,817.71 560.25,822.69 560.7,822.69 560.7,822.93 561.15,822.93 561.15,831 561.6,831 561.6,835.22 562.05,835.22 562.05,842.24 562.5,842.24 562.5,849.12 562.7,849.12 562.7,851.7" fill="none" stroke="#000" stroke-width="0.95" stroke-linejoin="miter"/>
<polyline points="562.7,918.5 562.7,851.7 563.2,851.7 563.2,854.74 563.7,854.74 563.7,856.24 564.2,856.24 564.2,858.61 564.65,858.61 564.65,860.66 565.1,860.66 565.1,865.64 565.55,865.64 565.55,869.52 566,869.52 566,873.37 566.48,873.37 566.48,876.83 566.96,876.83 566.96,878.04 567.44,878.04 567.44,881.21 567.92,881.21 567.92,885.25 568.4,885.25 568.4,887.08 568.86,887.08 568.86,889.33 569.32,889.33 569.32,892.28 569.78,892.28 569.78,894.8 570.24,894.8 570.24,896.78 570.7,896.78 570.7,899.29 571.15,899.29 571.15,900.24 571.6,900.24 571.6,902.18 572.05,902.18 572.05,903.14 572.5,903.14 572.5,904.71 572.95,904.71 572.95,906.73 573.4,906.73 573.4,908.1 573.85,908.1 573.85,910.24 574.3,910.24 574.3,911.91 574.8,911.91 574.8,912.22 575.3,912.22 575.3,913.54 575.8,913.54 575.8,914.21 576.3,914.21 576.3,914.62 576.8,914.62 576.8,915.16 577.3,915.16 577.3,916.15 577.8,916.15 577.8,916.42 578.32,916.42 578.32,916.79 578.84,916.79 578.84,917.11 579.37,917.11 579.37,917.25 579.89,917.25 579.89,917.39 580.41,917.39 580.41,917.61 580.93,917.61 580.93,917.72 581.46,917.72 581.46,918.09 581.98,918.09 581.98,918.2 582.5,918.2 582.5,918.4" fill="none" stroke="#e82222" stroke-width="0.8"/>
<path d="M523.5 765.5H677.5V918.5" fill="none" stroke="#666" stroke-width="1"/>
<path d="M523.5 765.5V918.5H677.5" fill="none" stroke="#505050" stroke-width="1"/>
<path d="M519.1 918.6H523.5M520.2 909.15H523.5M520.2 899.71H523.5M520.2 890.26H523.5M520.2 880.82H523.5M519.1 871.37H523.5M520.2 861.92H523.5M520.2 852.48H523.5M520.2 843.03H523.5M520.2 833.59H523.5M519.1 824.14H523.5M520.2 814.69H523.5M520.2 805.25H523.5M520.2 795.8H523.5M520.2 786.36H523.5M519.1 776.91H523.5M520.2 767.46H523.5M523.5 918.5V921.1M530.83 918.5V921.1M536.03 918.5V921.1M540.07 918.5V921.1M543.36 918.5V921.1M546.15 918.5V921.1M548.57 918.5V921.1M550.7 918.5V921.1M552.6 918.5V922.7M565.13 918.5V921.1M572.46 918.5V921.1M577.67 918.5V921.1M581.7 918.5V921.1M585 918.5V921.1M587.78 918.5V921.1M590.2 918.5V921.1M592.33 918.5V921.1M594.23 918.5V922.7M606.77 918.5V921.1M614.1 918.5V921.1M619.3 918.5V921.1M623.33 918.5V921.1M626.63 918.5V921.1M629.42 918.5V921.1M631.83 918.5V921.1M633.96 918.5V921.1M635.87 918.5V922.7M648.4 918.5V921.1M655.73 918.5V921.1M660.93 918.5V921.1M664.97 918.5V921.1M668.26 918.5V921.1M671.05 918.5V921.1M673.47 918.5V921.1M675.59 918.5V921.1M677.5 918.5V922.7" stroke="#2a2a2a" stroke-width="0.95" fill="none"/>
<text transform="translate(515.2 918.6) rotate(-90) scale(1 1.16)" font-size="8" font-weight="normal" fill="#1a1a1a" stroke="#1a1a1a" stroke-width="0.18" text-anchor="middle">0</text>
<text transform="translate(515.2 871.37) rotate(-90) scale(1 1.16)" font-size="8" font-weight="normal" fill="#1a1a1a" stroke="#1a1a1a" stroke-width="0.18" text-anchor="middle">100</text>
<text transform="translate(515.2 824.14) rotate(-90) scale(1 1.16)" font-size="8" font-weight="normal" fill="#1a1a1a" stroke="#1a1a1a" stroke-width="0.18" text-anchor="middle">200</text>
<text transform="translate(515.2 776.91) rotate(-90) scale(1 1.16)" font-size="8" font-weight="normal" fill="#1a1a1a" stroke="#1a1a1a" stroke-width="0.18" text-anchor="middle">300</text>
<text transform="translate(505.1 841.5) rotate(-90) scale(1 1.16)" font-size="8" font-weight="normal" fill="#1a1a1a" stroke="#1a1a1a" stroke-width="0.18" text-anchor="middle">Count</text>
<text transform="translate(551.4 932.2) scale(1 1.16)" font-size="8" font-weight="normal" fill="#1a1a1a" stroke="#1a1a1a" stroke-width="0.18" text-anchor="middle">10</text>
<text transform="translate(555.5 928.7) scale(1 1.1)" font-size="6" font-weight="normal" fill="#1a1a1a" stroke="#1a1a1a" stroke-width="0.18" text-anchor="start">4</text>
<text transform="translate(593.03 932.2) scale(1 1.16)" font-size="8" font-weight="normal" fill="#1a1a1a" stroke="#1a1a1a" stroke-width="0.18" text-anchor="middle">10</text>
<text transform="translate(597.13 928.7) scale(1 1.1)" font-size="6" font-weight="normal" fill="#1a1a1a" stroke="#1a1a1a" stroke-width="0.18" text-anchor="start">5</text>
<text transform="translate(634.67 932.2) scale(1 1.16)" font-size="8" font-weight="normal" fill="#1a1a1a" stroke="#1a1a1a" stroke-width="0.18" text-anchor="middle">10</text>
<text transform="translate(638.77 928.7) scale(1 1.1)" font-size="6" font-weight="normal" fill="#1a1a1a" stroke="#1a1a1a" stroke-width="0.18" text-anchor="start">6</text>
<text transform="translate(676.3 932.2) scale(1 1.16)" font-size="8" font-weight="normal" fill="#1a1a1a" stroke="#1a1a1a" stroke-width="0.18" text-anchor="middle">10</text>
<text transform="translate(680.4 928.7) scale(1 1.1)" font-size="6" font-weight="normal" fill="#1a1a1a" stroke="#1a1a1a" stroke-width="0.18" text-anchor="start">7</text>
<text transform="translate(595.5 762.1) scale(1 1.16)" font-size="8" font-weight="normal" fill="#1a1a1a" stroke="#1a1a1a" stroke-width="0.18" text-anchor="middle">PRX 5 : All Events</text>
<path d="M562.7 855.3H677.5" stroke="#e42a30" stroke-width="1" fill="none"/>
<path d="M563 851.1V860.1" stroke="#e42a30" stroke-width="1" fill="none"/>
<text transform="translate(571.9 847.5) scale(1 1.18)" font-size="8" font-weight="normal" fill="#e42a30" stroke="#e42a30" stroke-width="0.18" text-anchor="start">P1(14.09%)</text>
<text transform="translate(583.9 797.6) scale(1 1.08)" font-size="23.4" font-weight="bold" fill="#000">14.09%</text>
<text transform="translate(215.6 944.7) scale(1 1.16)" font-size="8" font-weight="normal" fill="#1a1a1a" stroke="#1a1a1a" stroke-width="0.18" text-anchor="middle">B525-A</text>
<text transform="translate(407.1 942.7) scale(1 1.16)" font-size="8" font-weight="normal" fill="#1a1a1a" stroke="#1a1a1a" stroke-width="0.18" text-anchor="middle">B525-A</text>
<text transform="translate(600.1 942.2) scale(1 1.16)" font-size="8" font-weight="normal" fill="#1a1a1a" stroke="#1a1a1a" stroke-width="0.18" text-anchor="middle">B525-A</text>
<path d="M139.3 948.7H278V945.9L285.3 951.8L278 957.7V954.8H139.3Z" fill="#000"/>
<path d="M332.2 949.1H470.3V946.3L477.8 951.95L470.3 957.6V954.9H332.2Z" fill="#000"/>
<path d="M529.7 950H667.5V947.2L675.3 953L667.5 958.8V956H529.7Z" fill="#000"/>
<text x="207.3" y="980" font-size="17.9" font-weight="bold" fill="#000" text-anchor="middle" >CD80-FITC</text>
<text x="402.3" y="980" font-size="17.9" font-weight="bold" fill="#000" text-anchor="middle" >CD83-FITC</text>
<text x="594.9" y="979.6" font-size="17.9" font-weight="bold" fill="#000" text-anchor="middle" >CD88-FITC</text>
<text transform="translate(11.9 1046.8) scale(1 1.1)" font-size="28.6" font-weight="bold" fill="#000">B</text>
<rect x="151.6" y="1085.4" width="11.6" height="6.6" rx="1.2" fill="#000" stroke="#000" stroke-width="1.4"/>
<text x="168.9" y="1091.6" font-size="8.2" font-weight="bold" fill="#111" text-anchor="start" stroke="#111" stroke-width="0.2">control</text>
<rect x="151.6" y="1097.2" width="11.6" height="6.6" rx="1.2" fill="#f00" stroke="#000" stroke-width="1.4"/>
<text x="168.9" y="1103.4" font-size="8.2" font-weight="bold" fill="#111" text-anchor="start" stroke="#111" stroke-width="0.2">27OHChol</text>
<rect x="151.6" y="1108.9" width="11.6" height="6.6" rx="1.2" fill="#00f" stroke="#000" stroke-width="1.4"/>
<text x="168.9" y="1115.1" font-size="8.2" font-weight="bold" fill="#111" text-anchor="start" stroke="#111" stroke-width="0.2">27OHChol + PRX</text>
<text transform="translate(48.4 1209.5) scale(1 1.05)" font-size="6.9" font-weight="bold" fill="#111" stroke="#111" stroke-width="0.15" text-anchor="end">0</text>
<text transform="translate(48.4 1177.25) scale(1 1.05)" font-size="6.9" font-weight="bold" fill="#111" stroke="#111" stroke-width="0.15" text-anchor="end">10</text>
<text transform="translate(48.4 1145) scale(1 1.05)" font-size="6.9" font-weight="bold" fill="#111" stroke="#111" stroke-width="0.15" text-anchor="end">20</text>
<text transform="translate(48.4 1112.75) scale(1 1.05)" font-size="6.9" font-weight="bold" fill="#111" stroke="#111" stroke-width="0.15" text-anchor="end">30</text>
<path d="M52.4 1110.3V1207H198.3M49.4 1207H52.4M49.4 1174.75H52.4M49.4 1142.5H52.4M49.4 1110.25H52.4M66.35 1207V1209.8M95.95 1207V1209.8M124.85 1207V1209.8M153.9 1207V1209.8M183 1207V1209.8" stroke="#000" stroke-width="1.5" fill="none"/>
<text x="67" y="1219.6" font-size="8" font-weight="bold" fill="#111" text-anchor="middle" stroke="#111" stroke-width="0.2">control</text>
<text x="95.9" y="1219.6" font-size="8" font-weight="bold" fill="#111" text-anchor="middle" stroke="#111" stroke-width="0.2">0</text>
<text x="124.7" y="1219.6" font-size="8" font-weight="bold" fill="#111" text-anchor="middle" stroke="#111" stroke-width="0.2">0.2</text>
<text x="154.1" y="1219.6" font-size="8" font-weight="bold" fill="#111" text-anchor="middle" stroke="#111" stroke-width="0.2">1</text>
<text x="183.5" y="1219.6" font-size="8" font-weight="bold" fill="#111" text-anchor="middle" stroke="#111" stroke-width="0.2">5</text>
<rect x="56.4" y="1203.3" width="19.9" height="3.7" fill="#000"/>
<rect x="87" y="1130.1" width="17.9" height="76.9" fill="#f00" stroke="#000" stroke-width="1.8"/>
<path d="M96.1 1123.4V1136.5M90.9 1123.4H101.3M90.9 1136.5H101.3" stroke="#000" stroke-width="1.5" fill="none"/>
<rect x="115.9" y="1133.1" width="17.9" height="73.9" fill="#00f" stroke="#000" stroke-width="1.8"/>
<path d="M125.4 1124.8V1140.6M120.2 1124.8H130.6M120.2 1140.6H130.6" stroke="#000" stroke-width="1.5" fill="none"/>
<rect x="145" y="1141.8" width="17.8" height="65.2" fill="#00f" stroke="#000" stroke-width="1.8"/>
<path d="M154.4 1135.7V1147M149.2 1135.7H159.6M149.2 1147H159.6" stroke="#000" stroke-width="1.5" fill="none"/>
<rect x="174.3" y="1154.1" width="17.4" height="52.9" fill="#00f" stroke="#000" stroke-width="1.8"/>
<path d="M183.3 1151.4V1155.8M178.1 1151.4H188.5M178.1 1155.8H188.5" stroke="#000" stroke-width="1.5" fill="none"/>
<text x="95.4" y="1118.5" font-size="12.4" font-weight="bold" fill="#111" text-anchor="middle" stroke="#111" stroke-width="0.25">###</text>
<text x="183.4" y="1149.7" font-size="11.2" font-weight="bold" fill="#111" text-anchor="middle" >**</text>
<text x="205.3" y="1219.6" font-size="7.3" font-weight="bold" fill="#111" text-anchor="start" stroke="#111" stroke-width="0.2">(µM)</text>
<path d="M92.7 1224.6H198.3M92.7 1238.6H198.3" stroke="#111" stroke-width="1" fill="none"/>
<text x="145.5" y="1234.2" font-size="8" font-weight="bold" fill="#111" text-anchor="middle" stroke="#111" stroke-width="0.2">PRX</text>
<text x="143.4" y="1250" font-size="8" font-weight="bold" fill="#111" text-anchor="middle" stroke="#111" stroke-width="0.2">27OHChol (2µg/ml)</text>
<text transform="translate(22.4 1157.4) rotate(-90)" font-size="8.1" font-weight="bold" fill="#111" stroke="#111" stroke-width="0.2" text-anchor="middle">Relative amount of</text>
<text transform="translate(32.2 1157.4) rotate(-90)" font-size="8.1" font-weight="bold" fill="#111" stroke="#111" stroke-width="0.2" text-anchor="middle">CD80 mRNA</text>
<text transform="translate(283.6 1209.1) scale(1 1.05)" font-size="6.9" font-weight="bold" fill="#111" stroke="#111" stroke-width="0.15" text-anchor="end">0</text>
<text transform="translate(283.6 1176.4) scale(1 1.05)" font-size="6.9" font-weight="bold" fill="#111" stroke="#111" stroke-width="0.15" text-anchor="end">10</text>
<text transform="translate(283.6 1143.7) scale(1 1.05)" font-size="6.9" font-weight="bold" fill="#111" stroke="#111" stroke-width="0.15" text-anchor="end">20</text>
<text transform="translate(283.6 1111) scale(1 1.05)" font-size="6.9" font-weight="bold" fill="#111" stroke="#111" stroke-width="0.15" text-anchor="end">30</text>
<path d="M287.6 1108.8V1206.6H435.4M284.6 1206.6H287.6M284.6 1173.9H287.6M284.6 1141.2H287.6M284.6 1108.5H287.6M302 1206.6V1209.4M331.6 1206.6V1209.4M360.9 1206.6V1209.4M390.35 1206.6V1209.4M419.75 1206.6V1209.4" stroke="#000" stroke-width="1.5" fill="none"/>
<text x="303.5" y="1219.6" font-size="8" font-weight="bold" fill="#111" text-anchor="middle" stroke="#111" stroke-width="0.2">control</text>
<text x="332.2" y="1219.6" font-size="8" font-weight="bold" fill="#111" text-anchor="middle" stroke="#111" stroke-width="0.2">0</text>
<text x="361" y="1219.6" font-size="8" font-weight="bold" fill="#111" text-anchor="middle" stroke="#111" stroke-width="0.2">0.2</text>
<text x="391" y="1219.6" font-size="8" font-weight="bold" fill="#111" text-anchor="middle" stroke="#111" stroke-width="0.2">1</text>
<text x="420.9" y="1219.6" font-size="8" font-weight="bold" fill="#111" text-anchor="middle" stroke="#111" stroke-width="0.2">5</text>
<rect x="291.9" y="1202.8" width="20.2" height="3.8" fill="#000"/>
<rect x="322.3" y="1132.7" width="18.6" height="73.9" fill="#f00" stroke="#000" stroke-width="1.8"/>
<path d="M332 1123.6V1140M326.8 1123.6H337.2M326.8 1140H337.2" stroke="#000" stroke-width="1.5" fill="none"/>
<rect x="352" y="1153.3" width="17.8" height="53.3" fill="#00f" stroke="#000" stroke-width="1.8"/>
<path d="M361.4 1148.2V1157.6M356.2 1148.2H366.6M356.2 1157.6H366.6" stroke="#000" stroke-width="1.5" fill="none"/>
<rect x="381.2" y="1153.3" width="18.3" height="53.3" fill="#00f" stroke="#000" stroke-width="1.8"/>
<path d="M390.6 1147.9V1157.6M385.4 1147.9H395.8M385.4 1157.6H395.8" stroke="#000" stroke-width="1.5" fill="none"/>
<rect x="410.8" y="1160.3" width="17.9" height="46.3" fill="#00f" stroke="#000" stroke-width="1.8"/>
<path d="M420.2 1152.8V1167M415 1152.8H425.4M415 1167H425.4" stroke="#000" stroke-width="1.5" fill="none"/>
<text x="332" y="1119.1" font-size="12.4" font-weight="bold" fill="#111" text-anchor="middle" stroke="#111" stroke-width="0.25">###</text>
<text x="361.5" y="1145.7" font-size="11.2" font-weight="bold" fill="#111" text-anchor="middle" >**</text>
<text x="390.5" y="1145.7" font-size="11.2" font-weight="bold" fill="#111" text-anchor="middle" >**</text>
<text x="420.1" y="1151.6" font-size="11.2" font-weight="bold" fill="#111" text-anchor="middle" >***</text>
<text x="443.1" y="1219.6" font-size="7.3" font-weight="bold" fill="#111" text-anchor="start" stroke="#111" stroke-width="0.2">(µM)</text>
<path d="M329.3 1224.6H435.4M329.3 1238.6H435.4" stroke="#111" stroke-width="1" fill="none"/>
<text x="382" y="1234.2" font-size="8" font-weight="bold" fill="#111" text-anchor="middle" stroke="#111" stroke-width="0.2">PRX</text>
<text x="380.2" y="1250" font-size="8" font-weight="bold" fill="#111" text-anchor="middle" stroke="#111" stroke-width="0.2">27OHChol (2µg/ml)</text>
<text transform="translate(257.6 1156.2) rotate(-90)" font-size="8.4" font-weight="bold" fill="#111" stroke="#111" stroke-width="0.2" text-anchor="middle">Relative amount of</text>
<text transform="translate(267.9 1156.2) rotate(-90)" font-size="8.4" font-weight="bold" fill="#111" stroke="#111" stroke-width="0.2" text-anchor="middle">CD83 mRNA</text>
<text transform="translate(509.1 1207.5) scale(1 1.05)" font-size="6.9" font-weight="bold" fill="#111" stroke="#111" stroke-width="0.15" text-anchor="end">0</text>
<text transform="translate(509.1 1182.33) scale(1 1.05)" font-size="6.9" font-weight="bold" fill="#111" stroke="#111" stroke-width="0.15" text-anchor="end">10</text>
<text transform="translate(509.1 1157.16) scale(1 1.05)" font-size="6.9" font-weight="bold" fill="#111" stroke="#111" stroke-width="0.15" text-anchor="end">20</text>
<text transform="translate(509.1 1131.99) scale(1 1.05)" font-size="6.9" font-weight="bold" fill="#111" stroke="#111" stroke-width="0.15" text-anchor="end">30</text>
<text transform="translate(509.1 1106.82) scale(1 1.05)" font-size="6.9" font-weight="bold" fill="#111" stroke="#111" stroke-width="0.15" text-anchor="end">40</text>
<path d="M513.1 1104.3V1205H662.6M510.1 1205H513.1M510.1 1179.83H513.1M510.1 1154.66H513.1M510.1 1129.49H513.1M510.1 1104.32H513.1M527.4 1205V1207.8M557.65 1205V1207.8M587.55 1205V1207.8M617.35 1205V1207.8M647.6 1205V1207.8" stroke="#000" stroke-width="1.5" fill="none"/>
<text x="530.4" y="1219.6" font-size="8" font-weight="bold" fill="#111" text-anchor="middle" stroke="#111" stroke-width="0.2">control</text>
<text x="559.4" y="1219.6" font-size="8" font-weight="bold" fill="#111" text-anchor="middle" stroke="#111" stroke-width="0.2">0</text>
<text x="587.2" y="1219.6" font-size="8" font-weight="bold" fill="#111" text-anchor="middle" stroke="#111" stroke-width="0.2">0.2</text>
<text x="617.5" y="1219.6" font-size="8" font-weight="bold" fill="#111" text-anchor="middle" stroke="#111" stroke-width="0.2">1</text>
<text x="647.4" y="1219.6" font-size="8" font-weight="bold" fill="#111" text-anchor="middle" stroke="#111" stroke-width="0.2">5</text>
<rect x="517.2" y="1201.9" width="20.4" height="3.1" fill="#000"/>
<rect x="548.2" y="1132.5" width="18.9" height="72.5" fill="#f00" stroke="#000" stroke-width="1.8"/>
<path d="M558.1 1122.4V1141.1M552.9 1122.4H563.3M552.9 1141.1H563.3" stroke="#000" stroke-width="1.5" fill="none"/>
<rect x="578.5" y="1154.2" width="18.1" height="50.8" fill="#00f" stroke="#000" stroke-width="1.8"/>
<path d="M587.8 1147.8V1159.7M582.6 1147.8H593M582.6 1159.7H593" stroke="#000" stroke-width="1.5" fill="none"/>
<rect x="608.3" y="1166.7" width="18.1" height="38.3" fill="#00f" stroke="#000" stroke-width="1.8"/>
<path d="M617.6 1160.4V1172.4M612.4 1160.4H622.8M612.4 1172.4H622.8" stroke="#000" stroke-width="1.5" fill="none"/>
<rect x="638.4" y="1174.3" width="18.4" height="30.7" fill="#00f" stroke="#000" stroke-width="1.8"/>
<path d="M647.8 1165.2V1182.2M642.6 1165.2H653M642.6 1182.2H653" stroke="#000" stroke-width="1.5" fill="none"/>
<text x="558.6" y="1118.2" font-size="12.4" font-weight="bold" fill="#111" text-anchor="middle" stroke="#111" stroke-width="0.25">###</text>
<text x="587.8" y="1147.8" font-size="11.2" font-weight="bold" fill="#111" text-anchor="middle" >*</text>
<text x="618.3" y="1159.8" font-size="11.2" font-weight="bold" fill="#111" text-anchor="middle" >***</text>
<text x="647.4" y="1164.7" font-size="11.2" font-weight="bold" fill="#111" text-anchor="middle" >***</text>
<text x="669.2" y="1219.6" font-size="7.3" font-weight="bold" fill="#111" text-anchor="start" stroke="#111" stroke-width="0.2">(µM)</text>
<path d="M555.7 1224.6H661.3M555.7 1238.6H661.3" stroke="#111" stroke-width="1" fill="none"/>
<text x="608.4" y="1234.2" font-size="8" font-weight="bold" fill="#111" text-anchor="middle" stroke="#111" stroke-width="0.2">PRX</text>
<text x="606.2" y="1250" font-size="8" font-weight="bold" fill="#111" text-anchor="middle" stroke="#111" stroke-width="0.2">27OHChol (2µg/ml)</text>
<text transform="translate(479.7 1153.2) rotate(-90)" font-size="8.5" font-weight="bold" fill="#111" stroke="#111" stroke-width="0.2" text-anchor="middle">Relative amount of</text>
<text transform="translate(489.4 1153.2) rotate(-90)" font-size="8.5" font-weight="bold" fill="#111" stroke="#111" stroke-width="0.2" text-anchor="middle">CD88 mRNA</text>
</svg>
</body></html>
